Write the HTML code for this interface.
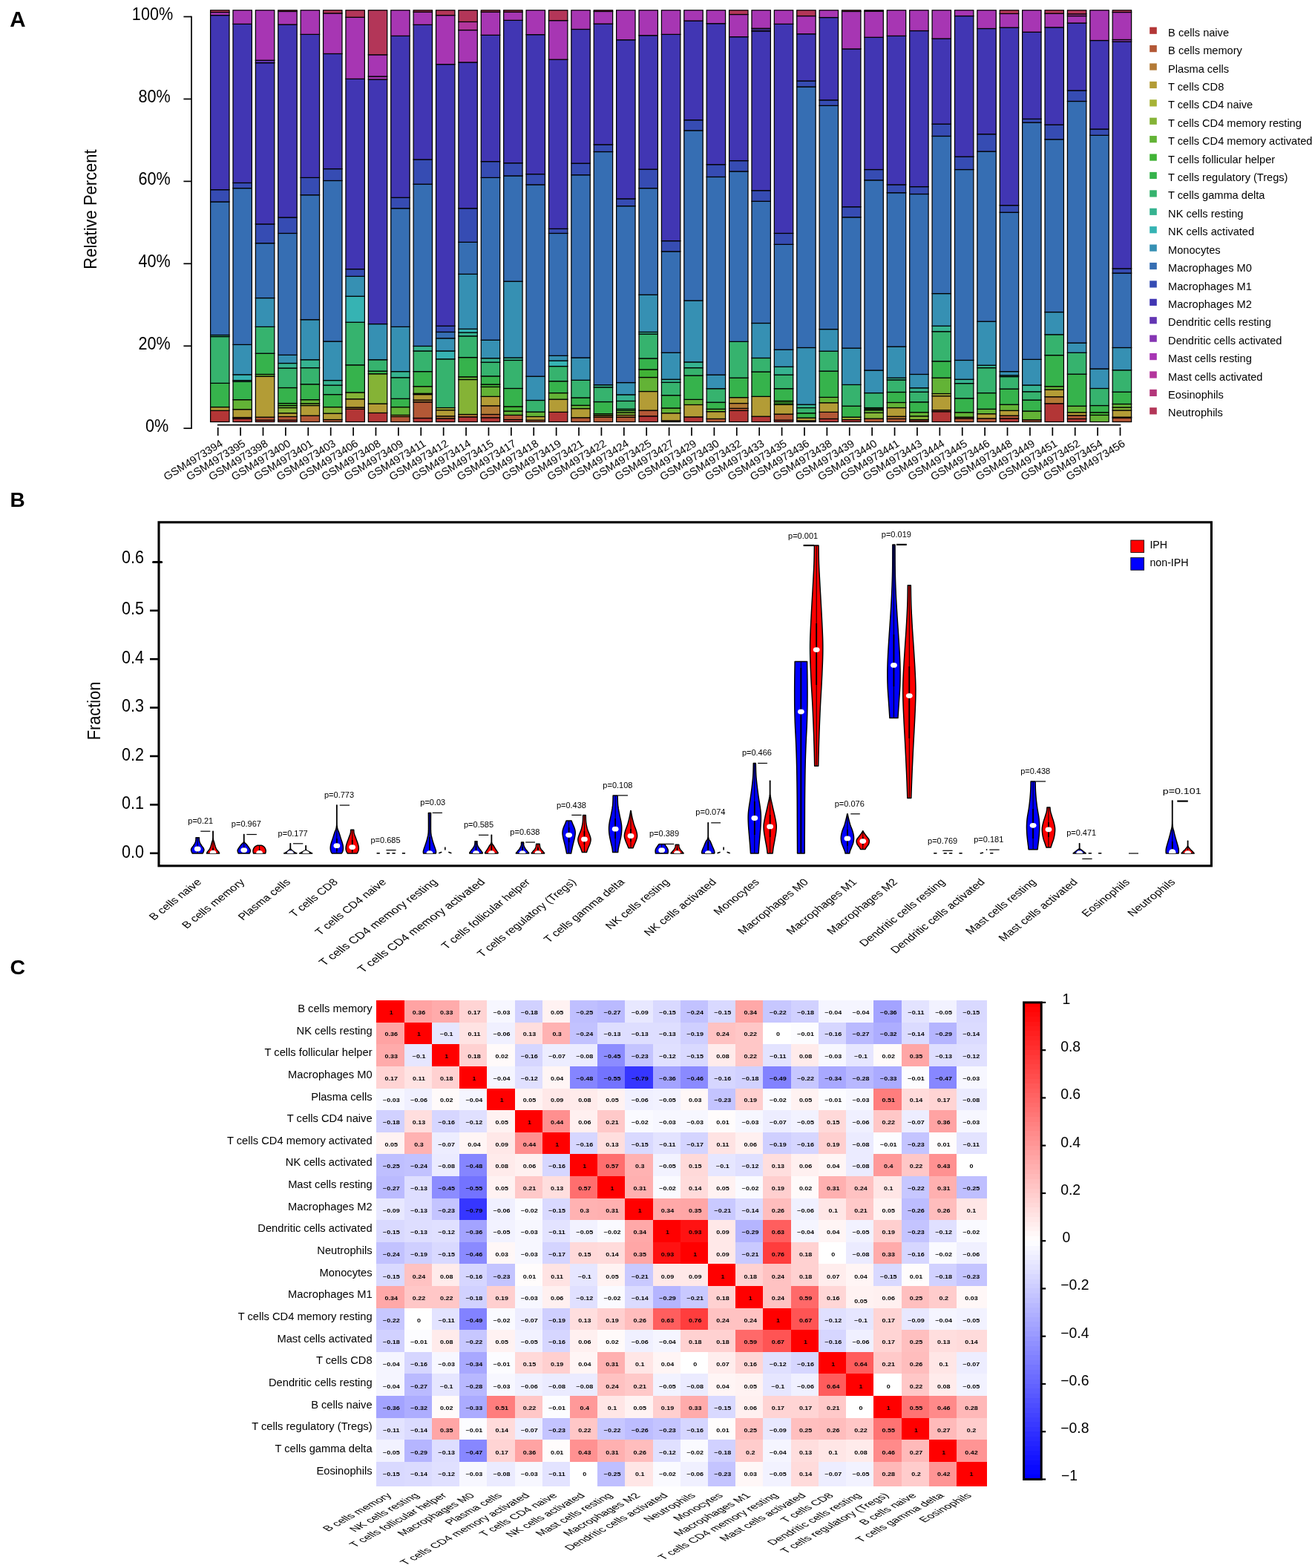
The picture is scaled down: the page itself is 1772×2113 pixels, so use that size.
<!DOCTYPE html>
<html lang="en"><head><meta charset="utf-8"><title>Immune cell infiltration figure</title>
<style>html,body{margin:0;padding:0;background:#fff}svg{display:block}text{font-family:"Liberation Sans",Arial,Helvetica,sans-serif;fill:#000}</style>
</head><body>
<svg width="1772" height="2113" viewBox="0 0 1772 2113" role="img" aria-label="Immune cell infiltration: stacked bar chart, violin plot and correlation heatmap">
<rect width="1772" height="2113" fill="#fff"/>
<g id="panelA">
<text x="13.3" y="35.6" font-size="29.5" font-weight="bold">A</text>
<g stroke="#000" stroke-width="1.25">
<rect x="283.6" y="553.3" width="25.4" height="15.2" fill="#b33636"/>
<rect x="283.6" y="548.55" width="25.4" height="4.75" fill="#b39c36"/>
<rect x="283.6" y="516.38" width="25.4" height="32.17" fill="#36b34c"/>
<rect x="283.6" y="453.55" width="25.4" height="62.84" fill="#36b36e"/>
<rect x="283.6" y="451.51" width="25.4" height="2.04" fill="#36b390"/>
<rect x="283.6" y="271.94" width="25.4" height="179.57" fill="#366eb3"/>
<rect x="283.6" y="255.66" width="25.4" height="16.29" fill="#364cb3"/>
<rect x="283.6" y="20.59" width="25.4" height="235.07" fill="#4136b3"/>
<rect x="283.6" y="16.51" width="25.4" height="4.07" fill="#a736b3"/>
<rect x="283.6" y="13.8" width="25.4" height="2.71" fill="#b33658"/>
<rect x="313.99" y="564.16" width="25.4" height="4.34" fill="#b33636"/>
<rect x="313.99" y="562.53" width="25.4" height="1.63" fill="#b35836"/>
<rect x="313.99" y="551.67" width="25.4" height="10.86" fill="#b39c36"/>
<rect x="313.99" y="538.64" width="25.4" height="13.03" fill="#63b336"/>
<rect x="313.99" y="514.21" width="25.4" height="24.43" fill="#36b34c"/>
<rect x="313.99" y="512.58" width="25.4" height="1.63" fill="#36b390"/>
<rect x="313.99" y="504.85" width="25.4" height="7.74" fill="#36b3b3"/>
<rect x="313.99" y="464.4" width="25.4" height="40.45" fill="#3690b3"/>
<rect x="313.99" y="253.62" width="25.4" height="210.78" fill="#366eb3"/>
<rect x="313.99" y="246.43" width="25.4" height="7.19" fill="#364cb3"/>
<rect x="313.99" y="32.39" width="25.4" height="214.03" fill="#4136b3"/>
<rect x="313.99" y="13.8" width="25.4" height="18.59" fill="#a736b3"/>
<rect x="344.38" y="566.19" width="25.4" height="2.31" fill="#b33636"/>
<rect x="344.38" y="562.12" width="25.4" height="4.07" fill="#b35836"/>
<rect x="344.38" y="507.16" width="25.4" height="54.97" fill="#b39c36"/>
<rect x="344.38" y="504.44" width="25.4" height="2.71" fill="#63b336"/>
<rect x="344.38" y="476.21" width="25.4" height="28.23" fill="#36b34c"/>
<rect x="344.38" y="440.38" width="25.4" height="35.83" fill="#36b36e"/>
<rect x="344.38" y="401.56" width="25.4" height="38.82" fill="#3690b3"/>
<rect x="344.38" y="327.73" width="25.4" height="73.83" fill="#366eb3"/>
<rect x="344.38" y="301.94" width="25.4" height="25.79" fill="#364cb3"/>
<rect x="344.38" y="84.65" width="25.4" height="217.3" fill="#4136b3"/>
<rect x="344.38" y="81.25" width="25.4" height="3.39" fill="#6336b3"/>
<rect x="344.38" y="13.8" width="25.4" height="67.45" fill="#a736b3"/>
<rect x="374.77" y="566.19" width="25.4" height="2.31" fill="#b33636"/>
<rect x="374.77" y="561.44" width="25.4" height="4.75" fill="#b35836"/>
<rect x="374.77" y="556.69" width="25.4" height="4.75" fill="#b39c36"/>
<rect x="374.77" y="549.5" width="25.4" height="7.19" fill="#85b336"/>
<rect x="374.77" y="546.51" width="25.4" height="2.99" fill="#63b336"/>
<rect x="374.77" y="543.53" width="25.4" height="2.99" fill="#41b336"/>
<rect x="374.77" y="522.49" width="25.4" height="21.04" fill="#36b34c"/>
<rect x="374.77" y="496.03" width="25.4" height="26.47" fill="#36b36e"/>
<rect x="374.77" y="489.51" width="25.4" height="6.51" fill="#36b390"/>
<rect x="374.77" y="478.38" width="25.4" height="11.13" fill="#3690b3"/>
<rect x="374.77" y="314.43" width="25.4" height="163.95" fill="#366eb3"/>
<rect x="374.77" y="292.99" width="25.4" height="21.44" fill="#364cb3"/>
<rect x="374.77" y="33.07" width="25.4" height="259.91" fill="#4136b3"/>
<rect x="374.77" y="15.43" width="25.4" height="17.64" fill="#a736b3"/>
<rect x="374.77" y="13.8" width="25.4" height="1.63" fill="#b33658"/>
<rect x="405.16" y="560.09" width="25.4" height="8.41" fill="#b35836"/>
<rect x="405.16" y="546.51" width="25.4" height="13.57" fill="#b39c36"/>
<rect x="405.16" y="543.8" width="25.4" height="2.71" fill="#85b336"/>
<rect x="405.16" y="538.64" width="25.4" height="5.16" fill="#63b336"/>
<rect x="405.16" y="517.74" width="25.4" height="20.9" fill="#36b34c"/>
<rect x="405.16" y="495.62" width="25.4" height="22.12" fill="#36b36e"/>
<rect x="405.16" y="484.76" width="25.4" height="10.86" fill="#36b390"/>
<rect x="405.16" y="430.74" width="25.4" height="54.02" fill="#3690b3"/>
<rect x="405.16" y="262.71" width="25.4" height="168.03" fill="#366eb3"/>
<rect x="405.16" y="239.37" width="25.4" height="23.34" fill="#364cb3"/>
<rect x="405.16" y="46.37" width="25.4" height="193" fill="#4136b3"/>
<rect x="405.16" y="13.8" width="25.4" height="32.57" fill="#a736b3"/>
<rect x="435.55" y="565.52" width="25.4" height="2.98" fill="#b35836"/>
<rect x="435.55" y="557.1" width="25.4" height="8.41" fill="#b39c36"/>
<rect x="435.55" y="548.55" width="25.4" height="8.55" fill="#85b336"/>
<rect x="435.55" y="531.59" width="25.4" height="16.97" fill="#36b34c"/>
<rect x="435.55" y="519.1" width="25.4" height="12.49" fill="#36b36e"/>
<rect x="435.55" y="512.58" width="25.4" height="6.51" fill="#36b390"/>
<rect x="435.55" y="460.06" width="25.4" height="52.52" fill="#3690b3"/>
<rect x="435.55" y="243.44" width="25.4" height="216.62" fill="#366eb3"/>
<rect x="435.55" y="227.56" width="25.4" height="15.88" fill="#364cb3"/>
<rect x="435.55" y="72.43" width="25.4" height="155.13" fill="#4136b3"/>
<rect x="435.55" y="17.87" width="25.4" height="54.56" fill="#a736b3"/>
<rect x="435.55" y="13.8" width="25.4" height="4.07" fill="#b33658"/>
<rect x="465.94" y="551.26" width="25.4" height="17.24" fill="#b33636"/>
<rect x="465.94" y="548.96" width="25.4" height="2.31" fill="#b37a36"/>
<rect x="465.94" y="537.69" width="25.4" height="11.26" fill="#b39c36"/>
<rect x="465.94" y="528.87" width="25.4" height="8.82" fill="#85b336"/>
<rect x="465.94" y="491.82" width="25.4" height="37.05" fill="#36b34c"/>
<rect x="465.94" y="434.27" width="25.4" height="57.55" fill="#36b36e"/>
<rect x="465.94" y="399.26" width="25.4" height="35.02" fill="#36b3b3"/>
<rect x="465.94" y="372.38" width="25.4" height="26.87" fill="#3690b3"/>
<rect x="465.94" y="362.61" width="25.4" height="9.77" fill="#364cb3"/>
<rect x="465.94" y="106.36" width="25.4" height="256.25" fill="#4136b3"/>
<rect x="465.94" y="23.3" width="25.4" height="83.06" fill="#a736b3"/>
<rect x="465.94" y="13.8" width="25.4" height="9.5" fill="#b33658"/>
<rect x="496.33" y="556.42" width="25.4" height="12.08" fill="#b33636"/>
<rect x="496.33" y="544.07" width="25.4" height="12.35" fill="#b39c36"/>
<rect x="496.33" y="503.76" width="25.4" height="40.31" fill="#85b336"/>
<rect x="496.33" y="500.1" width="25.4" height="3.66" fill="#36b34c"/>
<rect x="496.33" y="484.76" width="25.4" height="15.34" fill="#36b36e"/>
<rect x="496.33" y="436.58" width="25.4" height="48.18" fill="#3690b3"/>
<rect x="496.33" y="107.04" width="25.4" height="329.54" fill="#4136b3"/>
<rect x="496.33" y="102.97" width="25.4" height="4.07" fill="#a736b3"/>
<rect x="496.33" y="73.79" width="25.4" height="29.18" fill="#a736b3"/>
<rect x="496.33" y="13.8" width="25.4" height="59.99" fill="#b33658"/>
<rect x="526.72" y="561.44" width="25.4" height="7.06" fill="#b35836"/>
<rect x="526.72" y="559.41" width="25.4" height="2.04" fill="#b39c36"/>
<rect x="526.72" y="548.55" width="25.4" height="10.86" fill="#63b336"/>
<rect x="526.72" y="537.29" width="25.4" height="11.26" fill="#36b34c"/>
<rect x="526.72" y="508.78" width="25.4" height="28.5" fill="#36b36e"/>
<rect x="526.72" y="500.64" width="25.4" height="8.14" fill="#36b390"/>
<rect x="526.72" y="440.38" width="25.4" height="60.26" fill="#3690b3"/>
<rect x="526.72" y="280.77" width="25.4" height="159.61" fill="#366eb3"/>
<rect x="526.72" y="266.24" width="25.4" height="14.52" fill="#364cb3"/>
<rect x="526.72" y="48.41" width="25.4" height="217.83" fill="#4136b3"/>
<rect x="526.72" y="13.8" width="25.4" height="34.61" fill="#a736b3"/>
<rect x="557.11" y="563.48" width="25.4" height="5.02" fill="#b33636"/>
<rect x="557.11" y="541.76" width="25.4" height="21.72" fill="#b35836"/>
<rect x="557.11" y="539.05" width="25.4" height="2.71" fill="#b37a36"/>
<rect x="557.11" y="531.59" width="25.4" height="7.46" fill="#b39c36"/>
<rect x="557.11" y="530.23" width="25.4" height="1.36" fill="#a7b336"/>
<rect x="557.11" y="520.73" width="25.4" height="9.5" fill="#63b336"/>
<rect x="557.11" y="500.64" width="25.4" height="20.09" fill="#36b34c"/>
<rect x="557.11" y="472.95" width="25.4" height="27.69" fill="#36b36e"/>
<rect x="557.11" y="466.44" width="25.4" height="6.51" fill="#36b390"/>
<rect x="557.11" y="248.19" width="25.4" height="218.25" fill="#366eb3"/>
<rect x="557.11" y="214.94" width="25.4" height="33.25" fill="#364cb3"/>
<rect x="557.11" y="33.34" width="25.4" height="181.6" fill="#4136b3"/>
<rect x="557.11" y="16.11" width="25.4" height="17.24" fill="#a736b3"/>
<rect x="557.11" y="13.8" width="25.4" height="2.31" fill="#b33658"/>
<rect x="587.5" y="563.89" width="25.4" height="4.61" fill="#b33636"/>
<rect x="587.5" y="560.77" width="25.4" height="3.12" fill="#b37a36"/>
<rect x="587.5" y="552.62" width="25.4" height="8.14" fill="#b39c36"/>
<rect x="587.5" y="549.5" width="25.4" height="3.12" fill="#a7b336"/>
<rect x="587.5" y="483.81" width="25.4" height="65.69" fill="#36b36e"/>
<rect x="587.5" y="472.95" width="25.4" height="10.86" fill="#36b3b3"/>
<rect x="587.5" y="455.85" width="25.4" height="17.1" fill="#3690b3"/>
<rect x="587.5" y="447.44" width="25.4" height="8.41" fill="#366eb3"/>
<rect x="587.5" y="439.29" width="25.4" height="8.14" fill="#364cb3"/>
<rect x="587.5" y="86.68" width="25.4" height="352.61" fill="#4136b3"/>
<rect x="587.5" y="20.59" width="25.4" height="66.1" fill="#a736b3"/>
<rect x="587.5" y="13.8" width="25.4" height="6.79" fill="#b33658"/>
<rect x="617.89" y="561.85" width="25.4" height="6.65" fill="#b33636"/>
<rect x="617.89" y="558.46" width="25.4" height="3.39" fill="#b37a36"/>
<rect x="617.89" y="511.5" width="25.4" height="46.96" fill="#85b336"/>
<rect x="617.89" y="507.83" width="25.4" height="3.66" fill="#63b336"/>
<rect x="617.89" y="481.64" width="25.4" height="26.19" fill="#36b34c"/>
<rect x="617.89" y="452.87" width="25.4" height="28.77" fill="#36b36e"/>
<rect x="617.89" y="448.12" width="25.4" height="4.75" fill="#36b390"/>
<rect x="617.89" y="443.37" width="25.4" height="4.75" fill="#36b3b3"/>
<rect x="617.89" y="369.4" width="25.4" height="73.97" fill="#3690b3"/>
<rect x="617.89" y="326.37" width="25.4" height="43.02" fill="#366eb3"/>
<rect x="617.89" y="280.77" width="25.4" height="45.61" fill="#364cb3"/>
<rect x="617.89" y="83.97" width="25.4" height="196.8" fill="#4136b3"/>
<rect x="617.89" y="40.54" width="25.4" height="43.43" fill="#a736b3"/>
<rect x="617.89" y="29.41" width="25.4" height="11.13" fill="#b3369c"/>
<rect x="617.89" y="13.8" width="25.4" height="15.61" fill="#b33658"/>
<rect x="648.28" y="562.8" width="25.4" height="5.7" fill="#b33636"/>
<rect x="648.28" y="558.46" width="25.4" height="4.34" fill="#b35836"/>
<rect x="648.28" y="546.79" width="25.4" height="11.67" fill="#b37a36"/>
<rect x="648.28" y="534.3" width="25.4" height="12.49" fill="#b39c36"/>
<rect x="648.28" y="521.41" width="25.4" height="12.89" fill="#63b336"/>
<rect x="648.28" y="518.01" width="25.4" height="3.39" fill="#41b336"/>
<rect x="648.28" y="506.88" width="25.4" height="11.13" fill="#36b34c"/>
<rect x="648.28" y="488.15" width="25.4" height="18.73" fill="#36b36e"/>
<rect x="648.28" y="482.73" width="25.4" height="5.43" fill="#36b390"/>
<rect x="648.28" y="458.3" width="25.4" height="24.43" fill="#3690b3"/>
<rect x="648.28" y="239.37" width="25.4" height="218.93" fill="#366eb3"/>
<rect x="648.28" y="217.65" width="25.4" height="21.72" fill="#364cb3"/>
<rect x="648.28" y="47.32" width="25.4" height="170.33" fill="#4136b3"/>
<rect x="648.28" y="16.11" width="25.4" height="31.22" fill="#a736b3"/>
<rect x="648.28" y="13.8" width="25.4" height="2.31" fill="#b33658"/>
<rect x="678.67" y="565.52" width="25.4" height="2.98" fill="#b33636"/>
<rect x="678.67" y="559.41" width="25.4" height="6.11" fill="#b35836"/>
<rect x="678.67" y="553.98" width="25.4" height="5.43" fill="#63b336"/>
<rect x="678.67" y="547.87" width="25.4" height="6.11" fill="#41b336"/>
<rect x="678.67" y="523.44" width="25.4" height="24.43" fill="#36b34c"/>
<rect x="678.67" y="485.44" width="25.4" height="38" fill="#36b36e"/>
<rect x="678.67" y="482.05" width="25.4" height="3.39" fill="#36b390"/>
<rect x="678.67" y="379.17" width="25.4" height="102.88" fill="#3690b3"/>
<rect x="678.67" y="236.93" width="25.4" height="142.24" fill="#366eb3"/>
<rect x="678.67" y="219.69" width="25.4" height="17.24" fill="#364cb3"/>
<rect x="678.67" y="27.37" width="25.4" height="192.32" fill="#4136b3"/>
<rect x="678.67" y="16.11" width="25.4" height="11.26" fill="#a736b3"/>
<rect x="678.67" y="13.8" width="25.4" height="2.31" fill="#b33658"/>
<rect x="709.06" y="566.19" width="25.4" height="2.31" fill="#b35836"/>
<rect x="709.06" y="561.44" width="25.4" height="4.75" fill="#b39c36"/>
<rect x="709.06" y="555.07" width="25.4" height="6.38" fill="#63b336"/>
<rect x="709.06" y="539.46" width="25.4" height="15.61" fill="#36b36e"/>
<rect x="709.06" y="507.16" width="25.4" height="32.3" fill="#3690b3"/>
<rect x="709.06" y="248.87" width="25.4" height="258.28" fill="#366eb3"/>
<rect x="709.06" y="234.62" width="25.4" height="14.25" fill="#364cb3"/>
<rect x="709.06" y="46.64" width="25.4" height="187.98" fill="#4136b3"/>
<rect x="709.06" y="13.8" width="25.4" height="32.84" fill="#a736b3"/>
<rect x="739.45" y="555.34" width="25.4" height="13.16" fill="#b33636"/>
<rect x="739.45" y="538.1" width="25.4" height="17.24" fill="#b39c36"/>
<rect x="739.45" y="529.55" width="25.4" height="8.55" fill="#63b336"/>
<rect x="739.45" y="513.67" width="25.4" height="15.88" fill="#36b34c"/>
<rect x="739.45" y="493.58" width="25.4" height="20.09" fill="#36b36e"/>
<rect x="739.45" y="486.12" width="25.4" height="7.46" fill="#36b3b3"/>
<rect x="739.45" y="479.33" width="25.4" height="6.79" fill="#3690b3"/>
<rect x="739.45" y="314.43" width="25.4" height="164.9" fill="#366eb3"/>
<rect x="739.45" y="308.32" width="25.4" height="6.11" fill="#364cb3"/>
<rect x="739.45" y="80.17" width="25.4" height="228.15" fill="#4136b3"/>
<rect x="739.45" y="27.64" width="25.4" height="52.52" fill="#a736b3"/>
<rect x="739.45" y="13.8" width="25.4" height="13.84" fill="#b33658"/>
<rect x="769.84" y="562.8" width="25.4" height="5.7" fill="#b35836"/>
<rect x="769.84" y="550.59" width="25.4" height="12.21" fill="#b39c36"/>
<rect x="769.84" y="546.24" width="25.4" height="4.34" fill="#63b336"/>
<rect x="769.84" y="535.93" width="25.4" height="10.31" fill="#36b34c"/>
<rect x="769.84" y="512.31" width="25.4" height="23.62" fill="#36b36e"/>
<rect x="769.84" y="482.05" width="25.4" height="30.27" fill="#3690b3"/>
<rect x="769.84" y="235.71" width="25.4" height="246.34" fill="#366eb3"/>
<rect x="769.84" y="220.1" width="25.4" height="15.61" fill="#364cb3"/>
<rect x="769.84" y="39.45" width="25.4" height="180.65" fill="#4136b3"/>
<rect x="769.84" y="13.8" width="25.4" height="25.65" fill="#a736b3"/>
<rect x="800.23" y="562.12" width="25.4" height="6.38" fill="#b35836"/>
<rect x="800.23" y="559.82" width="25.4" height="2.31" fill="#b37a36"/>
<rect x="800.23" y="557.64" width="25.4" height="2.17" fill="#63b336"/>
<rect x="800.23" y="541.49" width="25.4" height="16.15" fill="#36b34c"/>
<rect x="800.23" y="521.81" width="25.4" height="19.68" fill="#36b36e"/>
<rect x="800.23" y="518.69" width="25.4" height="3.12" fill="#36b390"/>
<rect x="800.23" y="204.49" width="25.4" height="314.2" fill="#366eb3"/>
<rect x="800.23" y="194.85" width="25.4" height="9.64" fill="#364cb3"/>
<rect x="800.23" y="32.12" width="25.4" height="162.73" fill="#4136b3"/>
<rect x="800.23" y="15.43" width="25.4" height="16.69" fill="#a736b3"/>
<rect x="800.23" y="13.8" width="25.4" height="1.63" fill="#b33658"/>
<rect x="830.62" y="562.12" width="25.4" height="6.38" fill="#b35836"/>
<rect x="830.62" y="559.41" width="25.4" height="2.71" fill="#b37a36"/>
<rect x="830.62" y="556.02" width="25.4" height="3.39" fill="#85b336"/>
<rect x="830.62" y="553.3" width="25.4" height="2.71" fill="#63b336"/>
<rect x="830.62" y="551.26" width="25.4" height="2.04" fill="#36b34c"/>
<rect x="830.62" y="540.41" width="25.4" height="10.86" fill="#36b36e"/>
<rect x="830.62" y="531.86" width="25.4" height="8.55" fill="#36b390"/>
<rect x="830.62" y="515.57" width="25.4" height="16.29" fill="#3690b3"/>
<rect x="830.62" y="277.64" width="25.4" height="237.93" fill="#366eb3"/>
<rect x="830.62" y="267.87" width="25.4" height="9.77" fill="#364cb3"/>
<rect x="830.62" y="53.7" width="25.4" height="214.17" fill="#4136b3"/>
<rect x="830.62" y="13.8" width="25.4" height="39.9" fill="#a736b3"/>
<rect x="861.01" y="560.77" width="25.4" height="7.73" fill="#b33636"/>
<rect x="861.01" y="553.03" width="25.4" height="7.74" fill="#b35836"/>
<rect x="861.01" y="527.51" width="25.4" height="25.52" fill="#b39c36"/>
<rect x="861.01" y="508.51" width="25.4" height="19" fill="#63b336"/>
<rect x="861.01" y="497.93" width="25.4" height="10.59" fill="#41b336"/>
<rect x="861.01" y="483" width="25.4" height="14.93" fill="#36b34c"/>
<rect x="861.01" y="450.15" width="25.4" height="32.84" fill="#36b36e"/>
<rect x="861.01" y="447.44" width="25.4" height="2.71" fill="#36b390"/>
<rect x="861.01" y="397.22" width="25.4" height="50.22" fill="#3690b3"/>
<rect x="861.01" y="253.62" width="25.4" height="143.6" fill="#366eb3"/>
<rect x="861.01" y="228.11" width="25.4" height="25.52" fill="#364cb3"/>
<rect x="861.01" y="47.73" width="25.4" height="180.37" fill="#4136b3"/>
<rect x="861.01" y="13.8" width="25.4" height="33.93" fill="#a736b3"/>
<rect x="891.4" y="566.87" width="25.4" height="1.63" fill="#b33636"/>
<rect x="891.4" y="556.69" width="25.4" height="10.18" fill="#b39c36"/>
<rect x="891.4" y="549.91" width="25.4" height="6.79" fill="#63b336"/>
<rect x="891.4" y="532.67" width="25.4" height="17.24" fill="#36b34c"/>
<rect x="891.4" y="515.3" width="25.4" height="17.37" fill="#36b36e"/>
<rect x="891.4" y="511.23" width="25.4" height="4.07" fill="#36b390"/>
<rect x="891.4" y="475.26" width="25.4" height="35.97" fill="#3690b3"/>
<rect x="891.4" y="338.86" width="25.4" height="136.4" fill="#366eb3"/>
<rect x="891.4" y="324.61" width="25.4" height="14.25" fill="#364cb3"/>
<rect x="891.4" y="46.37" width="25.4" height="278.24" fill="#4136b3"/>
<rect x="891.4" y="13.8" width="25.4" height="32.57" fill="#a736b3"/>
<rect x="921.79" y="561.85" width="25.4" height="6.65" fill="#b33636"/>
<rect x="921.79" y="545.43" width="25.4" height="16.42" fill="#b39c36"/>
<rect x="921.79" y="538.37" width="25.4" height="7.06" fill="#63b336"/>
<rect x="921.79" y="506.07" width="25.4" height="32.3" fill="#36b34c"/>
<rect x="921.79" y="495.62" width="25.4" height="10.45" fill="#36b36e"/>
<rect x="921.79" y="487.88" width="25.4" height="7.74" fill="#36b390"/>
<rect x="921.79" y="405.09" width="25.4" height="82.79" fill="#3690b3"/>
<rect x="921.79" y="175.85" width="25.4" height="229.24" fill="#366eb3"/>
<rect x="921.79" y="161.74" width="25.4" height="14.12" fill="#364cb3"/>
<rect x="921.79" y="28.05" width="25.4" height="133.69" fill="#4136b3"/>
<rect x="921.79" y="13.8" width="25.4" height="14.25" fill="#a736b3"/>
<rect x="952.18" y="564.43" width="25.4" height="4.07" fill="#b35836"/>
<rect x="952.18" y="554.66" width="25.4" height="9.77" fill="#b39c36"/>
<rect x="952.18" y="551.26" width="25.4" height="3.39" fill="#63b336"/>
<rect x="952.18" y="542.17" width="25.4" height="9.09" fill="#36b34c"/>
<rect x="952.18" y="523.71" width="25.4" height="18.46" fill="#36b36e"/>
<rect x="952.18" y="505.12" width="25.4" height="18.59" fill="#3690b3"/>
<rect x="952.18" y="238.42" width="25.4" height="266.7" fill="#366eb3"/>
<rect x="952.18" y="221.73" width="25.4" height="16.69" fill="#364cb3"/>
<rect x="952.18" y="31.72" width="25.4" height="190.01" fill="#4136b3"/>
<rect x="952.18" y="13.8" width="25.4" height="17.92" fill="#a736b3"/>
<rect x="982.57" y="553.3" width="25.4" height="15.2" fill="#b33636"/>
<rect x="982.57" y="550.31" width="25.4" height="2.99" fill="#b35836"/>
<rect x="982.57" y="543.53" width="25.4" height="6.79" fill="#b37a36"/>
<rect x="982.57" y="535.66" width="25.4" height="7.87" fill="#b39c36"/>
<rect x="982.57" y="509.19" width="25.4" height="26.47" fill="#36b34c"/>
<rect x="982.57" y="460.33" width="25.4" height="48.86" fill="#36b36e"/>
<rect x="982.57" y="230.96" width="25.4" height="229.38" fill="#366eb3"/>
<rect x="982.57" y="216.57" width="25.4" height="14.39" fill="#364cb3"/>
<rect x="982.57" y="49.63" width="25.4" height="166.94" fill="#4136b3"/>
<rect x="982.57" y="19.5" width="25.4" height="30.13" fill="#a736b3"/>
<rect x="982.57" y="13.8" width="25.4" height="5.7" fill="#b33658"/>
<rect x="1012.96" y="561.17" width="25.4" height="7.33" fill="#b33636"/>
<rect x="1012.96" y="534.3" width="25.4" height="26.87" fill="#b39c36"/>
<rect x="1012.96" y="501.05" width="25.4" height="33.25" fill="#36b34c"/>
<rect x="1012.96" y="482.45" width="25.4" height="18.59" fill="#36b36e"/>
<rect x="1012.96" y="435.49" width="25.4" height="46.96" fill="#3690b3"/>
<rect x="1012.96" y="271.26" width="25.4" height="164.23" fill="#366eb3"/>
<rect x="1012.96" y="256.74" width="25.4" height="14.52" fill="#364cb3"/>
<rect x="1012.96" y="41.89" width="25.4" height="214.85" fill="#4136b3"/>
<rect x="1012.96" y="38.23" width="25.4" height="3.66" fill="#3a2a7a"/>
<rect x="1012.96" y="13.8" width="25.4" height="24.43" fill="#a736b3"/>
<rect x="1043.35" y="566.19" width="25.4" height="2.31" fill="#b33636"/>
<rect x="1043.35" y="558.05" width="25.4" height="8.14" fill="#b35836"/>
<rect x="1043.35" y="545.16" width="25.4" height="12.89" fill="#b39c36"/>
<rect x="1043.35" y="540.41" width="25.4" height="4.75" fill="#2a6b1e"/>
<rect x="1043.35" y="523.71" width="25.4" height="16.69" fill="#36b34c"/>
<rect x="1043.35" y="505.12" width="25.4" height="18.59" fill="#36b36e"/>
<rect x="1043.35" y="494.26" width="25.4" height="10.86" fill="#36b390"/>
<rect x="1043.35" y="471.19" width="25.4" height="23.07" fill="#3690b3"/>
<rect x="1043.35" y="329.36" width="25.4" height="141.83" fill="#366eb3"/>
<rect x="1043.35" y="314.43" width="25.4" height="14.93" fill="#364cb3"/>
<rect x="1043.35" y="32.39" width="25.4" height="282.04" fill="#4136b3"/>
<rect x="1043.35" y="13.8" width="25.4" height="18.59" fill="#a736b3"/>
<rect x="1073.74" y="566.87" width="25.4" height="1.63" fill="#b33636"/>
<rect x="1073.74" y="563.07" width="25.4" height="3.8" fill="#b39c36"/>
<rect x="1073.74" y="556.69" width="25.4" height="6.38" fill="#36b34c"/>
<rect x="1073.74" y="549.5" width="25.4" height="7.19" fill="#36b36e"/>
<rect x="1073.74" y="545.16" width="25.4" height="4.34" fill="#36b390"/>
<rect x="1073.74" y="468.47" width="25.4" height="76.68" fill="#3690b3"/>
<rect x="1073.74" y="116.95" width="25.4" height="351.53" fill="#366eb3"/>
<rect x="1073.74" y="109.08" width="25.4" height="7.87" fill="#364cb3"/>
<rect x="1073.74" y="45.69" width="25.4" height="63.38" fill="#4136b3"/>
<rect x="1073.74" y="21.54" width="25.4" height="24.16" fill="#a736b3"/>
<rect x="1073.74" y="13.8" width="25.4" height="7.74" fill="#b33658"/>
<rect x="1104.13" y="564.43" width="25.4" height="4.07" fill="#b33636"/>
<rect x="1104.13" y="555.34" width="25.4" height="9.09" fill="#b35836"/>
<rect x="1104.13" y="542.71" width="25.4" height="12.62" fill="#b39c36"/>
<rect x="1104.13" y="535.39" width="25.4" height="7.33" fill="#63b336"/>
<rect x="1104.13" y="500.1" width="25.4" height="35.29" fill="#36b34c"/>
<rect x="1104.13" y="473.22" width="25.4" height="26.87" fill="#36b36e"/>
<rect x="1104.13" y="443.64" width="25.4" height="29.59" fill="#3690b3"/>
<rect x="1104.13" y="142.33" width="25.4" height="301.31" fill="#366eb3"/>
<rect x="1104.13" y="134.86" width="25.4" height="7.46" fill="#364cb3"/>
<rect x="1104.13" y="23.57" width="25.4" height="111.29" fill="#4136b3"/>
<rect x="1104.13" y="13.8" width="25.4" height="9.77" fill="#a736b3"/>
<rect x="1134.52" y="565.52" width="25.4" height="2.98" fill="#b33636"/>
<rect x="1134.52" y="562.12" width="25.4" height="3.39" fill="#a7b336"/>
<rect x="1134.52" y="547.19" width="25.4" height="14.93" fill="#36b34c"/>
<rect x="1134.52" y="518.42" width="25.4" height="28.77" fill="#36b36e"/>
<rect x="1134.52" y="469.15" width="25.4" height="49.27" fill="#3690b3"/>
<rect x="1134.52" y="292.71" width="25.4" height="176.44" fill="#366eb3"/>
<rect x="1134.52" y="278.73" width="25.4" height="13.98" fill="#364cb3"/>
<rect x="1134.52" y="65.92" width="25.4" height="212.81" fill="#4136b3"/>
<rect x="1134.52" y="15.43" width="25.4" height="50.49" fill="#a736b3"/>
<rect x="1134.52" y="13.8" width="25.4" height="1.63" fill="#b33658"/>
<rect x="1164.91" y="564.16" width="25.4" height="4.34" fill="#b35836"/>
<rect x="1164.91" y="556.29" width="25.4" height="7.87" fill="#85b336"/>
<rect x="1164.91" y="552.62" width="25.4" height="3.66" fill="#63b336"/>
<rect x="1164.91" y="549.5" width="25.4" height="3.12" fill="#0e2a0e"/>
<rect x="1164.91" y="529.55" width="25.4" height="19.95" fill="#36b36e"/>
<rect x="1164.91" y="499.01" width="25.4" height="30.54" fill="#3690b3"/>
<rect x="1164.91" y="242.76" width="25.4" height="256.25" fill="#366eb3"/>
<rect x="1164.91" y="228.51" width="25.4" height="14.25" fill="#364cb3"/>
<rect x="1164.91" y="50.31" width="25.4" height="178.2" fill="#4136b3"/>
<rect x="1164.91" y="15.16" width="25.4" height="35.15" fill="#a736b3"/>
<rect x="1164.91" y="13.8" width="25.4" height="1.36" fill="#b33658"/>
<rect x="1195.3" y="564.43" width="25.4" height="4.07" fill="#b35836"/>
<rect x="1195.3" y="561.17" width="25.4" height="3.26" fill="#b37a36"/>
<rect x="1195.3" y="549.5" width="25.4" height="11.67" fill="#b39c36"/>
<rect x="1195.3" y="542.44" width="25.4" height="7.06" fill="#63b336"/>
<rect x="1195.3" y="528.46" width="25.4" height="13.98" fill="#36b34c"/>
<rect x="1195.3" y="511.91" width="25.4" height="16.56" fill="#36b36e"/>
<rect x="1195.3" y="509.19" width="25.4" height="2.71" fill="#36b390"/>
<rect x="1195.3" y="467.12" width="25.4" height="42.07" fill="#3690b3"/>
<rect x="1195.3" y="259.73" width="25.4" height="207.39" fill="#366eb3"/>
<rect x="1195.3" y="248.87" width="25.4" height="10.86" fill="#364cb3"/>
<rect x="1195.3" y="48.41" width="25.4" height="200.46" fill="#4136b3"/>
<rect x="1195.3" y="13.8" width="25.4" height="34.61" fill="#a736b3"/>
<rect x="1225.69" y="565.52" width="25.4" height="2.98" fill="#6b2a1e"/>
<rect x="1225.69" y="560.77" width="25.4" height="4.75" fill="#85b336"/>
<rect x="1225.69" y="555.61" width="25.4" height="5.16" fill="#63b336"/>
<rect x="1225.69" y="541.76" width="25.4" height="13.84" fill="#36b34c"/>
<rect x="1225.69" y="528.19" width="25.4" height="13.57" fill="#36b36e"/>
<rect x="1225.69" y="522.76" width="25.4" height="5.43" fill="#36b390"/>
<rect x="1225.69" y="504.44" width="25.4" height="18.32" fill="#3690b3"/>
<rect x="1225.69" y="261.49" width="25.4" height="242.95" fill="#366eb3"/>
<rect x="1225.69" y="251.59" width="25.4" height="9.91" fill="#364cb3"/>
<rect x="1225.69" y="41.49" width="25.4" height="210.1" fill="#4136b3"/>
<rect x="1225.69" y="13.8" width="25.4" height="27.69" fill="#a736b3"/>
<rect x="1256.08" y="554.66" width="25.4" height="13.84" fill="#b33636"/>
<rect x="1256.08" y="552.62" width="25.4" height="2.04" fill="#b35836"/>
<rect x="1256.08" y="533.62" width="25.4" height="19" fill="#b39c36"/>
<rect x="1256.08" y="530.5" width="25.4" height="3.12" fill="#a7b336"/>
<rect x="1256.08" y="509.19" width="25.4" height="21.31" fill="#63b336"/>
<rect x="1256.08" y="486.8" width="25.4" height="22.39" fill="#36b34c"/>
<rect x="1256.08" y="446.76" width="25.4" height="40.04" fill="#36b36e"/>
<rect x="1256.08" y="439.29" width="25.4" height="7.46" fill="#36b390"/>
<rect x="1256.08" y="395.59" width="25.4" height="43.7" fill="#3690b3"/>
<rect x="1256.08" y="183.45" width="25.4" height="212.14" fill="#366eb3"/>
<rect x="1256.08" y="167.17" width="25.4" height="16.29" fill="#364cb3"/>
<rect x="1256.08" y="52.07" width="25.4" height="115.09" fill="#4136b3"/>
<rect x="1256.08" y="13.8" width="25.4" height="38.27" fill="#a736b3"/>
<rect x="1286.47" y="563.89" width="25.4" height="4.61" fill="#b35836"/>
<rect x="1286.47" y="562.12" width="25.4" height="1.76" fill="#b37a36"/>
<rect x="1286.47" y="555.74" width="25.4" height="6.38" fill="#63b336"/>
<rect x="1286.47" y="536.74" width="25.4" height="19" fill="#36b34c"/>
<rect x="1286.47" y="516.66" width="25.4" height="20.09" fill="#36b36e"/>
<rect x="1286.47" y="511.23" width="25.4" height="5.43" fill="#36b390"/>
<rect x="1286.47" y="485.44" width="25.4" height="25.79" fill="#3690b3"/>
<rect x="1286.47" y="228.51" width="25.4" height="256.93" fill="#366eb3"/>
<rect x="1286.47" y="211.14" width="25.4" height="17.37" fill="#364cb3"/>
<rect x="1286.47" y="21.54" width="25.4" height="189.6" fill="#4136b3"/>
<rect x="1286.47" y="13.8" width="25.4" height="7.74" fill="#a736b3"/>
<rect x="1316.86" y="563.89" width="25.4" height="4.61" fill="#b35836"/>
<rect x="1316.86" y="557.64" width="25.4" height="6.24" fill="#b39c36"/>
<rect x="1316.86" y="551.26" width="25.4" height="6.38" fill="#63b336"/>
<rect x="1316.86" y="529.55" width="25.4" height="21.72" fill="#36b34c"/>
<rect x="1316.86" y="495.62" width="25.4" height="33.93" fill="#36b36e"/>
<rect x="1316.86" y="492.23" width="25.4" height="3.39" fill="#36b390"/>
<rect x="1316.86" y="433.19" width="25.4" height="59.04" fill="#3690b3"/>
<rect x="1316.86" y="204.08" width="25.4" height="229.1" fill="#366eb3"/>
<rect x="1316.86" y="180.74" width="25.4" height="23.34" fill="#364cb3"/>
<rect x="1316.86" y="38.5" width="25.4" height="142.24" fill="#4136b3"/>
<rect x="1316.86" y="13.8" width="25.4" height="24.7" fill="#a736b3"/>
<rect x="1347.25" y="563.89" width="25.4" height="4.61" fill="#b33636"/>
<rect x="1347.25" y="560.09" width="25.4" height="3.8" fill="#b35836"/>
<rect x="1347.25" y="553.3" width="25.4" height="6.79" fill="#b39c36"/>
<rect x="1347.25" y="545.16" width="25.4" height="8.14" fill="#63b336"/>
<rect x="1347.25" y="524.12" width="25.4" height="21.04" fill="#36b34c"/>
<rect x="1347.25" y="507.56" width="25.4" height="16.56" fill="#36b36e"/>
<rect x="1347.25" y="505.8" width="25.4" height="1.76" fill="#36b390"/>
<rect x="1347.25" y="500.64" width="25.4" height="5.16" fill="#3690b3"/>
<rect x="1347.25" y="286.19" width="25.4" height="214.45" fill="#366eb3"/>
<rect x="1347.25" y="276.69" width="25.4" height="9.5" fill="#364cb3"/>
<rect x="1347.25" y="37.14" width="25.4" height="239.55" fill="#4136b3"/>
<rect x="1347.25" y="18.41" width="25.4" height="18.73" fill="#a736b3"/>
<rect x="1347.25" y="13.8" width="25.4" height="4.61" fill="#b33658"/>
<rect x="1377.64" y="565.79" width="25.4" height="2.71" fill="#b35836"/>
<rect x="1377.64" y="553.98" width="25.4" height="11.81" fill="#63b336"/>
<rect x="1377.64" y="539.05" width="25.4" height="14.93" fill="#36b34c"/>
<rect x="1377.64" y="527.79" width="25.4" height="11.26" fill="#36b36e"/>
<rect x="1377.64" y="518.96" width="25.4" height="8.82" fill="#36b390"/>
<rect x="1377.64" y="484.35" width="25.4" height="34.61" fill="#3690b3"/>
<rect x="1377.64" y="165.13" width="25.4" height="319.22" fill="#366eb3"/>
<rect x="1377.64" y="160.38" width="25.4" height="4.75" fill="#364cb3"/>
<rect x="1377.64" y="43.25" width="25.4" height="117.13" fill="#4136b3"/>
<rect x="1377.64" y="13.8" width="25.4" height="29.45" fill="#a736b3"/>
<rect x="1408.03" y="543.8" width="25.4" height="24.7" fill="#b33636"/>
<rect x="1408.03" y="534.71" width="25.4" height="9.09" fill="#b37a36"/>
<rect x="1408.03" y="525.07" width="25.4" height="9.64" fill="#b39c36"/>
<rect x="1408.03" y="520.73" width="25.4" height="4.34" fill="#63b336"/>
<rect x="1408.03" y="478.65" width="25.4" height="42.07" fill="#36b34c"/>
<rect x="1408.03" y="450.83" width="25.4" height="27.82" fill="#36b36e"/>
<rect x="1408.03" y="420.56" width="25.4" height="30.27" fill="#3690b3"/>
<rect x="1408.03" y="187.8" width="25.4" height="232.77" fill="#366eb3"/>
<rect x="1408.03" y="168.12" width="25.4" height="19.68" fill="#364cb3"/>
<rect x="1408.03" y="36.87" width="25.4" height="131.24" fill="#4136b3"/>
<rect x="1408.03" y="18.14" width="25.4" height="18.73" fill="#a736b3"/>
<rect x="1408.03" y="13.8" width="25.4" height="4.34" fill="#b33658"/>
<rect x="1438.42" y="564.43" width="25.4" height="4.07" fill="#b33636"/>
<rect x="1438.42" y="559.82" width="25.4" height="4.61" fill="#b35836"/>
<rect x="1438.42" y="555.74" width="25.4" height="4.07" fill="#b39c36"/>
<rect x="1438.42" y="547.19" width="25.4" height="8.55" fill="#63b336"/>
<rect x="1438.42" y="504.17" width="25.4" height="43.02" fill="#36b34c"/>
<rect x="1438.42" y="475.26" width="25.4" height="28.91" fill="#36b36e"/>
<rect x="1438.42" y="462.1" width="25.4" height="13.17" fill="#3690b3"/>
<rect x="1438.42" y="136.49" width="25.4" height="325.6" fill="#366eb3"/>
<rect x="1438.42" y="121.97" width="25.4" height="14.52" fill="#364cb3"/>
<rect x="1438.42" y="31.04" width="25.4" height="90.93" fill="#4136b3"/>
<rect x="1438.42" y="21.54" width="25.4" height="9.5" fill="#a736b3"/>
<rect x="1438.42" y="18.82" width="25.4" height="2.71" fill="#b3369c"/>
<rect x="1438.42" y="13.8" width="25.4" height="5.02" fill="#b33658"/>
<rect x="1468.81" y="559.41" width="25.4" height="9.09" fill="#63b336"/>
<rect x="1468.81" y="555.74" width="25.4" height="3.66" fill="#41b336"/>
<rect x="1468.81" y="546.51" width="25.4" height="9.23" fill="#36b34c"/>
<rect x="1468.81" y="523.44" width="25.4" height="23.07" fill="#36b36e"/>
<rect x="1468.81" y="496.98" width="25.4" height="26.47" fill="#3690b3"/>
<rect x="1468.81" y="182.37" width="25.4" height="314.61" fill="#366eb3"/>
<rect x="1468.81" y="173.95" width="25.4" height="8.41" fill="#364cb3"/>
<rect x="1468.81" y="54.52" width="25.4" height="119.44" fill="#4136b3"/>
<rect x="1468.81" y="13.8" width="25.4" height="40.72" fill="#a736b3"/>
<rect x="1499.2" y="563.07" width="25.4" height="5.43" fill="#b35836"/>
<rect x="1499.2" y="562.12" width="25.4" height="0.95" fill="#b37a36"/>
<rect x="1499.2" y="552.89" width="25.4" height="9.23" fill="#b39c36"/>
<rect x="1499.2" y="548.96" width="25.4" height="3.94" fill="#85b336"/>
<rect x="1499.2" y="544.48" width="25.4" height="4.48" fill="#63b336"/>
<rect x="1499.2" y="528.19" width="25.4" height="16.29" fill="#36b34c"/>
<rect x="1499.2" y="498.74" width="25.4" height="29.45" fill="#36b36e"/>
<rect x="1499.2" y="468.47" width="25.4" height="30.27" fill="#3690b3"/>
<rect x="1499.2" y="368.04" width="25.4" height="100.43" fill="#366eb3"/>
<rect x="1499.2" y="361.93" width="25.4" height="6.11" fill="#364cb3"/>
<rect x="1499.2" y="56.15" width="25.4" height="305.79" fill="#4136b3"/>
<rect x="1499.2" y="53.43" width="25.4" height="2.71" fill="#8536b3"/>
<rect x="1499.2" y="16.51" width="25.4" height="36.92" fill="#a736b3"/>
<rect x="1499.2" y="13.8" width="25.4" height="2.71" fill="#b33658"/>
</g>
<line x1="258" y1="21.7" x2="258" y2="578" stroke="#000" stroke-width="1.7"/>
<line x1="247.4" y1="577.2" x2="258" y2="577.2" stroke="#000" stroke-width="1.7"/>
<text transform="translate(211.5,581.8) scale(0.92,1)" font-size="23.5" text-anchor="middle">0%</text>
<line x1="247.4" y1="466.26" x2="258" y2="466.26" stroke="#000" stroke-width="1.7"/>
<text transform="translate(208,470.86) scale(0.92,1)" font-size="23.5" text-anchor="middle">20%</text>
<line x1="247.4" y1="355.32" x2="258" y2="355.32" stroke="#000" stroke-width="1.7"/>
<text transform="translate(208,359.92) scale(0.92,1)" font-size="23.5" text-anchor="middle">40%</text>
<line x1="247.4" y1="244.38" x2="258" y2="244.38" stroke="#000" stroke-width="1.7"/>
<text transform="translate(208,248.98) scale(0.92,1)" font-size="23.5" text-anchor="middle">60%</text>
<line x1="247.4" y1="133.44" x2="258" y2="133.44" stroke="#000" stroke-width="1.7"/>
<text transform="translate(208,138.04) scale(0.92,1)" font-size="23.5" text-anchor="middle">80%</text>
<line x1="247.4" y1="22.5" x2="258" y2="22.5" stroke="#000" stroke-width="1.7"/>
<text transform="translate(205.5,27.1) scale(0.92,1)" font-size="23.5" text-anchor="middle">100%</text>
<text transform="translate(129.9,282) rotate(-90) scale(0.957,1)" font-size="23" text-anchor="middle">Relative Percent</text>
<line x1="292.9" y1="572.6" x2="1510.3" y2="572.6" stroke="#000" stroke-width="1.7"/>
<line x1="293.7" y1="576" x2="293.7" y2="587.2" stroke="#000" stroke-width="1.7"/>
<text transform="translate(301.4,600.2) scale(1.04,1.01) rotate(-32.5)" font-size="14.2" text-anchor="end">GSM4973394</text>
<line x1="324.09" y1="576" x2="324.09" y2="587.2" stroke="#000" stroke-width="1.7"/>
<text transform="translate(331.79,600.2) scale(1.04,1.01) rotate(-32.5)" font-size="14.2" text-anchor="end">GSM4973395</text>
<line x1="354.49" y1="576" x2="354.49" y2="587.2" stroke="#000" stroke-width="1.7"/>
<text transform="translate(362.19,600.2) scale(1.04,1.01) rotate(-32.5)" font-size="14.2" text-anchor="end">GSM4973398</text>
<line x1="384.88" y1="576" x2="384.88" y2="587.2" stroke="#000" stroke-width="1.7"/>
<text transform="translate(392.58,600.2) scale(1.04,1.01) rotate(-32.5)" font-size="14.2" text-anchor="end">GSM4973400</text>
<line x1="415.28" y1="576" x2="415.28" y2="587.2" stroke="#000" stroke-width="1.7"/>
<text transform="translate(422.98,600.2) scale(1.04,1.01) rotate(-32.5)" font-size="14.2" text-anchor="end">GSM4973401</text>
<line x1="445.67" y1="576" x2="445.67" y2="587.2" stroke="#000" stroke-width="1.7"/>
<text transform="translate(453.37,600.2) scale(1.04,1.01) rotate(-32.5)" font-size="14.2" text-anchor="end">GSM4973403</text>
<line x1="476.07" y1="576" x2="476.07" y2="587.2" stroke="#000" stroke-width="1.7"/>
<text transform="translate(483.77,600.2) scale(1.04,1.01) rotate(-32.5)" font-size="14.2" text-anchor="end">GSM4973406</text>
<line x1="506.46" y1="576" x2="506.46" y2="587.2" stroke="#000" stroke-width="1.7"/>
<text transform="translate(514.16,600.2) scale(1.04,1.01) rotate(-32.5)" font-size="14.2" text-anchor="end">GSM4973408</text>
<line x1="536.86" y1="576" x2="536.86" y2="587.2" stroke="#000" stroke-width="1.7"/>
<text transform="translate(544.56,600.2) scale(1.04,1.01) rotate(-32.5)" font-size="14.2" text-anchor="end">GSM4973409</text>
<line x1="567.25" y1="576" x2="567.25" y2="587.2" stroke="#000" stroke-width="1.7"/>
<text transform="translate(574.96,600.2) scale(1.04,1.01) rotate(-32.5)" font-size="14.2" text-anchor="end">GSM4973411</text>
<line x1="597.65" y1="576" x2="597.65" y2="587.2" stroke="#000" stroke-width="1.7"/>
<text transform="translate(605.35,600.2) scale(1.04,1.01) rotate(-32.5)" font-size="14.2" text-anchor="end">GSM4973412</text>
<line x1="628.04" y1="576" x2="628.04" y2="587.2" stroke="#000" stroke-width="1.7"/>
<text transform="translate(635.75,600.2) scale(1.04,1.01) rotate(-32.5)" font-size="14.2" text-anchor="end">GSM4973414</text>
<line x1="658.44" y1="576" x2="658.44" y2="587.2" stroke="#000" stroke-width="1.7"/>
<text transform="translate(666.14,600.2) scale(1.04,1.01) rotate(-32.5)" font-size="14.2" text-anchor="end">GSM4973415</text>
<line x1="688.84" y1="576" x2="688.84" y2="587.2" stroke="#000" stroke-width="1.7"/>
<text transform="translate(696.54,600.2) scale(1.04,1.01) rotate(-32.5)" font-size="14.2" text-anchor="end">GSM4973417</text>
<line x1="719.23" y1="576" x2="719.23" y2="587.2" stroke="#000" stroke-width="1.7"/>
<text transform="translate(726.93,600.2) scale(1.04,1.01) rotate(-32.5)" font-size="14.2" text-anchor="end">GSM4973418</text>
<line x1="749.62" y1="576" x2="749.62" y2="587.2" stroke="#000" stroke-width="1.7"/>
<text transform="translate(757.33,600.2) scale(1.04,1.01) rotate(-32.5)" font-size="14.2" text-anchor="end">GSM4973419</text>
<line x1="780.02" y1="576" x2="780.02" y2="587.2" stroke="#000" stroke-width="1.7"/>
<text transform="translate(787.72,600.2) scale(1.04,1.01) rotate(-32.5)" font-size="14.2" text-anchor="end">GSM4973421</text>
<line x1="810.41" y1="576" x2="810.41" y2="587.2" stroke="#000" stroke-width="1.7"/>
<text transform="translate(818.12,600.2) scale(1.04,1.01) rotate(-32.5)" font-size="14.2" text-anchor="end">GSM4973422</text>
<line x1="840.81" y1="576" x2="840.81" y2="587.2" stroke="#000" stroke-width="1.7"/>
<text transform="translate(848.51,600.2) scale(1.04,1.01) rotate(-32.5)" font-size="14.2" text-anchor="end">GSM4973424</text>
<line x1="871.2" y1="576" x2="871.2" y2="587.2" stroke="#000" stroke-width="1.7"/>
<text transform="translate(878.9,600.2) scale(1.04,1.01) rotate(-32.5)" font-size="14.2" text-anchor="end">GSM4973425</text>
<line x1="901.6" y1="576" x2="901.6" y2="587.2" stroke="#000" stroke-width="1.7"/>
<text transform="translate(909.3,600.2) scale(1.04,1.01) rotate(-32.5)" font-size="14.2" text-anchor="end">GSM4973427</text>
<line x1="931.99" y1="576" x2="931.99" y2="587.2" stroke="#000" stroke-width="1.7"/>
<text transform="translate(939.69,600.2) scale(1.04,1.01) rotate(-32.5)" font-size="14.2" text-anchor="end">GSM4973429</text>
<line x1="962.39" y1="576" x2="962.39" y2="587.2" stroke="#000" stroke-width="1.7"/>
<text transform="translate(970.09,600.2) scale(1.04,1.01) rotate(-32.5)" font-size="14.2" text-anchor="end">GSM4973430</text>
<line x1="992.79" y1="576" x2="992.79" y2="587.2" stroke="#000" stroke-width="1.7"/>
<text transform="translate(1000.49,600.2) scale(1.04,1.01) rotate(-32.5)" font-size="14.2" text-anchor="end">GSM4973432</text>
<line x1="1023.18" y1="576" x2="1023.18" y2="587.2" stroke="#000" stroke-width="1.7"/>
<text transform="translate(1030.88,600.2) scale(1.04,1.01) rotate(-32.5)" font-size="14.2" text-anchor="end">GSM4973433</text>
<line x1="1053.58" y1="576" x2="1053.58" y2="587.2" stroke="#000" stroke-width="1.7"/>
<text transform="translate(1061.28,600.2) scale(1.04,1.01) rotate(-32.5)" font-size="14.2" text-anchor="end">GSM4973435</text>
<line x1="1083.97" y1="576" x2="1083.97" y2="587.2" stroke="#000" stroke-width="1.7"/>
<text transform="translate(1091.67,600.2) scale(1.04,1.01) rotate(-32.5)" font-size="14.2" text-anchor="end">GSM4973436</text>
<line x1="1114.37" y1="576" x2="1114.37" y2="587.2" stroke="#000" stroke-width="1.7"/>
<text transform="translate(1122.07,600.2) scale(1.04,1.01) rotate(-32.5)" font-size="14.2" text-anchor="end">GSM4973438</text>
<line x1="1144.76" y1="576" x2="1144.76" y2="587.2" stroke="#000" stroke-width="1.7"/>
<text transform="translate(1152.46,600.2) scale(1.04,1.01) rotate(-32.5)" font-size="14.2" text-anchor="end">GSM4973439</text>
<line x1="1175.15" y1="576" x2="1175.15" y2="587.2" stroke="#000" stroke-width="1.7"/>
<text transform="translate(1182.86,600.2) scale(1.04,1.01) rotate(-32.5)" font-size="14.2" text-anchor="end">GSM4973440</text>
<line x1="1205.55" y1="576" x2="1205.55" y2="587.2" stroke="#000" stroke-width="1.7"/>
<text transform="translate(1213.25,600.2) scale(1.04,1.01) rotate(-32.5)" font-size="14.2" text-anchor="end">GSM4973441</text>
<line x1="1235.94" y1="576" x2="1235.94" y2="587.2" stroke="#000" stroke-width="1.7"/>
<text transform="translate(1243.64,600.2) scale(1.04,1.01) rotate(-32.5)" font-size="14.2" text-anchor="end">GSM4973443</text>
<line x1="1266.34" y1="576" x2="1266.34" y2="587.2" stroke="#000" stroke-width="1.7"/>
<text transform="translate(1274.04,600.2) scale(1.04,1.01) rotate(-32.5)" font-size="14.2" text-anchor="end">GSM4973444</text>
<line x1="1296.73" y1="576" x2="1296.73" y2="587.2" stroke="#000" stroke-width="1.7"/>
<text transform="translate(1304.43,600.2) scale(1.04,1.01) rotate(-32.5)" font-size="14.2" text-anchor="end">GSM4973445</text>
<line x1="1327.13" y1="576" x2="1327.13" y2="587.2" stroke="#000" stroke-width="1.7"/>
<text transform="translate(1334.83,600.2) scale(1.04,1.01) rotate(-32.5)" font-size="14.2" text-anchor="end">GSM4973446</text>
<line x1="1357.53" y1="576" x2="1357.53" y2="587.2" stroke="#000" stroke-width="1.7"/>
<text transform="translate(1365.23,600.2) scale(1.04,1.01) rotate(-32.5)" font-size="14.2" text-anchor="end">GSM4973448</text>
<line x1="1387.92" y1="576" x2="1387.92" y2="587.2" stroke="#000" stroke-width="1.7"/>
<text transform="translate(1395.62,600.2) scale(1.04,1.01) rotate(-32.5)" font-size="14.2" text-anchor="end">GSM4973449</text>
<line x1="1418.32" y1="576" x2="1418.32" y2="587.2" stroke="#000" stroke-width="1.7"/>
<text transform="translate(1426.02,600.2) scale(1.04,1.01) rotate(-32.5)" font-size="14.2" text-anchor="end">GSM4973451</text>
<line x1="1448.71" y1="576" x2="1448.71" y2="587.2" stroke="#000" stroke-width="1.7"/>
<text transform="translate(1456.41,600.2) scale(1.04,1.01) rotate(-32.5)" font-size="14.2" text-anchor="end">GSM4973452</text>
<line x1="1479.11" y1="576" x2="1479.11" y2="587.2" stroke="#000" stroke-width="1.7"/>
<text transform="translate(1486.81,600.2) scale(1.04,1.01) rotate(-32.5)" font-size="14.2" text-anchor="end">GSM4973454</text>
<line x1="1509.5" y1="576" x2="1509.5" y2="587.2" stroke="#000" stroke-width="1.7"/>
<text transform="translate(1517.2,600.2) scale(1.04,1.01) rotate(-32.5)" font-size="14.2" text-anchor="end">GSM4973456</text>
<rect x="1549.2" y="36.6" width="9.6" height="9.2" fill="#b33636"/>
<text x="1574.1" y="48.8" font-size="14.6">B cells naive</text>
<rect x="1549.2" y="61.01" width="9.6" height="9.2" fill="#b35836"/>
<text x="1574.1" y="73.21" font-size="14.6">B cells memory</text>
<rect x="1549.2" y="85.42" width="9.6" height="9.2" fill="#b37a36"/>
<text x="1574.1" y="97.62" font-size="14.6">Plasma cells</text>
<rect x="1549.2" y="109.83" width="9.6" height="9.2" fill="#b39c36"/>
<text x="1574.1" y="122.03" font-size="14.6">T cells CD8</text>
<rect x="1549.2" y="134.24" width="9.6" height="9.2" fill="#a7b336"/>
<text x="1574.1" y="146.44" font-size="14.6">T cells CD4 naive</text>
<rect x="1549.2" y="158.65" width="9.6" height="9.2" fill="#85b336"/>
<text x="1574.1" y="170.85" font-size="14.6">T cells CD4 memory resting</text>
<rect x="1549.2" y="183.06" width="9.6" height="9.2" fill="#63b336"/>
<text x="1574.1" y="195.26" font-size="14.6">T cells CD4 memory activated</text>
<rect x="1549.2" y="207.47" width="9.6" height="9.2" fill="#41b336"/>
<text x="1574.1" y="219.67" font-size="14.6">T cells follicular helper</text>
<rect x="1549.2" y="231.88" width="9.6" height="9.2" fill="#36b34c"/>
<text x="1574.1" y="244.08" font-size="14.6">T cells regulatory (Tregs)</text>
<rect x="1549.2" y="256.29" width="9.6" height="9.2" fill="#36b36e"/>
<text x="1574.1" y="268.49" font-size="14.6">T cells gamma delta</text>
<rect x="1549.2" y="280.7" width="9.6" height="9.2" fill="#36b390"/>
<text x="1574.1" y="292.9" font-size="14.6">NK cells resting</text>
<rect x="1549.2" y="305.11" width="9.6" height="9.2" fill="#36b3b3"/>
<text x="1574.1" y="317.31" font-size="14.6">NK cells activated</text>
<rect x="1549.2" y="329.52" width="9.6" height="9.2" fill="#3690b3"/>
<text x="1574.1" y="341.72" font-size="14.6">Monocytes</text>
<rect x="1549.2" y="353.93" width="9.6" height="9.2" fill="#366eb3"/>
<text x="1574.1" y="366.13" font-size="14.6">Macrophages M0</text>
<rect x="1549.2" y="378.34" width="9.6" height="9.2" fill="#364cb3"/>
<text x="1574.1" y="390.54" font-size="14.6">Macrophages M1</text>
<rect x="1549.2" y="402.75" width="9.6" height="9.2" fill="#4136b3"/>
<text x="1574.1" y="414.95" font-size="14.6">Macrophages M2</text>
<rect x="1549.2" y="427.16" width="9.6" height="9.2" fill="#6336b3"/>
<text x="1574.1" y="439.36" font-size="14.6">Dendritic cells resting</text>
<rect x="1549.2" y="451.57" width="9.6" height="9.2" fill="#8536b3"/>
<text x="1574.1" y="463.77" font-size="14.6">Dendritic cells activated</text>
<rect x="1549.2" y="475.98" width="9.6" height="9.2" fill="#a736b3"/>
<text x="1574.1" y="488.18" font-size="14.6">Mast cells resting</text>
<rect x="1549.2" y="500.39" width="9.6" height="9.2" fill="#b3369c"/>
<text x="1574.1" y="512.59" font-size="14.6">Mast cells activated</text>
<rect x="1549.2" y="524.8" width="9.6" height="9.2" fill="#b3367a"/>
<text x="1574.1" y="537" font-size="14.6">Eosinophils</text>
<rect x="1549.2" y="549.21" width="9.6" height="9.2" fill="#b33658"/>
<text x="1574.1" y="561.41" font-size="14.6">Neutrophils</text>
</g>
<g id="panelB">
<text x="13.6" y="683.2" font-size="28" font-weight="bold">B</text>
<rect x="214" y="703.8" width="1418.4" height="463" fill="none" stroke="#000" stroke-width="3.1"/>
<line x1="202" y1="1149.8" x2="214" y2="1149.8" stroke="#000" stroke-width="2.6"/>
<text transform="translate(194,1156.1) scale(0.9,1)" font-size="24" text-anchor="end">0.0</text>
<line x1="202" y1="1084.4" x2="214" y2="1084.4" stroke="#000" stroke-width="2.6"/>
<text transform="translate(194,1089.9) scale(0.9,1)" font-size="24" text-anchor="end">0.1</text>
<line x1="202" y1="1019" x2="214" y2="1019" stroke="#000" stroke-width="2.6"/>
<text transform="translate(194,1024.5) scale(0.9,1)" font-size="24" text-anchor="end">0.2</text>
<line x1="202" y1="953.6" x2="214" y2="953.6" stroke="#000" stroke-width="2.6"/>
<text transform="translate(194,959.1) scale(0.9,1)" font-size="24" text-anchor="end">0.3</text>
<line x1="202" y1="888.2" x2="214" y2="888.2" stroke="#000" stroke-width="2.6"/>
<text transform="translate(194,893.7) scale(0.9,1)" font-size="24" text-anchor="end">0.4</text>
<line x1="202" y1="822.8" x2="214" y2="822.8" stroke="#000" stroke-width="2.6"/>
<text transform="translate(194,828.3) scale(0.9,1)" font-size="24" text-anchor="end">0.5</text>
<line x1="206.5" y1="757.4" x2="217.7" y2="757.4" stroke="#000" stroke-width="3" stroke-linecap="round"/>
<text transform="translate(194,758.5) scale(0.9,1)" font-size="24" text-anchor="end">0.6</text>
<text transform="translate(135.2,958) rotate(-90) scale(0.93,1)" font-size="23.4" text-anchor="middle">Fraction</text>
<clipPath id="vc0b"><path d="M268.4 1128.7 L268.4 1129.27 L268.37 1130.08 L268.37 1131.02 L268.44 1132.03 L268.6 1133 L268.88 1133.96 L269.24 1134.95 L269.67 1135.97 L270.16 1136.99 L270.7 1138 L271.36 1139.03 L272.14 1140.1 L272.94 1141.14 L273.66 1142.13 L274.2 1143 L274.54 1143.71 L274.75 1144.3 L274.86 1144.82 L274.87 1145.37 L274.8 1146 L274.6 1146.8 L274.24 1147.72 L273.83 1148.64 L273.45 1149.44 L273.2 1150 L259.2 1150 L258.95 1149.44 L258.57 1148.64 L258.16 1147.72 L257.8 1146.8 L257.6 1146 L257.53 1145.37 L257.54 1144.82 L257.65 1144.3 L257.86 1143.71 L258.2 1143 L258.74 1142.13 L259.46 1141.14 L260.26 1140.1 L261.04 1139.03 L261.7 1138 L262.24 1136.99 L262.73 1135.97 L263.16 1134.95 L263.52 1133.96 L263.8 1133 L263.96 1132.03 L264.03 1131.02 L264.03 1130.08 L264 1129.27 L264 1128.7Z"/></clipPath>
<path d="M268.4 1128.7 L268.4 1129.27 L268.37 1130.08 L268.37 1131.02 L268.44 1132.03 L268.6 1133 L268.88 1133.96 L269.24 1134.95 L269.67 1135.97 L270.16 1136.99 L270.7 1138 L271.36 1139.03 L272.14 1140.1 L272.94 1141.14 L273.66 1142.13 L274.2 1143 L274.54 1143.71 L274.75 1144.3 L274.86 1144.82 L274.87 1145.37 L274.8 1146 L274.6 1146.8 L274.24 1147.72 L273.83 1148.64 L273.45 1149.44 L273.2 1150 L259.2 1150 L258.95 1149.44 L258.57 1148.64 L258.16 1147.72 L257.8 1146.8 L257.6 1146 L257.53 1145.37 L257.54 1144.82 L257.65 1144.3 L257.86 1143.71 L258.2 1143 L258.74 1142.13 L259.46 1141.14 L260.26 1140.1 L261.04 1139.03 L261.7 1138 L262.24 1136.99 L262.73 1135.97 L263.16 1134.95 L263.52 1133.96 L263.8 1133 L263.96 1132.03 L264.03 1131.02 L264.03 1130.08 L264 1129.27 L264 1128.7Z" fill="#0000ff" stroke="#000" stroke-width="1.5" stroke-linejoin="round"/>
<g clip-path="url(#vc0b)">
<line x1="266.2" y1="1128.7" x2="266.2" y2="1150" stroke="#000" stroke-width="1"/>
<line x1="266.2" y1="1140" x2="266.2" y2="1148" stroke="#000" stroke-width="1.8"/>
<ellipse cx="266.2" cy="1144" rx="4.4" ry="3.4" fill="#fff"/>
</g>
<clipPath id="vc0r"><path d="M287.25 1120.2 L287.22 1121.59 L287.2 1123.6 L287.2 1125.88 L287.2 1128.13 L287.25 1130 L287.47 1131.46 L287.78 1132.72 L288.15 1133.85 L288.52 1134.92 L288.85 1136 L289.13 1137.08 L289.4 1138.12 L289.66 1139.12 L289.93 1140.08 L290.25 1141 L290.61 1141.88 L290.99 1142.72 L291.39 1143.52 L291.81 1144.28 L292.25 1145 L292.73 1145.68 L293.25 1146.32 L293.77 1146.92 L294.25 1147.48 L294.65 1148 L294.96 1148.5 L295.2 1148.97 L295.39 1149.39 L295.54 1149.74 L295.65 1150 L278.45 1150 L278.56 1149.74 L278.71 1149.39 L278.9 1148.97 L279.14 1148.5 L279.45 1148 L279.85 1147.48 L280.33 1146.92 L280.85 1146.32 L281.37 1145.68 L281.85 1145 L282.29 1144.28 L282.71 1143.52 L283.11 1142.72 L283.49 1141.88 L283.85 1141 L284.17 1140.08 L284.44 1139.12 L284.7 1138.12 L284.97 1137.08 L285.25 1136 L285.58 1134.92 L285.95 1133.85 L286.32 1132.72 L286.63 1131.46 L286.85 1130 L286.9 1128.13 L286.9 1125.88 L286.9 1123.6 L286.88 1121.59 L286.85 1120.2Z"/></clipPath>
<path d="M287.25 1120.2 L287.22 1121.59 L287.2 1123.6 L287.2 1125.88 L287.2 1128.13 L287.25 1130 L287.47 1131.46 L287.78 1132.72 L288.15 1133.85 L288.52 1134.92 L288.85 1136 L289.13 1137.08 L289.4 1138.12 L289.66 1139.12 L289.93 1140.08 L290.25 1141 L290.61 1141.88 L290.99 1142.72 L291.39 1143.52 L291.81 1144.28 L292.25 1145 L292.73 1145.68 L293.25 1146.32 L293.77 1146.92 L294.25 1147.48 L294.65 1148 L294.96 1148.5 L295.2 1148.97 L295.39 1149.39 L295.54 1149.74 L295.65 1150 L278.45 1150 L278.56 1149.74 L278.71 1149.39 L278.9 1148.97 L279.14 1148.5 L279.45 1148 L279.85 1147.48 L280.33 1146.92 L280.85 1146.32 L281.37 1145.68 L281.85 1145 L282.29 1144.28 L282.71 1143.52 L283.11 1142.72 L283.49 1141.88 L283.85 1141 L284.17 1140.08 L284.44 1139.12 L284.7 1138.12 L284.97 1137.08 L285.25 1136 L285.58 1134.92 L285.95 1133.85 L286.32 1132.72 L286.63 1131.46 L286.85 1130 L286.9 1128.13 L286.9 1125.88 L286.9 1123.6 L286.88 1121.59 L286.85 1120.2Z" fill="#ff0000" stroke="#000" stroke-width="1.5" stroke-linejoin="round"/>
<g clip-path="url(#vc0r)">
<line x1="287.05" y1="1120.2" x2="287.05" y2="1150" stroke="#000" stroke-width="1"/>
<line x1="287.05" y1="1143" x2="287.05" y2="1150" stroke="#000" stroke-width="1.8"/>
<ellipse cx="287.05" cy="1149.5" rx="4.3" ry="3.7" fill="#fff"/>
</g>
<clipPath id="vc1b"><path d="M328.95 1124.5 L328.9 1125.88 L328.9 1127.88 L328.9 1130.14 L328.9 1132.3 L328.95 1134 L329.4 1135.15 L330.05 1136 L330.79 1136.66 L331.56 1137.29 L332.25 1138 L332.88 1138.8 L333.51 1139.6 L334.13 1140.4 L334.71 1141.2 L335.25 1142 L335.78 1142.8 L336.31 1143.6 L336.78 1144.4 L337.15 1145.2 L337.35 1146 L337.32 1146.86 L337.09 1147.79 L336.76 1148.69 L336.45 1149.46 L336.25 1150 L321.25 1150 L321.05 1149.46 L320.74 1148.69 L320.41 1147.79 L320.18 1146.86 L320.15 1146 L320.35 1145.2 L320.72 1144.4 L321.19 1143.6 L321.72 1142.8 L322.25 1142 L322.79 1141.2 L323.37 1140.4 L323.99 1139.6 L324.62 1138.8 L325.25 1138 L325.94 1137.29 L326.71 1136.66 L327.45 1136 L328.1 1135.15 L328.55 1134 L328.6 1132.3 L328.6 1130.14 L328.6 1127.88 L328.6 1125.88 L328.55 1124.5Z"/></clipPath>
<path d="M328.95 1124.5 L328.9 1125.88 L328.9 1127.88 L328.9 1130.14 L328.9 1132.3 L328.95 1134 L329.4 1135.15 L330.05 1136 L330.79 1136.66 L331.56 1137.29 L332.25 1138 L332.88 1138.8 L333.51 1139.6 L334.13 1140.4 L334.71 1141.2 L335.25 1142 L335.78 1142.8 L336.31 1143.6 L336.78 1144.4 L337.15 1145.2 L337.35 1146 L337.32 1146.86 L337.09 1147.79 L336.76 1148.69 L336.45 1149.46 L336.25 1150 L321.25 1150 L321.05 1149.46 L320.74 1148.69 L320.41 1147.79 L320.18 1146.86 L320.15 1146 L320.35 1145.2 L320.72 1144.4 L321.19 1143.6 L321.72 1142.8 L322.25 1142 L322.79 1141.2 L323.37 1140.4 L323.99 1139.6 L324.62 1138.8 L325.25 1138 L325.94 1137.29 L326.71 1136.66 L327.45 1136 L328.1 1135.15 L328.55 1134 L328.6 1132.3 L328.6 1130.14 L328.6 1127.88 L328.6 1125.88 L328.55 1124.5Z" fill="#0000ff" stroke="#000" stroke-width="1.5" stroke-linejoin="round"/>
<g clip-path="url(#vc1b)">
<line x1="328.75" y1="1124.5" x2="328.75" y2="1150" stroke="#000" stroke-width="1"/>
<line x1="328.75" y1="1141" x2="328.75" y2="1149" stroke="#000" stroke-width="1.8"/>
<ellipse cx="328.75" cy="1145.6" rx="4.4" ry="3.4" fill="#fff"/>
</g>
<clipPath id="vc1r"><path d="M352.6 1139.3 L353.02 1139.51 L353.63 1139.8 L354.33 1140.14 L355.02 1140.55 L355.6 1141 L356.09 1141.52 L356.54 1142.11 L356.95 1142.74 L357.31 1143.38 L357.6 1144 L357.83 1144.6 L358 1145.2 L358.11 1145.8 L358.18 1146.4 L358.2 1147 L358.15 1147.65 L358.02 1148.34 L357.85 1149.02 L357.7 1149.59 L357.6 1150 L341.6 1150 L341.5 1149.59 L341.35 1149.02 L341.18 1148.34 L341.05 1147.65 L341 1147 L341.02 1146.4 L341.09 1145.8 L341.2 1145.2 L341.37 1144.6 L341.6 1144 L341.89 1143.38 L342.25 1142.74 L342.66 1142.11 L343.11 1141.52 L343.6 1141 L344.18 1140.55 L344.87 1140.14 L345.57 1139.8 L346.18 1139.51 L346.6 1139.3Z"/></clipPath>
<path d="M352.6 1139.3 L353.02 1139.51 L353.63 1139.8 L354.33 1140.14 L355.02 1140.55 L355.6 1141 L356.09 1141.52 L356.54 1142.11 L356.95 1142.74 L357.31 1143.38 L357.6 1144 L357.83 1144.6 L358 1145.2 L358.11 1145.8 L358.18 1146.4 L358.2 1147 L358.15 1147.65 L358.02 1148.34 L357.85 1149.02 L357.7 1149.59 L357.6 1150 L341.6 1150 L341.5 1149.59 L341.35 1149.02 L341.18 1148.34 L341.05 1147.65 L341 1147 L341.02 1146.4 L341.09 1145.8 L341.2 1145.2 L341.37 1144.6 L341.6 1144 L341.89 1143.38 L342.25 1142.74 L342.66 1142.11 L343.11 1141.52 L343.6 1141 L344.18 1140.55 L344.87 1140.14 L345.57 1139.8 L346.18 1139.51 L346.6 1139.3Z" fill="#ff0000" stroke="#000" stroke-width="1.5" stroke-linejoin="round"/>
<g clip-path="url(#vc1r)">
<line x1="349.6" y1="1139.3" x2="349.6" y2="1150" stroke="#000" stroke-width="1"/>
<line x1="349.6" y1="1144" x2="349.6" y2="1150" stroke="#000" stroke-width="1.8"/>
<ellipse cx="349.6" cy="1149.8" rx="4.3" ry="3.7" fill="#fff"/>
</g>
<clipPath id="vc2b"><path d="M391.5 1136.8 L391.46 1137.78 L391.45 1139.2 L391.45 1140.8 L391.45 1142.32 L391.5 1143.5 L391.81 1144.28 L392.24 1144.83 L392.76 1145.24 L393.29 1145.6 L393.8 1146 L394.27 1146.43 L394.73 1146.84 L395.21 1147.22 L395.73 1147.61 L396.3 1148 L397.01 1148.43 L397.83 1148.9 L398.67 1149.34 L399.39 1149.73 L399.9 1150 L382.7 1150 L383.21 1149.73 L383.93 1149.34 L384.77 1148.9 L385.59 1148.43 L386.3 1148 L386.87 1147.61 L387.39 1147.22 L387.87 1146.84 L388.33 1146.43 L388.8 1146 L389.31 1145.6 L389.84 1145.24 L390.36 1144.83 L390.79 1144.28 L391.1 1143.5 L391.15 1142.32 L391.15 1140.8 L391.15 1139.2 L391.14 1137.78 L391.1 1136.8Z"/></clipPath>
<path d="M391.5 1136.8 L391.46 1137.78 L391.45 1139.2 L391.45 1140.8 L391.45 1142.32 L391.5 1143.5 L391.81 1144.28 L392.24 1144.83 L392.76 1145.24 L393.29 1145.6 L393.8 1146 L394.27 1146.43 L394.73 1146.84 L395.21 1147.22 L395.73 1147.61 L396.3 1148 L397.01 1148.43 L397.83 1148.9 L398.67 1149.34 L399.39 1149.73 L399.9 1150 L382.7 1150 L383.21 1149.73 L383.93 1149.34 L384.77 1148.9 L385.59 1148.43 L386.3 1148 L386.87 1147.61 L387.39 1147.22 L387.87 1146.84 L388.33 1146.43 L388.8 1146 L389.31 1145.6 L389.84 1145.24 L390.36 1144.83 L390.79 1144.28 L391.1 1143.5 L391.15 1142.32 L391.15 1140.8 L391.15 1139.2 L391.14 1137.78 L391.1 1136.8Z" fill="#0000ff" stroke="#000" stroke-width="1.5" stroke-linejoin="round"/>
<g clip-path="url(#vc2b)">
<line x1="391.3" y1="1136.8" x2="391.3" y2="1150" stroke="#000" stroke-width="1"/>
<ellipse cx="391.3" cy="1149.9" rx="4.3" ry="3.7" fill="#fff"/>
</g>
<clipPath id="vc2r"><path d="M412.35 1139.7 L412.31 1140.47 L412.3 1141.6 L412.3 1142.86 L412.3 1144.07 L412.35 1145 L412.72 1145.61 L413.23 1146.04 L413.85 1146.36 L414.5 1146.65 L415.15 1147 L415.83 1147.42 L416.57 1147.85 L417.32 1148.27 L418.03 1148.66 L418.65 1149 L419.19 1149.28 L419.69 1149.52 L420.13 1149.72 L420.49 1149.88 L420.75 1150 L403.55 1150 L403.81 1149.88 L404.17 1149.72 L404.61 1149.52 L405.11 1149.28 L405.65 1149 L406.27 1148.66 L406.98 1148.27 L407.73 1147.85 L408.47 1147.42 L409.15 1147 L409.8 1146.65 L410.45 1146.36 L411.07 1146.04 L411.58 1145.61 L411.95 1145 L412 1144.07 L412 1142.86 L412 1141.6 L411.99 1140.47 L411.95 1139.7Z"/></clipPath>
<path d="M412.35 1139.7 L412.31 1140.47 L412.3 1141.6 L412.3 1142.86 L412.3 1144.07 L412.35 1145 L412.72 1145.61 L413.23 1146.04 L413.85 1146.36 L414.5 1146.65 L415.15 1147 L415.83 1147.42 L416.57 1147.85 L417.32 1148.27 L418.03 1148.66 L418.65 1149 L419.19 1149.28 L419.69 1149.52 L420.13 1149.72 L420.49 1149.88 L420.75 1150 L403.55 1150 L403.81 1149.88 L404.17 1149.72 L404.61 1149.52 L405.11 1149.28 L405.65 1149 L406.27 1148.66 L406.98 1148.27 L407.73 1147.85 L408.47 1147.42 L409.15 1147 L409.8 1146.65 L410.45 1146.36 L411.07 1146.04 L411.58 1145.61 L411.95 1145 L412 1144.07 L412 1142.86 L412 1141.6 L411.99 1140.47 L411.95 1139.7Z" fill="#ffffff" stroke="#000" stroke-width="1.5" stroke-linejoin="round"/>
<g clip-path="url(#vc2r)">
<line x1="412.15" y1="1139.7" x2="412.15" y2="1150" stroke="#000" stroke-width="1"/>
<ellipse cx="412.15" cy="1149.9" rx="4.3" ry="3.7" fill="#fff"/>
</g>
<clipPath id="vc3b"><path d="M454.05 1085.1 L454.01 1089.03 L454 1094.73 L454 1101.17 L454 1107.27 L454.05 1112 L454.44 1115.11 L454.98 1117.31 L455.62 1118.96 L456.26 1120.4 L456.85 1122 L457.37 1123.73 L457.87 1125.34 L458.36 1126.9 L458.85 1128.43 L459.35 1130 L459.88 1131.65 L460.44 1133.34 L460.99 1135.02 L461.47 1136.59 L461.85 1138 L462.11 1139.21 L462.28 1140.26 L462.39 1141.22 L462.44 1142.11 L462.45 1143 L462.42 1143.88 L462.34 1144.72 L462.21 1145.52 L462.05 1146.28 L461.85 1147 L461.58 1147.71 L461.24 1148.42 L460.89 1149.06 L460.57 1149.61 L460.35 1150 L447.35 1150 L447.13 1149.61 L446.81 1149.06 L446.46 1148.42 L446.12 1147.71 L445.85 1147 L445.65 1146.28 L445.49 1145.52 L445.36 1144.72 L445.28 1143.88 L445.25 1143 L445.26 1142.11 L445.31 1141.22 L445.42 1140.26 L445.59 1139.21 L445.85 1138 L446.23 1136.59 L446.71 1135.02 L447.26 1133.34 L447.82 1131.65 L448.35 1130 L448.85 1128.43 L449.34 1126.9 L449.83 1125.34 L450.33 1123.73 L450.85 1122 L451.44 1120.4 L452.08 1118.96 L452.72 1117.31 L453.26 1115.11 L453.65 1112 L453.7 1107.27 L453.7 1101.17 L453.7 1094.73 L453.69 1089.03 L453.65 1085.1Z"/></clipPath>
<path d="M454.05 1085.1 L454.01 1089.03 L454 1094.73 L454 1101.17 L454 1107.27 L454.05 1112 L454.44 1115.11 L454.98 1117.31 L455.62 1118.96 L456.26 1120.4 L456.85 1122 L457.37 1123.73 L457.87 1125.34 L458.36 1126.9 L458.85 1128.43 L459.35 1130 L459.88 1131.65 L460.44 1133.34 L460.99 1135.02 L461.47 1136.59 L461.85 1138 L462.11 1139.21 L462.28 1140.26 L462.39 1141.22 L462.44 1142.11 L462.45 1143 L462.42 1143.88 L462.34 1144.72 L462.21 1145.52 L462.05 1146.28 L461.85 1147 L461.58 1147.71 L461.24 1148.42 L460.89 1149.06 L460.57 1149.61 L460.35 1150 L447.35 1150 L447.13 1149.61 L446.81 1149.06 L446.46 1148.42 L446.12 1147.71 L445.85 1147 L445.65 1146.28 L445.49 1145.52 L445.36 1144.72 L445.28 1143.88 L445.25 1143 L445.26 1142.11 L445.31 1141.22 L445.42 1140.26 L445.59 1139.21 L445.85 1138 L446.23 1136.59 L446.71 1135.02 L447.26 1133.34 L447.82 1131.65 L448.35 1130 L448.85 1128.43 L449.34 1126.9 L449.83 1125.34 L450.33 1123.73 L450.85 1122 L451.44 1120.4 L452.08 1118.96 L452.72 1117.31 L453.26 1115.11 L453.65 1112 L453.7 1107.27 L453.7 1101.17 L453.7 1094.73 L453.69 1089.03 L453.65 1085.1Z" fill="#0000ff" stroke="#000" stroke-width="1.5" stroke-linejoin="round"/>
<g clip-path="url(#vc3b)">
<line x1="453.85" y1="1085.1" x2="453.85" y2="1150" stroke="#000" stroke-width="1"/>
<line x1="453.85" y1="1130" x2="453.85" y2="1147" stroke="#000" stroke-width="1.8"/>
<ellipse cx="453.85" cy="1139.7" rx="4.4" ry="3.4" fill="#fff"/>
</g>
<clipPath id="vc3r"><path d="M476.7 1118.3 L476.74 1118.9 L476.77 1119.73 L476.83 1120.73 L476.96 1121.84 L477.2 1123 L477.57 1124.25 L478.06 1125.63 L478.6 1127.09 L479.17 1128.56 L479.7 1130 L480.22 1131.43 L480.77 1132.9 L481.3 1134.34 L481.79 1135.73 L482.2 1137 L482.53 1138.14 L482.81 1139.19 L483.03 1140.17 L483.19 1141.1 L483.3 1142 L483.35 1142.86 L483.35 1143.67 L483.3 1144.45 L483.18 1145.22 L483 1146 L482.71 1146.86 L482.3 1147.79 L481.86 1148.69 L481.47 1149.46 L481.2 1150 L468.2 1150 L467.93 1149.46 L467.54 1148.69 L467.1 1147.79 L466.69 1146.86 L466.4 1146 L466.22 1145.22 L466.1 1144.45 L466.05 1143.67 L466.05 1142.86 L466.1 1142 L466.21 1141.1 L466.37 1140.17 L466.59 1139.19 L466.87 1138.14 L467.2 1137 L467.61 1135.73 L468.1 1134.34 L468.63 1132.9 L469.18 1131.43 L469.7 1130 L470.23 1128.56 L470.8 1127.09 L471.34 1125.63 L471.83 1124.25 L472.2 1123 L472.44 1121.84 L472.57 1120.73 L472.63 1119.73 L472.66 1118.9 L472.7 1118.3Z"/></clipPath>
<path d="M476.7 1118.3 L476.74 1118.9 L476.77 1119.73 L476.83 1120.73 L476.96 1121.84 L477.2 1123 L477.57 1124.25 L478.06 1125.63 L478.6 1127.09 L479.17 1128.56 L479.7 1130 L480.22 1131.43 L480.77 1132.9 L481.3 1134.34 L481.79 1135.73 L482.2 1137 L482.53 1138.14 L482.81 1139.19 L483.03 1140.17 L483.19 1141.1 L483.3 1142 L483.35 1142.86 L483.35 1143.67 L483.3 1144.45 L483.18 1145.22 L483 1146 L482.71 1146.86 L482.3 1147.79 L481.86 1148.69 L481.47 1149.46 L481.2 1150 L468.2 1150 L467.93 1149.46 L467.54 1148.69 L467.1 1147.79 L466.69 1146.86 L466.4 1146 L466.22 1145.22 L466.1 1144.45 L466.05 1143.67 L466.05 1142.86 L466.1 1142 L466.21 1141.1 L466.37 1140.17 L466.59 1139.19 L466.87 1138.14 L467.2 1137 L467.61 1135.73 L468.1 1134.34 L468.63 1132.9 L469.18 1131.43 L469.7 1130 L470.23 1128.56 L470.8 1127.09 L471.34 1125.63 L471.83 1124.25 L472.2 1123 L472.44 1121.84 L472.57 1120.73 L472.63 1119.73 L472.66 1118.9 L472.7 1118.3Z" fill="#ff0000" stroke="#000" stroke-width="1.5" stroke-linejoin="round"/>
<g clip-path="url(#vc3r)">
<line x1="474.7" y1="1118.3" x2="474.7" y2="1150" stroke="#000" stroke-width="1"/>
<line x1="474.7" y1="1132" x2="474.7" y2="1148" stroke="#000" stroke-width="1.8"/>
<ellipse cx="474.7" cy="1141.6" rx="4.4" ry="3.4" fill="#fff"/>
</g>
<clipPath id="vc5b"><path d="M580.55 1095.4 L580.53 1097.43 L580.5 1100.31 L580.47 1103.65 L580.45 1107.01 L580.45 1110 L580.45 1112.63 L580.45 1115.18 L580.46 1117.61 L580.52 1119.9 L580.65 1122 L580.85 1123.86 L581.11 1125.49 L581.42 1126.99 L581.77 1128.46 L582.15 1130 L582.57 1131.62 L583.05 1133.25 L583.55 1134.87 L584.06 1136.46 L584.55 1138 L585.06 1139.53 L585.6 1141.06 L586.12 1142.54 L586.59 1143.87 L586.95 1145 L587.2 1145.87 L587.36 1146.54 L587.46 1147.06 L587.52 1147.53 L587.55 1148 L587.54 1148.5 L587.48 1148.97 L587.39 1149.39 L587.31 1149.74 L587.25 1150 L570.65 1150 L570.59 1149.74 L570.51 1149.39 L570.42 1148.97 L570.36 1148.5 L570.35 1148 L570.38 1147.53 L570.44 1147.06 L570.54 1146.54 L570.7 1145.87 L570.95 1145 L571.31 1143.87 L571.78 1142.54 L572.3 1141.06 L572.84 1139.53 L573.35 1138 L573.84 1136.46 L574.35 1134.87 L574.85 1133.25 L575.33 1131.62 L575.75 1130 L576.13 1128.46 L576.48 1126.99 L576.79 1125.49 L577.05 1123.86 L577.25 1122 L577.38 1119.9 L577.44 1117.61 L577.45 1115.18 L577.45 1112.63 L577.45 1110 L577.45 1107.01 L577.43 1103.65 L577.4 1100.31 L577.37 1097.43 L577.35 1095.4Z"/></clipPath>
<path d="M580.55 1095.4 L580.53 1097.43 L580.5 1100.31 L580.47 1103.65 L580.45 1107.01 L580.45 1110 L580.45 1112.63 L580.45 1115.18 L580.46 1117.61 L580.52 1119.9 L580.65 1122 L580.85 1123.86 L581.11 1125.49 L581.42 1126.99 L581.77 1128.46 L582.15 1130 L582.57 1131.62 L583.05 1133.25 L583.55 1134.87 L584.06 1136.46 L584.55 1138 L585.06 1139.53 L585.6 1141.06 L586.12 1142.54 L586.59 1143.87 L586.95 1145 L587.2 1145.87 L587.36 1146.54 L587.46 1147.06 L587.52 1147.53 L587.55 1148 L587.54 1148.5 L587.48 1148.97 L587.39 1149.39 L587.31 1149.74 L587.25 1150 L570.65 1150 L570.59 1149.74 L570.51 1149.39 L570.42 1148.97 L570.36 1148.5 L570.35 1148 L570.38 1147.53 L570.44 1147.06 L570.54 1146.54 L570.7 1145.87 L570.95 1145 L571.31 1143.87 L571.78 1142.54 L572.3 1141.06 L572.84 1139.53 L573.35 1138 L573.84 1136.46 L574.35 1134.87 L574.85 1133.25 L575.33 1131.62 L575.75 1130 L576.13 1128.46 L576.48 1126.99 L576.79 1125.49 L577.05 1123.86 L577.25 1122 L577.38 1119.9 L577.44 1117.61 L577.45 1115.18 L577.45 1112.63 L577.45 1110 L577.45 1107.01 L577.43 1103.65 L577.4 1100.31 L577.37 1097.43 L577.35 1095.4Z" fill="#0000ff" stroke="#000" stroke-width="1.5" stroke-linejoin="round"/>
<g clip-path="url(#vc5b)">
<line x1="578.95" y1="1095.4" x2="578.95" y2="1150" stroke="#000" stroke-width="1"/>
<line x1="578.95" y1="1128" x2="578.95" y2="1150" stroke="#000" stroke-width="1.8"/>
<ellipse cx="578.95" cy="1149.9" rx="4.3" ry="3.7" fill="#fff"/>
</g>
<clipPath id="vc6b"><path d="M643 1133.8 L643 1134.37 L642.99 1135.19 L643 1136.13 L643.05 1137.11 L643.2 1138 L643.44 1138.81 L643.75 1139.61 L644.12 1140.41 L644.54 1141.2 L645 1142 L645.54 1142.82 L646.16 1143.65 L646.81 1144.47 L647.44 1145.26 L648 1146 L648.51 1146.7 L649.01 1147.37 L649.45 1147.99 L649.83 1148.54 L650.1 1149 L650.23 1149.34 L650.25 1149.59 L650.2 1149.77 L650.13 1149.9 L650.1 1150 L632.9 1150 L632.87 1149.9 L632.8 1149.77 L632.75 1149.59 L632.77 1149.34 L632.9 1149 L633.17 1148.54 L633.55 1147.99 L633.99 1147.37 L634.49 1146.7 L635 1146 L635.56 1145.26 L636.19 1144.47 L636.84 1143.65 L637.46 1142.82 L638 1142 L638.46 1141.2 L638.88 1140.41 L639.25 1139.61 L639.56 1138.81 L639.8 1138 L639.95 1137.11 L640 1136.13 L640.01 1135.19 L640 1134.37 L640 1133.8Z"/></clipPath>
<path d="M643 1133.8 L643 1134.37 L642.99 1135.19 L643 1136.13 L643.05 1137.11 L643.2 1138 L643.44 1138.81 L643.75 1139.61 L644.12 1140.41 L644.54 1141.2 L645 1142 L645.54 1142.82 L646.16 1143.65 L646.81 1144.47 L647.44 1145.26 L648 1146 L648.51 1146.7 L649.01 1147.37 L649.45 1147.99 L649.83 1148.54 L650.1 1149 L650.23 1149.34 L650.25 1149.59 L650.2 1149.77 L650.13 1149.9 L650.1 1150 L632.9 1150 L632.87 1149.9 L632.8 1149.77 L632.75 1149.59 L632.77 1149.34 L632.9 1149 L633.17 1148.54 L633.55 1147.99 L633.99 1147.37 L634.49 1146.7 L635 1146 L635.56 1145.26 L636.19 1144.47 L636.84 1143.65 L637.46 1142.82 L638 1142 L638.46 1141.2 L638.88 1140.41 L639.25 1139.61 L639.56 1138.81 L639.8 1138 L639.95 1137.11 L640 1136.13 L640.01 1135.19 L640 1134.37 L640 1133.8Z" fill="#0000ff" stroke="#000" stroke-width="1.5" stroke-linejoin="round"/>
<g clip-path="url(#vc6b)">
<line x1="641.5" y1="1133.8" x2="641.5" y2="1150" stroke="#000" stroke-width="1"/>
<line x1="641.5" y1="1140" x2="641.5" y2="1150" stroke="#000" stroke-width="1.8"/>
<ellipse cx="641.5" cy="1149.9" rx="4.3" ry="3.7" fill="#fff"/>
</g>
<clipPath id="vc6r"><path d="M662.55 1125.3 L662.51 1126.69 L662.5 1128.71 L662.5 1130.99 L662.5 1133.21 L662.55 1135 L662.93 1136.3 L663.46 1137.34 L664.08 1138.23 L664.73 1139.08 L665.35 1140 L665.94 1141.02 L666.55 1142.05 L667.17 1143.07 L667.77 1144.06 L668.35 1145 L668.94 1145.91 L669.54 1146.82 L670.12 1147.66 L670.6 1148.41 L670.95 1149 L671.12 1149.41 L671.14 1149.66 L671.07 1149.82 L670.99 1149.91 L670.95 1150 L653.75 1150 L653.71 1149.91 L653.63 1149.82 L653.56 1149.66 L653.58 1149.41 L653.75 1149 L654.1 1148.41 L654.58 1147.66 L655.16 1146.82 L655.76 1145.91 L656.35 1145 L656.93 1144.06 L657.53 1143.07 L658.15 1142.05 L658.76 1141.02 L659.35 1140 L659.97 1139.08 L660.62 1138.23 L661.24 1137.34 L661.77 1136.3 L662.15 1135 L662.2 1133.21 L662.2 1130.99 L662.2 1128.71 L662.19 1126.69 L662.15 1125.3Z"/></clipPath>
<path d="M662.55 1125.3 L662.51 1126.69 L662.5 1128.71 L662.5 1130.99 L662.5 1133.21 L662.55 1135 L662.93 1136.3 L663.46 1137.34 L664.08 1138.23 L664.73 1139.08 L665.35 1140 L665.94 1141.02 L666.55 1142.05 L667.17 1143.07 L667.77 1144.06 L668.35 1145 L668.94 1145.91 L669.54 1146.82 L670.12 1147.66 L670.6 1148.41 L670.95 1149 L671.12 1149.41 L671.14 1149.66 L671.07 1149.82 L670.99 1149.91 L670.95 1150 L653.75 1150 L653.71 1149.91 L653.63 1149.82 L653.56 1149.66 L653.58 1149.41 L653.75 1149 L654.1 1148.41 L654.58 1147.66 L655.16 1146.82 L655.76 1145.91 L656.35 1145 L656.93 1144.06 L657.53 1143.07 L658.15 1142.05 L658.76 1141.02 L659.35 1140 L659.97 1139.08 L660.62 1138.23 L661.24 1137.34 L661.77 1136.3 L662.15 1135 L662.2 1133.21 L662.2 1130.99 L662.2 1128.71 L662.19 1126.69 L662.15 1125.3Z" fill="#ff0000" stroke="#000" stroke-width="1.5" stroke-linejoin="round"/>
<g clip-path="url(#vc6r)">
<line x1="662.35" y1="1125.3" x2="662.35" y2="1150" stroke="#000" stroke-width="1"/>
<line x1="662.35" y1="1138" x2="662.35" y2="1150" stroke="#000" stroke-width="1.8"/>
<ellipse cx="662.35" cy="1149.9" rx="4.3" ry="3.7" fill="#fff"/>
</g>
<clipPath id="vc7b"><path d="M705.55 1135 L705.57 1135.54 L705.58 1136.31 L705.61 1137.21 L705.7 1138.14 L705.85 1139 L706.08 1139.8 L706.37 1140.6 L706.71 1141.4 L707.1 1142.2 L707.55 1143 L708.08 1143.82 L708.7 1144.67 L709.35 1145.51 L709.99 1146.3 L710.55 1147 L711.06 1147.63 L711.56 1148.2 L712 1148.72 L712.38 1149.15 L712.65 1149.5 L712.78 1149.74 L712.8 1149.87 L712.75 1149.93 L712.68 1149.96 L712.65 1150 L695.45 1150 L695.42 1149.96 L695.35 1149.93 L695.3 1149.87 L695.32 1149.74 L695.45 1149.5 L695.72 1149.15 L696.1 1148.72 L696.54 1148.2 L697.04 1147.63 L697.55 1147 L698.11 1146.3 L698.75 1145.51 L699.4 1144.67 L700.02 1143.82 L700.55 1143 L701 1142.2 L701.39 1141.4 L701.73 1140.6 L702.02 1139.8 L702.25 1139 L702.4 1138.14 L702.49 1137.21 L702.52 1136.31 L702.53 1135.54 L702.55 1135Z"/></clipPath>
<path d="M705.55 1135 L705.57 1135.54 L705.58 1136.31 L705.61 1137.21 L705.7 1138.14 L705.85 1139 L706.08 1139.8 L706.37 1140.6 L706.71 1141.4 L707.1 1142.2 L707.55 1143 L708.08 1143.82 L708.7 1144.67 L709.35 1145.51 L709.99 1146.3 L710.55 1147 L711.06 1147.63 L711.56 1148.2 L712 1148.72 L712.38 1149.15 L712.65 1149.5 L712.78 1149.74 L712.8 1149.87 L712.75 1149.93 L712.68 1149.96 L712.65 1150 L695.45 1150 L695.42 1149.96 L695.35 1149.93 L695.3 1149.87 L695.32 1149.74 L695.45 1149.5 L695.72 1149.15 L696.1 1148.72 L696.54 1148.2 L697.04 1147.63 L697.55 1147 L698.11 1146.3 L698.75 1145.51 L699.4 1144.67 L700.02 1143.82 L700.55 1143 L701 1142.2 L701.39 1141.4 L701.73 1140.6 L702.02 1139.8 L702.25 1139 L702.4 1138.14 L702.49 1137.21 L702.52 1136.31 L702.53 1135.54 L702.55 1135Z" fill="#0000ff" stroke="#000" stroke-width="1.5" stroke-linejoin="round"/>
<g clip-path="url(#vc7b)">
<line x1="704.05" y1="1135" x2="704.05" y2="1150" stroke="#000" stroke-width="1"/>
<line x1="704.05" y1="1141" x2="704.05" y2="1150" stroke="#000" stroke-width="1.8"/>
<ellipse cx="704.05" cy="1149.9" rx="4.3" ry="3.7" fill="#fff"/>
</g>
<clipPath id="vc7r"><path d="M727.1 1137.2 L727.17 1137.73 L727.27 1138.48 L727.39 1139.36 L727.53 1140.23 L727.7 1141 L727.88 1141.65 L728.07 1142.26 L728.3 1142.84 L728.57 1143.41 L728.9 1144 L729.32 1144.61 L729.83 1145.22 L730.37 1145.84 L730.9 1146.43 L731.4 1147 L731.88 1147.56 L732.37 1148.13 L732.83 1148.67 L733.22 1149.14 L733.5 1149.5 L733.63 1149.74 L733.65 1149.87 L733.6 1149.93 L733.53 1149.96 L733.5 1150 L716.3 1150 L716.27 1149.96 L716.2 1149.93 L716.15 1149.87 L716.17 1149.74 L716.3 1149.5 L716.58 1149.14 L716.97 1148.67 L717.43 1148.13 L717.92 1147.56 L718.4 1147 L718.9 1146.43 L719.43 1145.84 L719.97 1145.22 L720.48 1144.61 L720.9 1144 L721.23 1143.41 L721.5 1142.84 L721.73 1142.26 L721.92 1141.65 L722.1 1141 L722.27 1140.23 L722.41 1139.36 L722.53 1138.48 L722.63 1137.73 L722.7 1137.2Z"/></clipPath>
<path d="M727.1 1137.2 L727.17 1137.73 L727.27 1138.48 L727.39 1139.36 L727.53 1140.23 L727.7 1141 L727.88 1141.65 L728.07 1142.26 L728.3 1142.84 L728.57 1143.41 L728.9 1144 L729.32 1144.61 L729.83 1145.22 L730.37 1145.84 L730.9 1146.43 L731.4 1147 L731.88 1147.56 L732.37 1148.13 L732.83 1148.67 L733.22 1149.14 L733.5 1149.5 L733.63 1149.74 L733.65 1149.87 L733.6 1149.93 L733.53 1149.96 L733.5 1150 L716.3 1150 L716.27 1149.96 L716.2 1149.93 L716.15 1149.87 L716.17 1149.74 L716.3 1149.5 L716.58 1149.14 L716.97 1148.67 L717.43 1148.13 L717.92 1147.56 L718.4 1147 L718.9 1146.43 L719.43 1145.84 L719.97 1145.22 L720.48 1144.61 L720.9 1144 L721.23 1143.41 L721.5 1142.84 L721.73 1142.26 L721.92 1141.65 L722.1 1141 L722.27 1140.23 L722.41 1139.36 L722.53 1138.48 L722.63 1137.73 L722.7 1137.2Z" fill="#ff0000" stroke="#000" stroke-width="1.5" stroke-linejoin="round"/>
<g clip-path="url(#vc7r)">
<line x1="724.9" y1="1137.2" x2="724.9" y2="1150" stroke="#000" stroke-width="1"/>
<line x1="724.9" y1="1142" x2="724.9" y2="1150" stroke="#000" stroke-width="1.8"/>
<ellipse cx="724.9" cy="1149.9" rx="4.3" ry="3.7" fill="#fff"/>
</g>
<clipPath id="vc8b"><path d="M770.1 1106.1 L770.28 1106.58 L770.53 1107.23 L770.83 1108.03 L771.19 1108.96 L771.6 1110 L772.11 1111.22 L772.72 1112.62 L773.36 1114.12 L773.95 1115.61 L774.4 1117 L774.72 1118.25 L774.96 1119.42 L775.11 1120.58 L775.19 1121.75 L775.2 1123 L775.12 1124.32 L774.94 1125.68 L774.7 1127.08 L774.41 1128.52 L774.1 1130 L773.75 1131.55 L773.34 1133.18 L772.91 1134.82 L772.48 1136.45 L772.1 1138 L771.76 1139.5 L771.44 1140.97 L771.14 1142.39 L770.86 1143.74 L770.6 1145 L770.35 1146.21 L770.12 1147.38 L769.9 1148.46 L769.73 1149.35 L769.6 1150 L763.6 1150 L763.47 1149.35 L763.3 1148.46 L763.08 1147.38 L762.85 1146.21 L762.6 1145 L762.34 1143.74 L762.06 1142.39 L761.76 1140.97 L761.44 1139.5 L761.1 1138 L760.72 1136.45 L760.29 1134.82 L759.86 1133.18 L759.45 1131.55 L759.1 1130 L758.79 1128.52 L758.5 1127.08 L758.26 1125.68 L758.08 1124.32 L758 1123 L758.01 1121.75 L758.09 1120.58 L758.24 1119.42 L758.48 1118.25 L758.8 1117 L759.25 1115.61 L759.84 1114.12 L760.48 1112.62 L761.09 1111.22 L761.6 1110 L762.01 1108.96 L762.37 1108.03 L762.67 1107.23 L762.92 1106.58 L763.1 1106.1Z"/></clipPath>
<path d="M770.1 1106.1 L770.28 1106.58 L770.53 1107.23 L770.83 1108.03 L771.19 1108.96 L771.6 1110 L772.11 1111.22 L772.72 1112.62 L773.36 1114.12 L773.95 1115.61 L774.4 1117 L774.72 1118.25 L774.96 1119.42 L775.11 1120.58 L775.19 1121.75 L775.2 1123 L775.12 1124.32 L774.94 1125.68 L774.7 1127.08 L774.41 1128.52 L774.1 1130 L773.75 1131.55 L773.34 1133.18 L772.91 1134.82 L772.48 1136.45 L772.1 1138 L771.76 1139.5 L771.44 1140.97 L771.14 1142.39 L770.86 1143.74 L770.6 1145 L770.35 1146.21 L770.12 1147.38 L769.9 1148.46 L769.73 1149.35 L769.6 1150 L763.6 1150 L763.47 1149.35 L763.3 1148.46 L763.08 1147.38 L762.85 1146.21 L762.6 1145 L762.34 1143.74 L762.06 1142.39 L761.76 1140.97 L761.44 1139.5 L761.1 1138 L760.72 1136.45 L760.29 1134.82 L759.86 1133.18 L759.45 1131.55 L759.1 1130 L758.79 1128.52 L758.5 1127.08 L758.26 1125.68 L758.08 1124.32 L758 1123 L758.01 1121.75 L758.09 1120.58 L758.24 1119.42 L758.48 1118.25 L758.8 1117 L759.25 1115.61 L759.84 1114.12 L760.48 1112.62 L761.09 1111.22 L761.6 1110 L762.01 1108.96 L762.37 1108.03 L762.67 1107.23 L762.92 1106.58 L763.1 1106.1Z" fill="#0000ff" stroke="#000" stroke-width="1.5" stroke-linejoin="round"/>
<g clip-path="url(#vc8b)">
<line x1="766.6" y1="1106.1" x2="766.6" y2="1150" stroke="#000" stroke-width="1"/>
<line x1="766.6" y1="1115" x2="766.6" y2="1135" stroke="#000" stroke-width="1.8"/>
<ellipse cx="766.6" cy="1125.3" rx="4.4" ry="3.4" fill="#fff"/>
</g>
<clipPath id="vc8r"><path d="M789.25 1098.4 L789.28 1099.72 L789.31 1101.58 L789.37 1103.74 L789.47 1105.96 L789.65 1108 L789.9 1109.85 L790.21 1111.69 L790.58 1113.5 L790.99 1115.27 L791.45 1117 L792 1118.7 L792.63 1120.37 L793.29 1121.99 L793.92 1123.54 L794.45 1125 L794.9 1126.33 L795.32 1127.54 L795.67 1128.7 L795.93 1129.83 L796.05 1131 L796.03 1132.2 L795.87 1133.4 L795.62 1134.6 L795.3 1135.8 L794.95 1137 L794.53 1138.21 L794.03 1139.42 L793.48 1140.63 L792.94 1141.83 L792.45 1143 L791.99 1144.24 L791.52 1145.54 L791.08 1146.78 L790.71 1147.84 L790.45 1148.6 L784.45 1148.6 L784.19 1147.84 L783.82 1146.78 L783.38 1145.54 L782.91 1144.24 L782.45 1143 L781.96 1141.83 L781.42 1140.63 L780.87 1139.42 L780.37 1138.21 L779.95 1137 L779.6 1135.8 L779.28 1134.6 L779.03 1133.4 L778.87 1132.2 L778.85 1131 L778.97 1129.83 L779.23 1128.7 L779.58 1127.54 L780 1126.33 L780.45 1125 L780.98 1123.54 L781.61 1121.99 L782.27 1120.37 L782.9 1118.7 L783.45 1117 L783.91 1115.27 L784.32 1113.5 L784.69 1111.69 L785 1109.85 L785.25 1108 L785.43 1105.96 L785.53 1103.74 L785.59 1101.58 L785.62 1099.72 L785.65 1098.4Z"/></clipPath>
<path d="M789.25 1098.4 L789.28 1099.72 L789.31 1101.58 L789.37 1103.74 L789.47 1105.96 L789.65 1108 L789.9 1109.85 L790.21 1111.69 L790.58 1113.5 L790.99 1115.27 L791.45 1117 L792 1118.7 L792.63 1120.37 L793.29 1121.99 L793.92 1123.54 L794.45 1125 L794.9 1126.33 L795.32 1127.54 L795.67 1128.7 L795.93 1129.83 L796.05 1131 L796.03 1132.2 L795.87 1133.4 L795.62 1134.6 L795.3 1135.8 L794.95 1137 L794.53 1138.21 L794.03 1139.42 L793.48 1140.63 L792.94 1141.83 L792.45 1143 L791.99 1144.24 L791.52 1145.54 L791.08 1146.78 L790.71 1147.84 L790.45 1148.6 L784.45 1148.6 L784.19 1147.84 L783.82 1146.78 L783.38 1145.54 L782.91 1144.24 L782.45 1143 L781.96 1141.83 L781.42 1140.63 L780.87 1139.42 L780.37 1138.21 L779.95 1137 L779.6 1135.8 L779.28 1134.6 L779.03 1133.4 L778.87 1132.2 L778.85 1131 L778.97 1129.83 L779.23 1128.7 L779.58 1127.54 L780 1126.33 L780.45 1125 L780.98 1123.54 L781.61 1121.99 L782.27 1120.37 L782.9 1118.7 L783.45 1117 L783.91 1115.27 L784.32 1113.5 L784.69 1111.69 L785 1109.85 L785.25 1108 L785.43 1105.96 L785.53 1103.74 L785.59 1101.58 L785.62 1099.72 L785.65 1098.4Z" fill="#ff0000" stroke="#000" stroke-width="1.5" stroke-linejoin="round"/>
<g clip-path="url(#vc8r)">
<line x1="787.45" y1="1098.4" x2="787.45" y2="1148.6" stroke="#000" stroke-width="1"/>
<line x1="787.45" y1="1120" x2="787.45" y2="1138" stroke="#000" stroke-width="1.8"/>
<ellipse cx="787.45" cy="1130.9" rx="4.4" ry="3.4" fill="#fff"/>
</g>
<clipPath id="vc9b"><path d="M832.15 1071.9 L832.19 1073.7 L832.24 1076.25 L832.32 1079.21 L832.45 1082.24 L832.65 1085 L832.95 1087.49 L833.33 1089.93 L833.76 1092.32 L834.21 1094.68 L834.65 1097 L835.11 1099.31 L835.62 1101.62 L836.12 1103.86 L836.58 1106.01 L836.95 1108 L837.23 1109.78 L837.45 1111.37 L837.6 1112.87 L837.7 1114.38 L837.75 1116 L837.74 1117.72 L837.68 1119.48 L837.56 1121.28 L837.38 1123.12 L837.15 1125 L836.84 1126.97 L836.44 1129.02 L836 1131.1 L835.56 1133.11 L835.15 1135 L834.76 1136.77 L834.36 1138.46 L833.98 1140.07 L833.64 1141.59 L833.35 1143 L833.13 1144.36 L832.96 1145.68 L832.83 1146.88 L832.73 1147.88 L832.65 1148.6 L825.65 1148.6 L825.57 1147.88 L825.47 1146.88 L825.34 1145.68 L825.17 1144.36 L824.95 1143 L824.66 1141.59 L824.32 1140.07 L823.94 1138.46 L823.54 1136.77 L823.15 1135 L822.74 1133.11 L822.3 1131.1 L821.86 1129.02 L821.46 1126.97 L821.15 1125 L820.92 1123.12 L820.74 1121.28 L820.62 1119.48 L820.56 1117.72 L820.55 1116 L820.6 1114.38 L820.7 1112.87 L820.85 1111.37 L821.07 1109.78 L821.35 1108 L821.72 1106.01 L822.18 1103.86 L822.68 1101.62 L823.19 1099.31 L823.65 1097 L824.09 1094.68 L824.54 1092.32 L824.97 1089.93 L825.35 1087.49 L825.65 1085 L825.85 1082.24 L825.98 1079.21 L826.06 1076.25 L826.11 1073.7 L826.15 1071.9Z"/></clipPath>
<path d="M832.15 1071.9 L832.19 1073.7 L832.24 1076.25 L832.32 1079.21 L832.45 1082.24 L832.65 1085 L832.95 1087.49 L833.33 1089.93 L833.76 1092.32 L834.21 1094.68 L834.65 1097 L835.11 1099.31 L835.62 1101.62 L836.12 1103.86 L836.58 1106.01 L836.95 1108 L837.23 1109.78 L837.45 1111.37 L837.6 1112.87 L837.7 1114.38 L837.75 1116 L837.74 1117.72 L837.68 1119.48 L837.56 1121.28 L837.38 1123.12 L837.15 1125 L836.84 1126.97 L836.44 1129.02 L836 1131.1 L835.56 1133.11 L835.15 1135 L834.76 1136.77 L834.36 1138.46 L833.98 1140.07 L833.64 1141.59 L833.35 1143 L833.13 1144.36 L832.96 1145.68 L832.83 1146.88 L832.73 1147.88 L832.65 1148.6 L825.65 1148.6 L825.57 1147.88 L825.47 1146.88 L825.34 1145.68 L825.17 1144.36 L824.95 1143 L824.66 1141.59 L824.32 1140.07 L823.94 1138.46 L823.54 1136.77 L823.15 1135 L822.74 1133.11 L822.3 1131.1 L821.86 1129.02 L821.46 1126.97 L821.15 1125 L820.92 1123.12 L820.74 1121.28 L820.62 1119.48 L820.56 1117.72 L820.55 1116 L820.6 1114.38 L820.7 1112.87 L820.85 1111.37 L821.07 1109.78 L821.35 1108 L821.72 1106.01 L822.18 1103.86 L822.68 1101.62 L823.19 1099.31 L823.65 1097 L824.09 1094.68 L824.54 1092.32 L824.97 1089.93 L825.35 1087.49 L825.65 1085 L825.85 1082.24 L825.98 1079.21 L826.06 1076.25 L826.11 1073.7 L826.15 1071.9Z" fill="#0000ff" stroke="#000" stroke-width="1.5" stroke-linejoin="round"/>
<g clip-path="url(#vc9b)">
<line x1="829.15" y1="1071.9" x2="829.15" y2="1148.6" stroke="#000" stroke-width="1"/>
<line x1="829.15" y1="1103" x2="829.15" y2="1130" stroke="#000" stroke-width="1.8"/>
<ellipse cx="829.15" cy="1117.2" rx="4.4" ry="3.4" fill="#fff"/>
</g>
<clipPath id="vc9r"><path d="M850.2 1092.5 L850.36 1093.48 L850.57 1094.84 L850.83 1096.46 L851.14 1098.22 L851.5 1100 L851.91 1101.84 L852.37 1103.82 L852.87 1105.88 L853.42 1107.96 L854 1110 L854.67 1112.05 L855.44 1114.15 L856.22 1116.23 L856.94 1118.2 L857.5 1120 L857.92 1121.57 L858.24 1122.98 L858.47 1124.28 L858.59 1125.53 L858.6 1126.8 L858.47 1128.08 L858.2 1129.33 L857.83 1130.56 L857.42 1131.78 L857 1133 L856.54 1134.25 L856.02 1135.52 L855.47 1136.78 L854.95 1137.95 L854.5 1139 L854.11 1139.95 L853.76 1140.82 L853.44 1141.6 L853.19 1142.23 L853 1142.7 L847 1142.7 L846.81 1142.23 L846.56 1141.6 L846.24 1140.82 L845.89 1139.95 L845.5 1139 L845.05 1137.95 L844.53 1136.78 L843.98 1135.52 L843.46 1134.25 L843 1133 L842.58 1131.78 L842.17 1130.56 L841.8 1129.33 L841.53 1128.08 L841.4 1126.8 L841.41 1125.53 L841.53 1124.28 L841.76 1122.98 L842.08 1121.57 L842.5 1120 L843.06 1118.2 L843.78 1116.23 L844.56 1114.15 L845.33 1112.05 L846 1110 L846.58 1107.96 L847.13 1105.88 L847.63 1103.82 L848.09 1101.84 L848.5 1100 L848.86 1098.22 L849.17 1096.46 L849.43 1094.84 L849.64 1093.48 L849.8 1092.5Z"/></clipPath>
<path d="M850.2 1092.5 L850.36 1093.48 L850.57 1094.84 L850.83 1096.46 L851.14 1098.22 L851.5 1100 L851.91 1101.84 L852.37 1103.82 L852.87 1105.88 L853.42 1107.96 L854 1110 L854.67 1112.05 L855.44 1114.15 L856.22 1116.23 L856.94 1118.2 L857.5 1120 L857.92 1121.57 L858.24 1122.98 L858.47 1124.28 L858.59 1125.53 L858.6 1126.8 L858.47 1128.08 L858.2 1129.33 L857.83 1130.56 L857.42 1131.78 L857 1133 L856.54 1134.25 L856.02 1135.52 L855.47 1136.78 L854.95 1137.95 L854.5 1139 L854.11 1139.95 L853.76 1140.82 L853.44 1141.6 L853.19 1142.23 L853 1142.7 L847 1142.7 L846.81 1142.23 L846.56 1141.6 L846.24 1140.82 L845.89 1139.95 L845.5 1139 L845.05 1137.95 L844.53 1136.78 L843.98 1135.52 L843.46 1134.25 L843 1133 L842.58 1131.78 L842.17 1130.56 L841.8 1129.33 L841.53 1128.08 L841.4 1126.8 L841.41 1125.53 L841.53 1124.28 L841.76 1122.98 L842.08 1121.57 L842.5 1120 L843.06 1118.2 L843.78 1116.23 L844.56 1114.15 L845.33 1112.05 L846 1110 L846.58 1107.96 L847.13 1105.88 L847.63 1103.82 L848.09 1101.84 L848.5 1100 L848.86 1098.22 L849.17 1096.46 L849.43 1094.84 L849.64 1093.48 L849.8 1092.5Z" fill="#ff0000" stroke="#000" stroke-width="1.5" stroke-linejoin="round"/>
<g clip-path="url(#vc9r)">
<line x1="850" y1="1092.5" x2="850" y2="1142.7" stroke="#000" stroke-width="1"/>
<line x1="850" y1="1117" x2="850" y2="1134" stroke="#000" stroke-width="1.8"/>
<ellipse cx="850" cy="1126.5" rx="4.4" ry="3.4" fill="#fff"/>
</g>
<clipPath id="vc10b"><path d="M895.2 1137.4 L895.46 1137.73 L895.83 1138.19 L896.27 1138.73 L896.74 1139.35 L897.2 1140 L897.7 1140.73 L898.26 1141.55 L898.81 1142.4 L899.31 1143.24 L899.7 1144 L899.96 1144.66 L900.12 1145.27 L900.22 1145.85 L900.27 1146.42 L900.3 1147 L900.28 1147.65 L900.19 1148.34 L900.08 1149.02 L899.97 1149.59 L899.9 1150 L883.5 1150 L883.43 1149.59 L883.32 1149.02 L883.21 1148.34 L883.12 1147.65 L883.1 1147 L883.13 1146.42 L883.18 1145.85 L883.28 1145.27 L883.44 1144.66 L883.7 1144 L884.09 1143.24 L884.59 1142.4 L885.14 1141.55 L885.7 1140.73 L886.2 1140 L886.66 1139.35 L887.13 1138.73 L887.57 1138.19 L887.94 1137.73 L888.2 1137.4Z"/></clipPath>
<path d="M895.2 1137.4 L895.46 1137.73 L895.83 1138.19 L896.27 1138.73 L896.74 1139.35 L897.2 1140 L897.7 1140.73 L898.26 1141.55 L898.81 1142.4 L899.31 1143.24 L899.7 1144 L899.96 1144.66 L900.12 1145.27 L900.22 1145.85 L900.27 1146.42 L900.3 1147 L900.28 1147.65 L900.19 1148.34 L900.08 1149.02 L899.97 1149.59 L899.9 1150 L883.5 1150 L883.43 1149.59 L883.32 1149.02 L883.21 1148.34 L883.12 1147.65 L883.1 1147 L883.13 1146.42 L883.18 1145.85 L883.28 1145.27 L883.44 1144.66 L883.7 1144 L884.09 1143.24 L884.59 1142.4 L885.14 1141.55 L885.7 1140.73 L886.2 1140 L886.66 1139.35 L887.13 1138.73 L887.57 1138.19 L887.94 1137.73 L888.2 1137.4Z" fill="#0000ff" stroke="#000" stroke-width="1.5" stroke-linejoin="round"/>
<g clip-path="url(#vc10b)">
<line x1="891.7" y1="1137.4" x2="891.7" y2="1150" stroke="#000" stroke-width="1"/>
<line x1="891.7" y1="1142" x2="891.7" y2="1149" stroke="#000" stroke-width="1.8"/>
<ellipse cx="891.7" cy="1145.7" rx="4.4" ry="3.4" fill="#fff"/>
</g>
<clipPath id="vc10r"><path d="M914.75 1138.3 L914.81 1138.81 L914.89 1139.55 L915 1140.39 L915.15 1141.25 L915.35 1142 L915.61 1142.64 L915.91 1143.25 L916.26 1143.83 L916.64 1144.41 L917.05 1145 L917.51 1145.62 L918.04 1146.25 L918.58 1146.87 L919.09 1147.46 L919.55 1148 L919.95 1148.5 L920.33 1148.97 L920.67 1149.39 L920.95 1149.74 L921.15 1150 L903.95 1150 L904.15 1149.74 L904.43 1149.39 L904.77 1148.97 L905.15 1148.5 L905.55 1148 L906.01 1147.46 L906.52 1146.87 L907.06 1146.25 L907.59 1145.62 L908.05 1145 L908.46 1144.41 L908.84 1143.83 L909.19 1143.25 L909.49 1142.64 L909.75 1142 L909.95 1141.25 L910.1 1140.39 L910.21 1139.55 L910.29 1138.81 L910.35 1138.3Z"/></clipPath>
<path d="M914.75 1138.3 L914.81 1138.81 L914.89 1139.55 L915 1140.39 L915.15 1141.25 L915.35 1142 L915.61 1142.64 L915.91 1143.25 L916.26 1143.83 L916.64 1144.41 L917.05 1145 L917.51 1145.62 L918.04 1146.25 L918.58 1146.87 L919.09 1147.46 L919.55 1148 L919.95 1148.5 L920.33 1148.97 L920.67 1149.39 L920.95 1149.74 L921.15 1150 L903.95 1150 L904.15 1149.74 L904.43 1149.39 L904.77 1148.97 L905.15 1148.5 L905.55 1148 L906.01 1147.46 L906.52 1146.87 L907.06 1146.25 L907.59 1145.62 L908.05 1145 L908.46 1144.41 L908.84 1143.83 L909.19 1143.25 L909.49 1142.64 L909.75 1142 L909.95 1141.25 L910.1 1140.39 L910.21 1139.55 L910.29 1138.81 L910.35 1138.3Z" fill="#ff0000" stroke="#000" stroke-width="1.5" stroke-linejoin="round"/>
<g clip-path="url(#vc10r)">
<line x1="912.55" y1="1138.3" x2="912.55" y2="1150" stroke="#000" stroke-width="1"/>
<line x1="912.55" y1="1143" x2="912.55" y2="1150" stroke="#000" stroke-width="1.8"/>
<ellipse cx="912.55" cy="1149.9" rx="4.3" ry="3.7" fill="#fff"/>
</g>
<clipPath id="vc11b"><path d="M954.45 1108.8 L954.41 1111.62 L954.4 1115.73 L954.4 1120.35 L954.4 1124.7 L954.45 1128 L954.84 1130.04 L955.38 1131.35 L956.02 1132.23 L956.66 1133.01 L957.25 1134 L957.77 1135.2 L958.27 1136.4 L958.76 1137.6 L959.25 1138.8 L959.75 1140 L960.28 1141.25 L960.84 1142.54 L961.39 1143.82 L961.87 1144.99 L962.25 1146 L962.5 1146.82 L962.67 1147.51 L962.76 1148.09 L962.81 1148.58 L962.85 1149 L962.86 1149.34 L962.82 1149.59 L962.75 1149.77 L962.69 1149.9 L962.65 1150 L945.85 1150 L945.81 1149.9 L945.75 1149.77 L945.68 1149.59 L945.64 1149.34 L945.65 1149 L945.69 1148.58 L945.74 1148.09 L945.83 1147.51 L946 1146.82 L946.25 1146 L946.63 1144.99 L947.11 1143.82 L947.66 1142.54 L948.22 1141.25 L948.75 1140 L949.25 1138.8 L949.74 1137.6 L950.23 1136.4 L950.73 1135.2 L951.25 1134 L951.84 1133.01 L952.48 1132.23 L953.12 1131.35 L953.66 1130.04 L954.05 1128 L954.1 1124.7 L954.1 1120.35 L954.1 1115.73 L954.09 1111.62 L954.05 1108.8Z"/></clipPath>
<path d="M954.45 1108.8 L954.41 1111.62 L954.4 1115.73 L954.4 1120.35 L954.4 1124.7 L954.45 1128 L954.84 1130.04 L955.38 1131.35 L956.02 1132.23 L956.66 1133.01 L957.25 1134 L957.77 1135.2 L958.27 1136.4 L958.76 1137.6 L959.25 1138.8 L959.75 1140 L960.28 1141.25 L960.84 1142.54 L961.39 1143.82 L961.87 1144.99 L962.25 1146 L962.5 1146.82 L962.67 1147.51 L962.76 1148.09 L962.81 1148.58 L962.85 1149 L962.86 1149.34 L962.82 1149.59 L962.75 1149.77 L962.69 1149.9 L962.65 1150 L945.85 1150 L945.81 1149.9 L945.75 1149.77 L945.68 1149.59 L945.64 1149.34 L945.65 1149 L945.69 1148.58 L945.74 1148.09 L945.83 1147.51 L946 1146.82 L946.25 1146 L946.63 1144.99 L947.11 1143.82 L947.66 1142.54 L948.22 1141.25 L948.75 1140 L949.25 1138.8 L949.74 1137.6 L950.23 1136.4 L950.73 1135.2 L951.25 1134 L951.84 1133.01 L952.48 1132.23 L953.12 1131.35 L953.66 1130.04 L954.05 1128 L954.1 1124.7 L954.1 1120.35 L954.1 1115.73 L954.09 1111.62 L954.05 1108.8Z" fill="#0000ff" stroke="#000" stroke-width="1.5" stroke-linejoin="round"/>
<g clip-path="url(#vc11b)">
<line x1="954.25" y1="1108.8" x2="954.25" y2="1150" stroke="#000" stroke-width="1"/>
<line x1="954.25" y1="1134" x2="954.25" y2="1150" stroke="#000" stroke-width="1.8"/>
<ellipse cx="954.25" cy="1149.9" rx="4.3" ry="3.7" fill="#fff"/>
</g>
<clipPath id="vc12b"><path d="M1018.3 1028.5 L1018.35 1030.77 L1018.42 1033.98 L1018.5 1037.72 L1018.63 1041.53 L1018.8 1045 L1019.03 1048.1 L1019.3 1051.11 L1019.62 1054.07 L1019.95 1057.02 L1020.3 1060 L1020.66 1063 L1021.05 1066 L1021.45 1069 L1021.87 1072 L1022.3 1075 L1022.76 1078.08 L1023.27 1081.24 L1023.77 1084.36 L1024.23 1087.32 L1024.6 1090 L1024.87 1092.29 L1025.08 1094.26 L1025.23 1096.1 L1025.33 1097.95 L1025.4 1100 L1025.42 1102.26 L1025.39 1104.61 L1025.32 1107.03 L1025.22 1109.5 L1025.1 1112 L1024.95 1114.54 L1024.76 1117.13 L1024.54 1119.75 L1024.32 1122.38 L1024.1 1125 L1023.88 1127.62 L1023.66 1130.25 L1023.43 1132.87 L1023.21 1135.46 L1023 1138 L1022.79 1140.66 L1022.58 1143.45 L1022.39 1146.11 L1022.22 1148.38 L1022.1 1150 L1011.5 1150 L1011.38 1148.38 L1011.21 1146.11 L1011.02 1143.45 L1010.81 1140.66 L1010.6 1138 L1010.39 1135.46 L1010.17 1132.87 L1009.94 1130.25 L1009.72 1127.62 L1009.5 1125 L1009.28 1122.38 L1009.06 1119.75 L1008.84 1117.13 L1008.65 1114.54 L1008.5 1112 L1008.38 1109.5 L1008.28 1107.03 L1008.21 1104.61 L1008.18 1102.26 L1008.2 1100 L1008.27 1097.95 L1008.37 1096.1 L1008.52 1094.26 L1008.73 1092.29 L1009 1090 L1009.37 1087.32 L1009.83 1084.36 L1010.33 1081.24 L1010.84 1078.08 L1011.3 1075 L1011.73 1072 L1012.15 1069 L1012.55 1066 L1012.94 1063 L1013.3 1060 L1013.65 1057.02 L1013.98 1054.07 L1014.3 1051.11 L1014.57 1048.1 L1014.8 1045 L1014.97 1041.53 L1015.1 1037.72 L1015.18 1033.98 L1015.25 1030.77 L1015.3 1028.5Z"/></clipPath>
<path d="M1018.3 1028.5 L1018.35 1030.77 L1018.42 1033.98 L1018.5 1037.72 L1018.63 1041.53 L1018.8 1045 L1019.03 1048.1 L1019.3 1051.11 L1019.62 1054.07 L1019.95 1057.02 L1020.3 1060 L1020.66 1063 L1021.05 1066 L1021.45 1069 L1021.87 1072 L1022.3 1075 L1022.76 1078.08 L1023.27 1081.24 L1023.77 1084.36 L1024.23 1087.32 L1024.6 1090 L1024.87 1092.29 L1025.08 1094.26 L1025.23 1096.1 L1025.33 1097.95 L1025.4 1100 L1025.42 1102.26 L1025.39 1104.61 L1025.32 1107.03 L1025.22 1109.5 L1025.1 1112 L1024.95 1114.54 L1024.76 1117.13 L1024.54 1119.75 L1024.32 1122.38 L1024.1 1125 L1023.88 1127.62 L1023.66 1130.25 L1023.43 1132.87 L1023.21 1135.46 L1023 1138 L1022.79 1140.66 L1022.58 1143.45 L1022.39 1146.11 L1022.22 1148.38 L1022.1 1150 L1011.5 1150 L1011.38 1148.38 L1011.21 1146.11 L1011.02 1143.45 L1010.81 1140.66 L1010.6 1138 L1010.39 1135.46 L1010.17 1132.87 L1009.94 1130.25 L1009.72 1127.62 L1009.5 1125 L1009.28 1122.38 L1009.06 1119.75 L1008.84 1117.13 L1008.65 1114.54 L1008.5 1112 L1008.38 1109.5 L1008.28 1107.03 L1008.21 1104.61 L1008.18 1102.26 L1008.2 1100 L1008.27 1097.95 L1008.37 1096.1 L1008.52 1094.26 L1008.73 1092.29 L1009 1090 L1009.37 1087.32 L1009.83 1084.36 L1010.33 1081.24 L1010.84 1078.08 L1011.3 1075 L1011.73 1072 L1012.15 1069 L1012.55 1066 L1012.94 1063 L1013.3 1060 L1013.65 1057.02 L1013.98 1054.07 L1014.3 1051.11 L1014.57 1048.1 L1014.8 1045 L1014.97 1041.53 L1015.1 1037.72 L1015.18 1033.98 L1015.25 1030.77 L1015.3 1028.5Z" fill="#0000ff" stroke="#000" stroke-width="1.5" stroke-linejoin="round"/>
<g clip-path="url(#vc12b)">
<line x1="1016.8" y1="1028.5" x2="1016.8" y2="1150" stroke="#000" stroke-width="1"/>
<line x1="1016.8" y1="1080" x2="1016.8" y2="1125" stroke="#000" stroke-width="1.8"/>
<ellipse cx="1016.8" cy="1102.5" rx="4.4" ry="3.4" fill="#fff"/>
</g>
<clipPath id="vc12r"><path d="M1037.85 1052.2 L1037.81 1054.67 L1037.8 1058.17 L1037.8 1062.23 L1037.8 1066.33 L1037.85 1070 L1038.23 1073.21 L1038.76 1076.3 L1039.38 1079.28 L1040.03 1082.17 L1040.65 1085 L1041.25 1087.78 L1041.88 1090.49 L1042.51 1093.11 L1043.11 1095.62 L1043.65 1098 L1044.14 1100.26 L1044.59 1102.41 L1045 1104.43 L1045.36 1106.3 L1045.65 1108 L1045.88 1109.42 L1046.05 1110.59 L1046.16 1111.65 L1046.23 1112.74 L1046.25 1114 L1046.22 1115.44 L1046.15 1116.96 L1046.03 1118.56 L1045.86 1120.24 L1045.65 1122 L1045.38 1123.87 L1045.05 1125.86 L1044.69 1127.9 L1044.31 1129.97 L1043.95 1132 L1043.58 1134.03 L1043.2 1136.1 L1042.82 1138.14 L1042.46 1140.13 L1042.15 1142 L1041.88 1143.86 L1041.64 1145.73 L1041.44 1147.47 L1041.27 1148.94 L1041.15 1150 L1034.15 1150 L1034.03 1148.94 L1033.86 1147.47 L1033.66 1145.73 L1033.42 1143.86 L1033.15 1142 L1032.84 1140.13 L1032.48 1138.14 L1032.1 1136.1 L1031.72 1134.03 L1031.35 1132 L1030.99 1129.97 L1030.61 1127.9 L1030.25 1125.86 L1029.92 1123.87 L1029.65 1122 L1029.44 1120.24 L1029.27 1118.56 L1029.15 1116.96 L1029.08 1115.44 L1029.05 1114 L1029.07 1112.74 L1029.14 1111.65 L1029.25 1110.59 L1029.42 1109.42 L1029.65 1108 L1029.94 1106.3 L1030.3 1104.43 L1030.71 1102.41 L1031.16 1100.26 L1031.65 1098 L1032.19 1095.62 L1032.79 1093.11 L1033.42 1090.49 L1034.05 1087.78 L1034.65 1085 L1035.27 1082.17 L1035.92 1079.28 L1036.54 1076.3 L1037.07 1073.21 L1037.45 1070 L1037.5 1066.33 L1037.5 1062.23 L1037.5 1058.17 L1037.49 1054.67 L1037.45 1052.2Z"/></clipPath>
<path d="M1037.85 1052.2 L1037.81 1054.67 L1037.8 1058.17 L1037.8 1062.23 L1037.8 1066.33 L1037.85 1070 L1038.23 1073.21 L1038.76 1076.3 L1039.38 1079.28 L1040.03 1082.17 L1040.65 1085 L1041.25 1087.78 L1041.88 1090.49 L1042.51 1093.11 L1043.11 1095.62 L1043.65 1098 L1044.14 1100.26 L1044.59 1102.41 L1045 1104.43 L1045.36 1106.3 L1045.65 1108 L1045.88 1109.42 L1046.05 1110.59 L1046.16 1111.65 L1046.23 1112.74 L1046.25 1114 L1046.22 1115.44 L1046.15 1116.96 L1046.03 1118.56 L1045.86 1120.24 L1045.65 1122 L1045.38 1123.87 L1045.05 1125.86 L1044.69 1127.9 L1044.31 1129.97 L1043.95 1132 L1043.58 1134.03 L1043.2 1136.1 L1042.82 1138.14 L1042.46 1140.13 L1042.15 1142 L1041.88 1143.86 L1041.64 1145.73 L1041.44 1147.47 L1041.27 1148.94 L1041.15 1150 L1034.15 1150 L1034.03 1148.94 L1033.86 1147.47 L1033.66 1145.73 L1033.42 1143.86 L1033.15 1142 L1032.84 1140.13 L1032.48 1138.14 L1032.1 1136.1 L1031.72 1134.03 L1031.35 1132 L1030.99 1129.97 L1030.61 1127.9 L1030.25 1125.86 L1029.92 1123.87 L1029.65 1122 L1029.44 1120.24 L1029.27 1118.56 L1029.15 1116.96 L1029.08 1115.44 L1029.05 1114 L1029.07 1112.74 L1029.14 1111.65 L1029.25 1110.59 L1029.42 1109.42 L1029.65 1108 L1029.94 1106.3 L1030.3 1104.43 L1030.71 1102.41 L1031.16 1100.26 L1031.65 1098 L1032.19 1095.62 L1032.79 1093.11 L1033.42 1090.49 L1034.05 1087.78 L1034.65 1085 L1035.27 1082.17 L1035.92 1079.28 L1036.54 1076.3 L1037.07 1073.21 L1037.45 1070 L1037.5 1066.33 L1037.5 1062.23 L1037.5 1058.17 L1037.49 1054.67 L1037.45 1052.2Z" fill="#ff0000" stroke="#000" stroke-width="1.5" stroke-linejoin="round"/>
<g clip-path="url(#vc12r)">
<line x1="1037.65" y1="1052.2" x2="1037.65" y2="1150" stroke="#000" stroke-width="1"/>
<line x1="1037.65" y1="1098" x2="1037.65" y2="1128" stroke="#000" stroke-width="1.8"/>
<ellipse cx="1037.65" cy="1113.9" rx="4.4" ry="3.4" fill="#fff"/>
</g>
<clipPath id="vc13b"><path d="M1087.55 891.6 L1087.61 895.44 L1087.7 900.84 L1087.8 907.16 L1087.89 913.76 L1087.95 920 L1087.99 925.98 L1088.01 932.12 L1088.01 938.28 L1087.99 944.29 L1087.95 950 L1087.88 955.32 L1087.78 960.36 L1087.66 965.24 L1087.52 970.08 L1087.35 975 L1087.15 979.92 L1086.9 984.76 L1086.64 989.64 L1086.39 994.68 L1086.15 1000 L1085.93 1005.52 L1085.72 1011.16 L1085.51 1017.04 L1085.32 1023.28 L1085.15 1030 L1085 1037.36 L1084.86 1045.28 L1084.74 1053.52 L1084.64 1061.84 L1084.55 1070 L1084.48 1078 L1084.44 1086 L1084.41 1094 L1084.38 1102 L1084.35 1110 L1084.31 1118.64 L1084.26 1127.92 L1084.22 1136.88 L1084.18 1144.56 L1084.15 1150 L1074.55 1150 L1074.52 1144.56 L1074.48 1136.88 L1074.44 1127.92 L1074.39 1118.64 L1074.35 1110 L1074.32 1102 L1074.29 1094 L1074.26 1086 L1074.22 1078 L1074.15 1070 L1074.06 1061.84 L1073.96 1053.52 L1073.84 1045.28 L1073.7 1037.36 L1073.55 1030 L1073.38 1023.28 L1073.19 1017.04 L1072.98 1011.16 L1072.77 1005.52 L1072.55 1000 L1072.31 994.68 L1072.06 989.64 L1071.8 984.76 L1071.55 979.92 L1071.35 975 L1071.18 970.08 L1071.04 965.24 L1070.92 960.36 L1070.82 955.32 L1070.75 950 L1070.71 944.29 L1070.69 938.28 L1070.69 932.12 L1070.71 925.98 L1070.75 920 L1070.81 913.76 L1070.9 907.16 L1071 900.84 L1071.09 895.44 L1071.15 891.6Z"/></clipPath>
<path d="M1087.55 891.6 L1087.61 895.44 L1087.7 900.84 L1087.8 907.16 L1087.89 913.76 L1087.95 920 L1087.99 925.98 L1088.01 932.12 L1088.01 938.28 L1087.99 944.29 L1087.95 950 L1087.88 955.32 L1087.78 960.36 L1087.66 965.24 L1087.52 970.08 L1087.35 975 L1087.15 979.92 L1086.9 984.76 L1086.64 989.64 L1086.39 994.68 L1086.15 1000 L1085.93 1005.52 L1085.72 1011.16 L1085.51 1017.04 L1085.32 1023.28 L1085.15 1030 L1085 1037.36 L1084.86 1045.28 L1084.74 1053.52 L1084.64 1061.84 L1084.55 1070 L1084.48 1078 L1084.44 1086 L1084.41 1094 L1084.38 1102 L1084.35 1110 L1084.31 1118.64 L1084.26 1127.92 L1084.22 1136.88 L1084.18 1144.56 L1084.15 1150 L1074.55 1150 L1074.52 1144.56 L1074.48 1136.88 L1074.44 1127.92 L1074.39 1118.64 L1074.35 1110 L1074.32 1102 L1074.29 1094 L1074.26 1086 L1074.22 1078 L1074.15 1070 L1074.06 1061.84 L1073.96 1053.52 L1073.84 1045.28 L1073.7 1037.36 L1073.55 1030 L1073.38 1023.28 L1073.19 1017.04 L1072.98 1011.16 L1072.77 1005.52 L1072.55 1000 L1072.31 994.68 L1072.06 989.64 L1071.8 984.76 L1071.55 979.92 L1071.35 975 L1071.18 970.08 L1071.04 965.24 L1070.92 960.36 L1070.82 955.32 L1070.75 950 L1070.71 944.29 L1070.69 938.28 L1070.69 932.12 L1070.71 925.98 L1070.75 920 L1070.81 913.76 L1070.9 907.16 L1071 900.84 L1071.09 895.44 L1071.15 891.6Z" fill="#0000ff" stroke="#000" stroke-width="1.5" stroke-linejoin="round"/>
<g clip-path="url(#vc13b)">
<line x1="1079.35" y1="891.6" x2="1079.35" y2="1150" stroke="#000" stroke-width="1"/>
<line x1="1079.35" y1="900" x2="1079.35" y2="1150" stroke="#000" stroke-width="1.8"/>
<ellipse cx="1079.35" cy="959.1" rx="4.4" ry="3.4" fill="#fff"/>
</g>
<clipPath id="vc13r"><path d="M1103 735 L1103.05 738.32 L1103.12 742.96 L1103.2 748.44 L1103.33 754.28 L1103.5 760 L1103.73 765.68 L1104.02 771.64 L1104.34 777.76 L1104.67 783.92 L1105 790 L1105.33 796 L1105.68 802 L1106.02 808 L1106.37 814 L1106.7 820 L1107.03 826.16 L1107.36 832.48 L1107.67 838.72 L1107.96 844.64 L1108.2 850 L1108.39 854.64 L1108.55 858.72 L1108.67 862.48 L1108.75 866.16 L1108.8 870 L1108.81 873.84 L1108.79 877.52 L1108.74 881.28 L1108.64 885.36 L1108.5 890 L1108.31 895.36 L1108.07 901.28 L1107.8 907.52 L1107.5 913.84 L1107.2 920 L1106.88 926 L1106.53 932 L1106.17 938 L1105.82 944 L1105.5 950 L1105.21 956 L1104.94 962 L1104.68 968 L1104.43 974 L1104.2 980 L1103.97 986.12 L1103.75 992.37 L1103.55 998.56 L1103.36 1004.5 L1103.2 1010 L1103.06 1015.29 L1102.94 1020.51 L1102.84 1025.29 L1102.76 1029.31 L1102.7 1032.2 L1097.7 1032.2 L1097.64 1029.31 L1097.56 1025.29 L1097.46 1020.51 L1097.34 1015.29 L1097.2 1010 L1097.04 1004.5 L1096.85 998.56 L1096.65 992.37 L1096.43 986.12 L1096.2 980 L1095.97 974 L1095.72 968 L1095.46 962 L1095.19 956 L1094.9 950 L1094.58 944 L1094.23 938 L1093.87 932 L1093.52 926 L1093.2 920 L1092.9 913.84 L1092.6 907.52 L1092.33 901.28 L1092.09 895.36 L1091.9 890 L1091.76 885.36 L1091.66 881.28 L1091.61 877.52 L1091.59 873.84 L1091.6 870 L1091.65 866.16 L1091.73 862.48 L1091.85 858.72 L1092.01 854.64 L1092.2 850 L1092.44 844.64 L1092.73 838.72 L1093.04 832.48 L1093.37 826.16 L1093.7 820 L1094.03 814 L1094.38 808 L1094.72 802 L1095.07 796 L1095.4 790 L1095.73 783.92 L1096.06 777.76 L1096.38 771.64 L1096.67 765.68 L1096.9 760 L1097.07 754.28 L1097.2 748.44 L1097.28 742.96 L1097.35 738.32 L1097.4 735Z"/></clipPath>
<path d="M1103 735 L1103.05 738.32 L1103.12 742.96 L1103.2 748.44 L1103.33 754.28 L1103.5 760 L1103.73 765.68 L1104.02 771.64 L1104.34 777.76 L1104.67 783.92 L1105 790 L1105.33 796 L1105.68 802 L1106.02 808 L1106.37 814 L1106.7 820 L1107.03 826.16 L1107.36 832.48 L1107.67 838.72 L1107.96 844.64 L1108.2 850 L1108.39 854.64 L1108.55 858.72 L1108.67 862.48 L1108.75 866.16 L1108.8 870 L1108.81 873.84 L1108.79 877.52 L1108.74 881.28 L1108.64 885.36 L1108.5 890 L1108.31 895.36 L1108.07 901.28 L1107.8 907.52 L1107.5 913.84 L1107.2 920 L1106.88 926 L1106.53 932 L1106.17 938 L1105.82 944 L1105.5 950 L1105.21 956 L1104.94 962 L1104.68 968 L1104.43 974 L1104.2 980 L1103.97 986.12 L1103.75 992.37 L1103.55 998.56 L1103.36 1004.5 L1103.2 1010 L1103.06 1015.29 L1102.94 1020.51 L1102.84 1025.29 L1102.76 1029.31 L1102.7 1032.2 L1097.7 1032.2 L1097.64 1029.31 L1097.56 1025.29 L1097.46 1020.51 L1097.34 1015.29 L1097.2 1010 L1097.04 1004.5 L1096.85 998.56 L1096.65 992.37 L1096.43 986.12 L1096.2 980 L1095.97 974 L1095.72 968 L1095.46 962 L1095.19 956 L1094.9 950 L1094.58 944 L1094.23 938 L1093.87 932 L1093.52 926 L1093.2 920 L1092.9 913.84 L1092.6 907.52 L1092.33 901.28 L1092.09 895.36 L1091.9 890 L1091.76 885.36 L1091.66 881.28 L1091.61 877.52 L1091.59 873.84 L1091.6 870 L1091.65 866.16 L1091.73 862.48 L1091.85 858.72 L1092.01 854.64 L1092.2 850 L1092.44 844.64 L1092.73 838.72 L1093.04 832.48 L1093.37 826.16 L1093.7 820 L1094.03 814 L1094.38 808 L1094.72 802 L1095.07 796 L1095.4 790 L1095.73 783.92 L1096.06 777.76 L1096.38 771.64 L1096.67 765.68 L1096.9 760 L1097.07 754.28 L1097.2 748.44 L1097.28 742.96 L1097.35 738.32 L1097.4 735Z" fill="#ff0000" stroke="#000" stroke-width="1.5" stroke-linejoin="round"/>
<g clip-path="url(#vc13r)">
<line x1="1100.2" y1="735" x2="1100.2" y2="1032.2" stroke="#000" stroke-width="1"/>
<line x1="1100.2" y1="840" x2="1100.2" y2="923" stroke="#000" stroke-width="1.8"/>
<ellipse cx="1100.2" cy="875.6" rx="4.4" ry="3.4" fill="#fff"/>
</g>
<clipPath id="vc14b"><path d="M1142.1 1096.8 L1142.31 1097.77 L1142.6 1099.12 L1142.94 1100.72 L1143.32 1102.39 L1143.7 1104 L1144.09 1105.55 L1144.5 1107.14 L1144.93 1108.76 L1145.4 1110.39 L1145.9 1112 L1146.47 1113.6 L1147.11 1115.2 L1147.76 1116.8 L1148.38 1118.4 L1148.9 1120 L1149.34 1121.62 L1149.75 1123.25 L1150.09 1124.87 L1150.34 1126.46 L1150.5 1128 L1150.55 1129.46 L1150.51 1130.87 L1150.38 1132.25 L1150.18 1133.62 L1149.9 1135 L1149.51 1136.43 L1149.01 1137.9 L1148.46 1139.34 L1147.9 1140.73 L1147.4 1142 L1146.95 1143.16 L1146.5 1144.24 L1146.08 1145.24 L1145.71 1146.16 L1145.4 1147 L1145.17 1147.78 L1144.99 1148.49 L1144.87 1149.11 L1144.77 1149.62 L1144.7 1150 L1139.1 1150 L1139.03 1149.62 L1138.93 1149.11 L1138.81 1148.49 L1138.63 1147.78 L1138.4 1147 L1138.09 1146.16 L1137.72 1145.24 L1137.3 1144.24 L1136.85 1143.16 L1136.4 1142 L1135.9 1140.73 L1135.34 1139.34 L1134.79 1137.9 L1134.29 1136.43 L1133.9 1135 L1133.62 1133.62 L1133.42 1132.25 L1133.29 1130.87 L1133.25 1129.46 L1133.3 1128 L1133.46 1126.46 L1133.71 1124.87 L1134.05 1123.25 L1134.46 1121.62 L1134.9 1120 L1135.42 1118.4 L1136.04 1116.8 L1136.69 1115.2 L1137.33 1113.6 L1137.9 1112 L1138.4 1110.39 L1138.87 1108.76 L1139.3 1107.14 L1139.71 1105.55 L1140.1 1104 L1140.48 1102.39 L1140.86 1100.72 L1141.2 1099.12 L1141.49 1097.77 L1141.7 1096.8Z"/></clipPath>
<path d="M1142.1 1096.8 L1142.31 1097.77 L1142.6 1099.12 L1142.94 1100.72 L1143.32 1102.39 L1143.7 1104 L1144.09 1105.55 L1144.5 1107.14 L1144.93 1108.76 L1145.4 1110.39 L1145.9 1112 L1146.47 1113.6 L1147.11 1115.2 L1147.76 1116.8 L1148.38 1118.4 L1148.9 1120 L1149.34 1121.62 L1149.75 1123.25 L1150.09 1124.87 L1150.34 1126.46 L1150.5 1128 L1150.55 1129.46 L1150.51 1130.87 L1150.38 1132.25 L1150.18 1133.62 L1149.9 1135 L1149.51 1136.43 L1149.01 1137.9 L1148.46 1139.34 L1147.9 1140.73 L1147.4 1142 L1146.95 1143.16 L1146.5 1144.24 L1146.08 1145.24 L1145.71 1146.16 L1145.4 1147 L1145.17 1147.78 L1144.99 1148.49 L1144.87 1149.11 L1144.77 1149.62 L1144.7 1150 L1139.1 1150 L1139.03 1149.62 L1138.93 1149.11 L1138.81 1148.49 L1138.63 1147.78 L1138.4 1147 L1138.09 1146.16 L1137.72 1145.24 L1137.3 1144.24 L1136.85 1143.16 L1136.4 1142 L1135.9 1140.73 L1135.34 1139.34 L1134.79 1137.9 L1134.29 1136.43 L1133.9 1135 L1133.62 1133.62 L1133.42 1132.25 L1133.29 1130.87 L1133.25 1129.46 L1133.3 1128 L1133.46 1126.46 L1133.71 1124.87 L1134.05 1123.25 L1134.46 1121.62 L1134.9 1120 L1135.42 1118.4 L1136.04 1116.8 L1136.69 1115.2 L1137.33 1113.6 L1137.9 1112 L1138.4 1110.39 L1138.87 1108.76 L1139.3 1107.14 L1139.71 1105.55 L1140.1 1104 L1140.48 1102.39 L1140.86 1100.72 L1141.2 1099.12 L1141.49 1097.77 L1141.7 1096.8Z" fill="#0000ff" stroke="#000" stroke-width="1.5" stroke-linejoin="round"/>
<g clip-path="url(#vc14b)">
<line x1="1141.9" y1="1096.8" x2="1141.9" y2="1150" stroke="#000" stroke-width="1"/>
<line x1="1141.9" y1="1118" x2="1141.9" y2="1140" stroke="#000" stroke-width="1.8"/>
<ellipse cx="1141.9" cy="1129.9" rx="4.4" ry="3.4" fill="#fff"/>
</g>
<clipPath id="vc14r"><path d="M1162.95 1119.8 L1163.18 1120.22 L1163.48 1120.81 L1163.86 1121.51 L1164.28 1122.26 L1164.75 1123 L1165.27 1123.75 L1165.86 1124.54 L1166.49 1125.36 L1167.13 1126.19 L1167.75 1127 L1168.39 1127.82 L1169.07 1128.65 L1169.72 1129.47 L1170.3 1130.26 L1170.75 1131 L1171.05 1131.65 L1171.24 1132.22 L1171.35 1132.78 L1171.38 1133.35 L1171.35 1134 L1171.27 1134.74 L1171.12 1135.53 L1170.91 1136.35 L1170.62 1137.18 L1170.25 1138 L1169.75 1138.82 L1169.11 1139.67 L1168.43 1140.5 L1167.78 1141.29 L1167.25 1142 L1166.83 1142.65 L1166.47 1143.27 L1166.17 1143.81 L1165.93 1144.27 L1165.75 1144.6 L1159.75 1144.6 L1159.57 1144.27 L1159.33 1143.81 L1159.03 1143.27 L1158.67 1142.65 L1158.25 1142 L1157.72 1141.29 L1157.07 1140.5 L1156.39 1139.67 L1155.75 1138.82 L1155.25 1138 L1154.88 1137.18 L1154.59 1136.35 L1154.38 1135.53 L1154.23 1134.74 L1154.15 1134 L1154.12 1133.35 L1154.15 1132.78 L1154.26 1132.22 L1154.45 1131.65 L1154.75 1131 L1155.2 1130.26 L1155.78 1129.47 L1156.43 1128.65 L1157.11 1127.82 L1157.75 1127 L1158.37 1126.19 L1159.01 1125.36 L1159.64 1124.54 L1160.23 1123.75 L1160.75 1123 L1161.22 1122.26 L1161.64 1121.51 L1162.02 1120.81 L1162.32 1120.22 L1162.55 1119.8Z"/></clipPath>
<path d="M1162.95 1119.8 L1163.18 1120.22 L1163.48 1120.81 L1163.86 1121.51 L1164.28 1122.26 L1164.75 1123 L1165.27 1123.75 L1165.86 1124.54 L1166.49 1125.36 L1167.13 1126.19 L1167.75 1127 L1168.39 1127.82 L1169.07 1128.65 L1169.72 1129.47 L1170.3 1130.26 L1170.75 1131 L1171.05 1131.65 L1171.24 1132.22 L1171.35 1132.78 L1171.38 1133.35 L1171.35 1134 L1171.27 1134.74 L1171.12 1135.53 L1170.91 1136.35 L1170.62 1137.18 L1170.25 1138 L1169.75 1138.82 L1169.11 1139.67 L1168.43 1140.5 L1167.78 1141.29 L1167.25 1142 L1166.83 1142.65 L1166.47 1143.27 L1166.17 1143.81 L1165.93 1144.27 L1165.75 1144.6 L1159.75 1144.6 L1159.57 1144.27 L1159.33 1143.81 L1159.03 1143.27 L1158.67 1142.65 L1158.25 1142 L1157.72 1141.29 L1157.07 1140.5 L1156.39 1139.67 L1155.75 1138.82 L1155.25 1138 L1154.88 1137.18 L1154.59 1136.35 L1154.38 1135.53 L1154.23 1134.74 L1154.15 1134 L1154.12 1133.35 L1154.15 1132.78 L1154.26 1132.22 L1154.45 1131.65 L1154.75 1131 L1155.2 1130.26 L1155.78 1129.47 L1156.43 1128.65 L1157.11 1127.82 L1157.75 1127 L1158.37 1126.19 L1159.01 1125.36 L1159.64 1124.54 L1160.23 1123.75 L1160.75 1123 L1161.22 1122.26 L1161.64 1121.51 L1162.02 1120.81 L1162.32 1120.22 L1162.55 1119.8Z" fill="#ff0000" stroke="#000" stroke-width="1.5" stroke-linejoin="round"/>
<g clip-path="url(#vc14r)">
<line x1="1162.75" y1="1119.8" x2="1162.75" y2="1144.6" stroke="#000" stroke-width="1"/>
<line x1="1162.75" y1="1128" x2="1162.75" y2="1139" stroke="#000" stroke-width="1.8"/>
<ellipse cx="1162.75" cy="1133.6" rx="4.4" ry="3.4" fill="#fff"/>
</g>
<clipPath id="vc15b"><path d="M1206.05 733.9 L1206.06 738.91 L1206.08 746.03 L1206.1 754.27 L1206.16 762.59 L1206.25 770 L1206.39 776.39 L1206.56 782.44 L1206.76 788.29 L1206.99 794.1 L1207.25 800 L1207.54 806 L1207.87 812 L1208.21 818 L1208.58 824 L1208.95 830 L1209.34 836.08 L1209.75 842.24 L1210.17 848.36 L1210.58 854.32 L1210.95 860 L1211.3 865.4 L1211.63 870.6 L1211.94 875.6 L1212.22 880.4 L1212.45 885 L1212.64 889.32 L1212.8 893.36 L1212.92 897.24 L1213 901.08 L1213.05 905 L1213.06 909 L1213.04 913 L1212.99 917 L1212.89 921 L1212.75 925 L1212.55 929.08 L1212.29 933.24 L1212 937.36 L1211.71 941.32 L1211.45 945 L1211.22 948.44 L1211 951.72 L1210.8 954.77 L1210.61 957.55 L1210.45 960 L1210.31 962.12 L1210.19 963.94 L1210.09 965.46 L1210.01 966.68 L1209.95 967.6 L1198.95 967.6 L1198.89 966.68 L1198.81 965.46 L1198.71 963.94 L1198.59 962.12 L1198.45 960 L1198.29 957.55 L1198.1 954.77 L1197.9 951.72 L1197.68 948.44 L1197.45 945 L1197.19 941.32 L1196.9 937.36 L1196.61 933.24 L1196.35 929.08 L1196.15 925 L1196.01 921 L1195.91 917 L1195.86 913 L1195.84 909 L1195.85 905 L1195.9 901.08 L1195.98 897.24 L1196.1 893.36 L1196.26 889.32 L1196.45 885 L1196.68 880.4 L1196.96 875.6 L1197.27 870.6 L1197.6 865.4 L1197.95 860 L1198.32 854.32 L1198.73 848.36 L1199.15 842.24 L1199.56 836.08 L1199.95 830 L1200.32 824 L1200.69 818 L1201.03 812 L1201.36 806 L1201.65 800 L1201.91 794.1 L1202.14 788.29 L1202.34 782.44 L1202.51 776.39 L1202.65 770 L1202.74 762.59 L1202.8 754.27 L1202.82 746.03 L1202.84 738.91 L1202.85 733.9Z"/></clipPath>
<path d="M1206.05 733.9 L1206.06 738.91 L1206.08 746.03 L1206.1 754.27 L1206.16 762.59 L1206.25 770 L1206.39 776.39 L1206.56 782.44 L1206.76 788.29 L1206.99 794.1 L1207.25 800 L1207.54 806 L1207.87 812 L1208.21 818 L1208.58 824 L1208.95 830 L1209.34 836.08 L1209.75 842.24 L1210.17 848.36 L1210.58 854.32 L1210.95 860 L1211.3 865.4 L1211.63 870.6 L1211.94 875.6 L1212.22 880.4 L1212.45 885 L1212.64 889.32 L1212.8 893.36 L1212.92 897.24 L1213 901.08 L1213.05 905 L1213.06 909 L1213.04 913 L1212.99 917 L1212.89 921 L1212.75 925 L1212.55 929.08 L1212.29 933.24 L1212 937.36 L1211.71 941.32 L1211.45 945 L1211.22 948.44 L1211 951.72 L1210.8 954.77 L1210.61 957.55 L1210.45 960 L1210.31 962.12 L1210.19 963.94 L1210.09 965.46 L1210.01 966.68 L1209.95 967.6 L1198.95 967.6 L1198.89 966.68 L1198.81 965.46 L1198.71 963.94 L1198.59 962.12 L1198.45 960 L1198.29 957.55 L1198.1 954.77 L1197.9 951.72 L1197.68 948.44 L1197.45 945 L1197.19 941.32 L1196.9 937.36 L1196.61 933.24 L1196.35 929.08 L1196.15 925 L1196.01 921 L1195.91 917 L1195.86 913 L1195.84 909 L1195.85 905 L1195.9 901.08 L1195.98 897.24 L1196.1 893.36 L1196.26 889.32 L1196.45 885 L1196.68 880.4 L1196.96 875.6 L1197.27 870.6 L1197.6 865.4 L1197.95 860 L1198.32 854.32 L1198.73 848.36 L1199.15 842.24 L1199.56 836.08 L1199.95 830 L1200.32 824 L1200.69 818 L1201.03 812 L1201.36 806 L1201.65 800 L1201.91 794.1 L1202.14 788.29 L1202.34 782.44 L1202.51 776.39 L1202.65 770 L1202.74 762.59 L1202.8 754.27 L1202.82 746.03 L1202.84 738.91 L1202.85 733.9Z" fill="#0000ff" stroke="#000" stroke-width="1.5" stroke-linejoin="round"/>
<g clip-path="url(#vc15b)">
<line x1="1204.45" y1="733.9" x2="1204.45" y2="967.6" stroke="#000" stroke-width="1"/>
<line x1="1204.45" y1="855" x2="1204.45" y2="925" stroke="#000" stroke-width="1.8"/>
<ellipse cx="1204.45" cy="896.4" rx="4.4" ry="3.4" fill="#fff"/>
</g>
<clipPath id="vc15r"><path d="M1227.3 788.7 L1227.35 792.22 L1227.42 797.15 L1227.5 802.95 L1227.63 809.08 L1227.8 815 L1228.03 820.76 L1228.3 826.73 L1228.62 832.82 L1228.95 838.94 L1229.3 845 L1229.67 851 L1230.07 857 L1230.49 863 L1230.9 869 L1231.3 875 L1231.69 881.11 L1232.08 887.34 L1232.46 893.5 L1232.81 899.45 L1233.1 905 L1233.34 910.06 L1233.55 914.75 L1233.71 919.21 L1233.83 923.58 L1233.9 928 L1233.91 932.34 L1233.87 936.49 L1233.79 940.67 L1233.66 945.1 L1233.5 950 L1233.29 955.49 L1233.02 961.42 L1232.72 967.62 L1232.41 973.87 L1232.1 980 L1231.79 986 L1231.46 992 L1231.14 998 L1230.81 1004 L1230.5 1010 L1230.2 1016.16 L1229.9 1022.48 L1229.61 1028.72 L1229.34 1034.64 L1229.1 1040 L1228.9 1044.71 L1228.72 1048.93 L1228.57 1052.8 L1228.43 1056.44 L1228.3 1060 L1228.17 1063.65 L1228.05 1067.31 L1227.95 1070.69 L1227.86 1073.55 L1227.8 1075.6 L1222.8 1075.6 L1222.74 1073.55 L1222.65 1070.69 L1222.55 1067.31 L1222.43 1063.65 L1222.3 1060 L1222.17 1056.44 L1222.03 1052.8 L1221.88 1048.93 L1221.7 1044.71 L1221.5 1040 L1221.26 1034.64 L1220.99 1028.72 L1220.7 1022.48 L1220.4 1016.16 L1220.1 1010 L1219.79 1004 L1219.46 998 L1219.14 992 L1218.81 986 L1218.5 980 L1218.19 973.87 L1217.88 967.62 L1217.58 961.42 L1217.31 955.49 L1217.1 950 L1216.94 945.1 L1216.81 940.67 L1216.73 936.49 L1216.69 932.34 L1216.7 928 L1216.77 923.58 L1216.89 919.21 L1217.05 914.75 L1217.26 910.06 L1217.5 905 L1217.79 899.45 L1218.14 893.5 L1218.52 887.34 L1218.91 881.11 L1219.3 875 L1219.7 869 L1220.11 863 L1220.53 857 L1220.93 851 L1221.3 845 L1221.65 838.94 L1221.98 832.82 L1222.3 826.73 L1222.57 820.76 L1222.8 815 L1222.97 809.08 L1223.1 802.95 L1223.18 797.15 L1223.25 792.22 L1223.3 788.7Z"/></clipPath>
<path d="M1227.3 788.7 L1227.35 792.22 L1227.42 797.15 L1227.5 802.95 L1227.63 809.08 L1227.8 815 L1228.03 820.76 L1228.3 826.73 L1228.62 832.82 L1228.95 838.94 L1229.3 845 L1229.67 851 L1230.07 857 L1230.49 863 L1230.9 869 L1231.3 875 L1231.69 881.11 L1232.08 887.34 L1232.46 893.5 L1232.81 899.45 L1233.1 905 L1233.34 910.06 L1233.55 914.75 L1233.71 919.21 L1233.83 923.58 L1233.9 928 L1233.91 932.34 L1233.87 936.49 L1233.79 940.67 L1233.66 945.1 L1233.5 950 L1233.29 955.49 L1233.02 961.42 L1232.72 967.62 L1232.41 973.87 L1232.1 980 L1231.79 986 L1231.46 992 L1231.14 998 L1230.81 1004 L1230.5 1010 L1230.2 1016.16 L1229.9 1022.48 L1229.61 1028.72 L1229.34 1034.64 L1229.1 1040 L1228.9 1044.71 L1228.72 1048.93 L1228.57 1052.8 L1228.43 1056.44 L1228.3 1060 L1228.17 1063.65 L1228.05 1067.31 L1227.95 1070.69 L1227.86 1073.55 L1227.8 1075.6 L1222.8 1075.6 L1222.74 1073.55 L1222.65 1070.69 L1222.55 1067.31 L1222.43 1063.65 L1222.3 1060 L1222.17 1056.44 L1222.03 1052.8 L1221.88 1048.93 L1221.7 1044.71 L1221.5 1040 L1221.26 1034.64 L1220.99 1028.72 L1220.7 1022.48 L1220.4 1016.16 L1220.1 1010 L1219.79 1004 L1219.46 998 L1219.14 992 L1218.81 986 L1218.5 980 L1218.19 973.87 L1217.88 967.62 L1217.58 961.42 L1217.31 955.49 L1217.1 950 L1216.94 945.1 L1216.81 940.67 L1216.73 936.49 L1216.69 932.34 L1216.7 928 L1216.77 923.58 L1216.89 919.21 L1217.05 914.75 L1217.26 910.06 L1217.5 905 L1217.79 899.45 L1218.14 893.5 L1218.52 887.34 L1218.91 881.11 L1219.3 875 L1219.7 869 L1220.11 863 L1220.53 857 L1220.93 851 L1221.3 845 L1221.65 838.94 L1221.98 832.82 L1222.3 826.73 L1222.57 820.76 L1222.8 815 L1222.97 809.08 L1223.1 802.95 L1223.18 797.15 L1223.25 792.22 L1223.3 788.7Z" fill="#ff0000" stroke="#000" stroke-width="1.5" stroke-linejoin="round"/>
<g clip-path="url(#vc15r)">
<line x1="1225.3" y1="788.7" x2="1225.3" y2="1075.6" stroke="#000" stroke-width="1"/>
<line x1="1225.3" y1="898" x2="1225.3" y2="995" stroke="#000" stroke-width="1.8"/>
<ellipse cx="1225.3" cy="937.6" rx="4.4" ry="3.4" fill="#fff"/>
</g>
<clipPath id="vc18b"><path d="M1395.1 1053 L1395.13 1054.62 L1395.16 1056.89 L1395.22 1059.55 L1395.29 1062.34 L1395.4 1065 L1395.55 1067.55 L1395.73 1070.18 L1395.93 1072.82 L1396.16 1075.45 L1396.4 1078 L1396.66 1080.46 L1396.94 1082.87 L1397.24 1085.25 L1397.56 1087.62 L1397.9 1090 L1398.29 1092.43 L1398.72 1094.9 L1399.16 1097.34 L1399.57 1099.73 L1399.9 1102 L1400.15 1104.13 L1400.35 1106.14 L1400.51 1108.1 L1400.62 1110.03 L1400.7 1112 L1400.74 1114 L1400.73 1116 L1400.68 1118 L1400.6 1120 L1400.5 1122 L1400.37 1124.03 L1400.2 1126.1 L1400 1128.14 L1399.8 1130.13 L1399.6 1132 L1399.4 1133.78 L1399.18 1135.5 L1398.97 1137.13 L1398.77 1138.64 L1398.6 1140 L1398.46 1141.24 L1398.34 1142.38 L1398.24 1143.38 L1398.16 1144.2 L1398.1 1144.8 L1386.1 1144.8 L1386.04 1144.2 L1385.96 1143.38 L1385.86 1142.38 L1385.74 1141.24 L1385.6 1140 L1385.43 1138.64 L1385.23 1137.13 L1385.02 1135.5 L1384.8 1133.78 L1384.6 1132 L1384.4 1130.13 L1384.2 1128.14 L1384 1126.1 L1383.83 1124.03 L1383.7 1122 L1383.6 1120 L1383.52 1118 L1383.47 1116 L1383.46 1114 L1383.5 1112 L1383.58 1110.03 L1383.69 1108.1 L1383.85 1106.14 L1384.05 1104.13 L1384.3 1102 L1384.63 1099.73 L1385.04 1097.34 L1385.48 1094.9 L1385.91 1092.43 L1386.3 1090 L1386.64 1087.62 L1386.96 1085.25 L1387.26 1082.87 L1387.54 1080.46 L1387.8 1078 L1388.04 1075.45 L1388.27 1072.82 L1388.47 1070.18 L1388.65 1067.55 L1388.8 1065 L1388.91 1062.34 L1388.98 1059.55 L1389.04 1056.89 L1389.07 1054.62 L1389.1 1053Z"/></clipPath>
<path d="M1395.1 1053 L1395.13 1054.62 L1395.16 1056.89 L1395.22 1059.55 L1395.29 1062.34 L1395.4 1065 L1395.55 1067.55 L1395.73 1070.18 L1395.93 1072.82 L1396.16 1075.45 L1396.4 1078 L1396.66 1080.46 L1396.94 1082.87 L1397.24 1085.25 L1397.56 1087.62 L1397.9 1090 L1398.29 1092.43 L1398.72 1094.9 L1399.16 1097.34 L1399.57 1099.73 L1399.9 1102 L1400.15 1104.13 L1400.35 1106.14 L1400.51 1108.1 L1400.62 1110.03 L1400.7 1112 L1400.74 1114 L1400.73 1116 L1400.68 1118 L1400.6 1120 L1400.5 1122 L1400.37 1124.03 L1400.2 1126.1 L1400 1128.14 L1399.8 1130.13 L1399.6 1132 L1399.4 1133.78 L1399.18 1135.5 L1398.97 1137.13 L1398.77 1138.64 L1398.6 1140 L1398.46 1141.24 L1398.34 1142.38 L1398.24 1143.38 L1398.16 1144.2 L1398.1 1144.8 L1386.1 1144.8 L1386.04 1144.2 L1385.96 1143.38 L1385.86 1142.38 L1385.74 1141.24 L1385.6 1140 L1385.43 1138.64 L1385.23 1137.13 L1385.02 1135.5 L1384.8 1133.78 L1384.6 1132 L1384.4 1130.13 L1384.2 1128.14 L1384 1126.1 L1383.83 1124.03 L1383.7 1122 L1383.6 1120 L1383.52 1118 L1383.47 1116 L1383.46 1114 L1383.5 1112 L1383.58 1110.03 L1383.69 1108.1 L1383.85 1106.14 L1384.05 1104.13 L1384.3 1102 L1384.63 1099.73 L1385.04 1097.34 L1385.48 1094.9 L1385.91 1092.43 L1386.3 1090 L1386.64 1087.62 L1386.96 1085.25 L1387.26 1082.87 L1387.54 1080.46 L1387.8 1078 L1388.04 1075.45 L1388.27 1072.82 L1388.47 1070.18 L1388.65 1067.55 L1388.8 1065 L1388.91 1062.34 L1388.98 1059.55 L1389.04 1056.89 L1389.07 1054.62 L1389.1 1053Z" fill="#0000ff" stroke="#000" stroke-width="1.5" stroke-linejoin="round"/>
<g clip-path="url(#vc18b)">
<line x1="1392.1" y1="1053" x2="1392.1" y2="1144.8" stroke="#000" stroke-width="1"/>
<line x1="1392.1" y1="1090" x2="1392.1" y2="1130" stroke="#000" stroke-width="1.8"/>
<ellipse cx="1392.1" cy="1112.3" rx="4.4" ry="3.4" fill="#fff"/>
</g>
<clipPath id="vc18r"><path d="M1414.95 1088 L1414.99 1088.65 L1415.04 1089.54 L1415.12 1090.62 L1415.25 1091.79 L1415.45 1093 L1415.75 1094.26 L1416.12 1095.61 L1416.54 1097.03 L1416.99 1098.5 L1417.45 1100 L1417.93 1101.54 L1418.46 1103.13 L1418.99 1104.75 L1419.5 1106.38 L1419.95 1108 L1420.36 1109.62 L1420.75 1111.25 L1421.09 1112.87 L1421.37 1114.46 L1421.55 1116 L1421.63 1117.46 L1421.61 1118.87 L1421.53 1120.25 L1421.4 1121.62 L1421.25 1123 L1421.07 1124.42 L1420.84 1125.85 L1420.57 1127.27 L1420.27 1128.66 L1419.95 1130 L1419.59 1131.27 L1419.2 1132.48 L1418.78 1133.66 L1418.36 1134.82 L1417.95 1136 L1417.52 1137.28 L1417.05 1138.65 L1416.61 1139.97 L1416.22 1141.1 L1415.95 1141.9 L1409.95 1141.9 L1409.68 1141.1 L1409.29 1139.97 L1408.85 1138.65 L1408.38 1137.28 L1407.95 1136 L1407.54 1134.82 L1407.12 1133.66 L1406.7 1132.48 L1406.31 1131.27 L1405.95 1130 L1405.63 1128.66 L1405.33 1127.27 L1405.06 1125.85 L1404.83 1124.42 L1404.65 1123 L1404.5 1121.62 L1404.37 1120.25 L1404.29 1118.87 L1404.27 1117.46 L1404.35 1116 L1404.53 1114.46 L1404.81 1112.87 L1405.15 1111.25 L1405.54 1109.62 L1405.95 1108 L1406.4 1106.38 L1406.91 1104.75 L1407.44 1103.13 L1407.97 1101.54 L1408.45 1100 L1408.91 1098.5 L1409.36 1097.03 L1409.78 1095.61 L1410.15 1094.26 L1410.45 1093 L1410.65 1091.79 L1410.78 1090.62 L1410.86 1089.54 L1410.91 1088.65 L1410.95 1088Z"/></clipPath>
<path d="M1414.95 1088 L1414.99 1088.65 L1415.04 1089.54 L1415.12 1090.62 L1415.25 1091.79 L1415.45 1093 L1415.75 1094.26 L1416.12 1095.61 L1416.54 1097.03 L1416.99 1098.5 L1417.45 1100 L1417.93 1101.54 L1418.46 1103.13 L1418.99 1104.75 L1419.5 1106.38 L1419.95 1108 L1420.36 1109.62 L1420.75 1111.25 L1421.09 1112.87 L1421.37 1114.46 L1421.55 1116 L1421.63 1117.46 L1421.61 1118.87 L1421.53 1120.25 L1421.4 1121.62 L1421.25 1123 L1421.07 1124.42 L1420.84 1125.85 L1420.57 1127.27 L1420.27 1128.66 L1419.95 1130 L1419.59 1131.27 L1419.2 1132.48 L1418.78 1133.66 L1418.36 1134.82 L1417.95 1136 L1417.52 1137.28 L1417.05 1138.65 L1416.61 1139.97 L1416.22 1141.1 L1415.95 1141.9 L1409.95 1141.9 L1409.68 1141.1 L1409.29 1139.97 L1408.85 1138.65 L1408.38 1137.28 L1407.95 1136 L1407.54 1134.82 L1407.12 1133.66 L1406.7 1132.48 L1406.31 1131.27 L1405.95 1130 L1405.63 1128.66 L1405.33 1127.27 L1405.06 1125.85 L1404.83 1124.42 L1404.65 1123 L1404.5 1121.62 L1404.37 1120.25 L1404.29 1118.87 L1404.27 1117.46 L1404.35 1116 L1404.53 1114.46 L1404.81 1112.87 L1405.15 1111.25 L1405.54 1109.62 L1405.95 1108 L1406.4 1106.38 L1406.91 1104.75 L1407.44 1103.13 L1407.97 1101.54 L1408.45 1100 L1408.91 1098.5 L1409.36 1097.03 L1409.78 1095.61 L1410.15 1094.26 L1410.45 1093 L1410.65 1091.79 L1410.78 1090.62 L1410.86 1089.54 L1410.91 1088.65 L1410.95 1088Z" fill="#ff0000" stroke="#000" stroke-width="1.5" stroke-linejoin="round"/>
<g clip-path="url(#vc18r)">
<line x1="1412.95" y1="1088" x2="1412.95" y2="1141.9" stroke="#000" stroke-width="1"/>
<line x1="1412.95" y1="1108" x2="1412.95" y2="1128" stroke="#000" stroke-width="1.8"/>
<ellipse cx="1412.95" cy="1117.8" rx="4.4" ry="3.4" fill="#fff"/>
</g>
<clipPath id="vc19b"><path d="M1454.85 1136.7 L1454.81 1137.62 L1454.8 1138.95 L1454.8 1140.45 L1454.8 1141.88 L1454.85 1143 L1455.23 1143.74 L1455.76 1144.27 L1456.38 1144.68 L1457.03 1145.06 L1457.65 1145.5 L1458.24 1146.01 L1458.85 1146.52 L1459.47 1147.04 L1460.07 1147.53 L1460.65 1148 L1461.24 1148.46 L1461.84 1148.93 L1462.42 1149.37 L1462.9 1149.74 L1463.25 1150 L1446.05 1150 L1446.4 1149.74 L1446.88 1149.37 L1447.46 1148.93 L1448.06 1148.46 L1448.65 1148 L1449.23 1147.53 L1449.83 1147.04 L1450.45 1146.52 L1451.06 1146.01 L1451.65 1145.5 L1452.27 1145.06 L1452.92 1144.68 L1453.54 1144.27 L1454.07 1143.74 L1454.45 1143 L1454.5 1141.88 L1454.5 1140.45 L1454.5 1138.95 L1454.49 1137.62 L1454.45 1136.7Z"/></clipPath>
<path d="M1454.85 1136.7 L1454.81 1137.62 L1454.8 1138.95 L1454.8 1140.45 L1454.8 1141.88 L1454.85 1143 L1455.23 1143.74 L1455.76 1144.27 L1456.38 1144.68 L1457.03 1145.06 L1457.65 1145.5 L1458.24 1146.01 L1458.85 1146.52 L1459.47 1147.04 L1460.07 1147.53 L1460.65 1148 L1461.24 1148.46 L1461.84 1148.93 L1462.42 1149.37 L1462.9 1149.74 L1463.25 1150 L1446.05 1150 L1446.4 1149.74 L1446.88 1149.37 L1447.46 1148.93 L1448.06 1148.46 L1448.65 1148 L1449.23 1147.53 L1449.83 1147.04 L1450.45 1146.52 L1451.06 1146.01 L1451.65 1145.5 L1452.27 1145.06 L1452.92 1144.68 L1453.54 1144.27 L1454.07 1143.74 L1454.45 1143 L1454.5 1141.88 L1454.5 1140.45 L1454.5 1138.95 L1454.49 1137.62 L1454.45 1136.7Z" fill="#0000ff" stroke="#000" stroke-width="1.5" stroke-linejoin="round"/>
<g clip-path="url(#vc19b)">
<line x1="1454.65" y1="1136.7" x2="1454.65" y2="1150" stroke="#000" stroke-width="1"/>
<ellipse cx="1454.65" cy="1149.9" rx="4.3" ry="3.7" fill="#fff"/>
</g>
<clipPath id="vc21b"><path d="M1579.95 1079.1 L1579.92 1083.64 L1579.9 1090.24 L1579.9 1097.66 L1579.9 1104.66 L1579.95 1110 L1580.19 1113.37 L1580.53 1115.6 L1580.93 1117.15 L1581.35 1118.46 L1581.75 1120 L1582.13 1121.73 L1582.52 1123.34 L1582.92 1124.9 L1583.33 1126.43 L1583.75 1128 L1584.2 1129.62 L1584.67 1131.25 L1585.14 1132.87 L1585.61 1134.46 L1586.05 1136 L1586.48 1137.51 L1586.91 1139.02 L1587.32 1140.46 L1587.67 1141.81 L1587.95 1143 L1588.14 1144.01 L1588.25 1144.86 L1588.31 1145.62 L1588.33 1146.31 L1588.35 1147 L1588.35 1147.71 L1588.3 1148.42 L1588.24 1149.06 L1588.19 1149.61 L1588.15 1150 L1571.35 1150 L1571.31 1149.61 L1571.26 1149.06 L1571.2 1148.42 L1571.15 1147.71 L1571.15 1147 L1571.17 1146.31 L1571.19 1145.62 L1571.25 1144.86 L1571.36 1144.01 L1571.55 1143 L1571.83 1141.81 L1572.18 1140.46 L1572.59 1139.02 L1573.02 1137.51 L1573.45 1136 L1573.89 1134.46 L1574.36 1132.87 L1574.83 1131.25 L1575.3 1129.62 L1575.75 1128 L1576.17 1126.43 L1576.58 1124.9 L1576.98 1123.34 L1577.37 1121.73 L1577.75 1120 L1578.15 1118.46 L1578.57 1117.15 L1578.97 1115.6 L1579.31 1113.37 L1579.55 1110 L1579.6 1104.66 L1579.6 1097.66 L1579.6 1090.24 L1579.58 1083.64 L1579.55 1079.1Z"/></clipPath>
<path d="M1579.95 1079.1 L1579.92 1083.64 L1579.9 1090.24 L1579.9 1097.66 L1579.9 1104.66 L1579.95 1110 L1580.19 1113.37 L1580.53 1115.6 L1580.93 1117.15 L1581.35 1118.46 L1581.75 1120 L1582.13 1121.73 L1582.52 1123.34 L1582.92 1124.9 L1583.33 1126.43 L1583.75 1128 L1584.2 1129.62 L1584.67 1131.25 L1585.14 1132.87 L1585.61 1134.46 L1586.05 1136 L1586.48 1137.51 L1586.91 1139.02 L1587.32 1140.46 L1587.67 1141.81 L1587.95 1143 L1588.14 1144.01 L1588.25 1144.86 L1588.31 1145.62 L1588.33 1146.31 L1588.35 1147 L1588.35 1147.71 L1588.3 1148.42 L1588.24 1149.06 L1588.19 1149.61 L1588.15 1150 L1571.35 1150 L1571.31 1149.61 L1571.26 1149.06 L1571.2 1148.42 L1571.15 1147.71 L1571.15 1147 L1571.17 1146.31 L1571.19 1145.62 L1571.25 1144.86 L1571.36 1144.01 L1571.55 1143 L1571.83 1141.81 L1572.18 1140.46 L1572.59 1139.02 L1573.02 1137.51 L1573.45 1136 L1573.89 1134.46 L1574.36 1132.87 L1574.83 1131.25 L1575.3 1129.62 L1575.75 1128 L1576.17 1126.43 L1576.58 1124.9 L1576.98 1123.34 L1577.37 1121.73 L1577.75 1120 L1578.15 1118.46 L1578.57 1117.15 L1578.97 1115.6 L1579.31 1113.37 L1579.55 1110 L1579.6 1104.66 L1579.6 1097.66 L1579.6 1090.24 L1579.58 1083.64 L1579.55 1079.1Z" fill="#0000ff" stroke="#000" stroke-width="1.5" stroke-linejoin="round"/>
<g clip-path="url(#vc21b)">
<line x1="1579.75" y1="1079.1" x2="1579.75" y2="1150" stroke="#000" stroke-width="1"/>
<line x1="1579.75" y1="1134" x2="1579.75" y2="1146" stroke="#000" stroke-width="1.8"/>
<ellipse cx="1579.75" cy="1148.8" rx="4.7" ry="4.6" fill="#fff"/>
</g>
<clipPath id="vc21r"><path d="M1600.8 1133.3 L1600.76 1134.25 L1600.75 1135.63 L1600.75 1137.19 L1600.75 1138.73 L1600.8 1140 L1601.18 1140.99 L1601.71 1141.84 L1602.33 1142.6 L1602.98 1143.31 L1603.6 1144 L1604.19 1144.66 L1604.8 1145.27 L1605.42 1145.85 L1606.02 1146.42 L1606.6 1147 L1607.19 1147.65 L1607.79 1148.34 L1608.37 1149.02 L1608.85 1149.59 L1609.2 1150 L1592 1150 L1592.35 1149.59 L1592.83 1149.02 L1593.41 1148.34 L1594.01 1147.65 L1594.6 1147 L1595.18 1146.42 L1595.78 1145.85 L1596.4 1145.27 L1597.01 1144.66 L1597.6 1144 L1598.22 1143.31 L1598.87 1142.6 L1599.49 1141.84 L1600.02 1140.99 L1600.4 1140 L1600.45 1138.73 L1600.45 1137.19 L1600.45 1135.63 L1600.44 1134.25 L1600.4 1133.3Z"/></clipPath>
<path d="M1600.8 1133.3 L1600.76 1134.25 L1600.75 1135.63 L1600.75 1137.19 L1600.75 1138.73 L1600.8 1140 L1601.18 1140.99 L1601.71 1141.84 L1602.33 1142.6 L1602.98 1143.31 L1603.6 1144 L1604.19 1144.66 L1604.8 1145.27 L1605.42 1145.85 L1606.02 1146.42 L1606.6 1147 L1607.19 1147.65 L1607.79 1148.34 L1608.37 1149.02 L1608.85 1149.59 L1609.2 1150 L1592 1150 L1592.35 1149.59 L1592.83 1149.02 L1593.41 1148.34 L1594.01 1147.65 L1594.6 1147 L1595.18 1146.42 L1595.78 1145.85 L1596.4 1145.27 L1597.01 1144.66 L1597.6 1144 L1598.22 1143.31 L1598.87 1142.6 L1599.49 1141.84 L1600.02 1140.99 L1600.4 1140 L1600.45 1138.73 L1600.45 1137.19 L1600.45 1135.63 L1600.44 1134.25 L1600.4 1133.3Z" fill="#ff0000" stroke="#000" stroke-width="1.5" stroke-linejoin="round"/>
<g clip-path="url(#vc21r)">
<line x1="1600.6" y1="1133.3" x2="1600.6" y2="1150" stroke="#000" stroke-width="1"/>
<ellipse cx="1600.6" cy="1149.9" rx="4.3" ry="3.7" fill="#fff"/>
</g>
<line x1="507.6" y1="1149.8" x2="511.8" y2="1149.8" stroke="#000" stroke-width="1.6"/>
<line x1="521" y1="1149.8" x2="525.2" y2="1149.8" stroke="#000" stroke-width="1.6"/>
<line x1="528.45" y1="1149.8" x2="532.65" y2="1149.8" stroke="#000" stroke-width="1.6"/>
<line x1="541.85" y1="1149.8" x2="546.05" y2="1149.8" stroke="#000" stroke-width="1.6"/>
<line x1="599.8" y1="1141.5" x2="599.8" y2="1145.6" stroke="#000" stroke-width="1.6"/>
<path d="M591.2 1149.8 L595.3 1148.2 M604.3 1148.2 L608.4 1149.8" stroke="#000" stroke-width="1.6" fill="none"/>
<line x1="975.1" y1="1141.5" x2="975.1" y2="1145.6" stroke="#000" stroke-width="1.6"/>
<path d="M966.5 1149.8 L970.6 1148.2 M979.6 1148.2 L983.7 1149.8" stroke="#000" stroke-width="1.6" fill="none"/>
<line x1="1258.2" y1="1149.8" x2="1262.4" y2="1149.8" stroke="#000" stroke-width="1.6"/>
<line x1="1271.6" y1="1149.8" x2="1275.8" y2="1149.8" stroke="#000" stroke-width="1.6"/>
<line x1="1279.05" y1="1149.8" x2="1283.25" y2="1149.8" stroke="#000" stroke-width="1.6"/>
<line x1="1292.45" y1="1149.8" x2="1296.65" y2="1149.8" stroke="#000" stroke-width="1.6"/>
<path d="M1320.75 1150.1 L1324.95 1148.9 M1334.15 1149.8 L1338.35 1149.8" stroke="#000" stroke-width="1.6" fill="none"/>
<circle cx="1329.55" cy="1145" r="0.9" fill="#000"/>
<line x1="1466.7" y1="1149.8" x2="1470.9" y2="1149.8" stroke="#000" stroke-width="1.6"/>
<line x1="1480.1" y1="1149.8" x2="1484.3" y2="1149.8" stroke="#000" stroke-width="1.6"/>
<text x="270.25" y="1109.9" font-size="11" text-anchor="middle">p=0.21</text>
<text x="331.9" y="1114.3" font-size="11" text-anchor="middle">p=0.967</text>
<text x="394.65" y="1127.2" font-size="11" text-anchor="middle">p=0.177</text>
<text x="457.05" y="1074.8" font-size="11" text-anchor="middle">p=0.773</text>
<text x="519.55" y="1135.6" font-size="11" text-anchor="middle">p=0.685</text>
<text x="583.25" y="1085.4" font-size="11" text-anchor="middle">p=0.03</text>
<text x="645.05" y="1115.4" font-size="11" text-anchor="middle">p=0.585</text>
<text x="707.4" y="1124.7" font-size="11" text-anchor="middle">p=0.638</text>
<text x="769.95" y="1088.7" font-size="11" text-anchor="middle">p=0.438</text>
<text x="832.4" y="1061.5" font-size="11" text-anchor="middle">p=0.108</text>
<text x="895.05" y="1126.8" font-size="11" text-anchor="middle">p=0.389</text>
<text x="957.4" y="1098.4" font-size="11" text-anchor="middle">p=0.074</text>
<text x="1019.95" y="1018" font-size="11" text-anchor="middle">p=0.466</text>
<text x="1082.1" y="725.8" font-size="11" text-anchor="middle">p=0.001</text>
<text x="1144.75" y="1086.5" font-size="11" text-anchor="middle">p=0.076</text>
<text x="1207.85" y="724.1" font-size="11" text-anchor="middle">p=0.019</text>
<text x="1270.1" y="1136.7" font-size="11" text-anchor="middle">p=0.769</text>
<text x="1332.3" y="1135.2" font-size="11" text-anchor="middle">p=0.181</text>
<text x="1395.2" y="1043" font-size="11" text-anchor="middle">p=0.438</text>
<text x="1457.2" y="1126.4" font-size="11" text-anchor="middle">p=0.471</text>
<text transform="translate(1592.65,1069.5) scale(1.25,1)" font-size="11.4" text-anchor="middle">p=0.101</text>
<line x1="270.3" y1="1120.2" x2="283.3" y2="1120.2" stroke="#000" stroke-width="1.2"/>
<line x1="332.3" y1="1124.5" x2="345.9" y2="1124.5" stroke="#000" stroke-width="1.2"/>
<line x1="395" y1="1136.8" x2="408.3" y2="1136.8" stroke="#000" stroke-width="1.2"/>
<line x1="457.8" y1="1085.1" x2="471" y2="1085.1" stroke="#000" stroke-width="1.2"/>
<line x1="520.4" y1="1145.6" x2="533.6" y2="1145.6" stroke="#000" stroke-width="1.2"/>
<line x1="582.7" y1="1095.4" x2="596" y2="1095.4" stroke="#000" stroke-width="1.2"/>
<line x1="645" y1="1125.3" x2="658.3" y2="1125.3" stroke="#000" stroke-width="1.2"/>
<line x1="708.2" y1="1135" x2="721" y2="1135" stroke="#000" stroke-width="1.2"/>
<line x1="770.3" y1="1098.4" x2="783.6" y2="1098.4" stroke="#000" stroke-width="1.2"/>
<line x1="832.7" y1="1071.9" x2="846" y2="1071.9" stroke="#000" stroke-width="1.2"/>
<line x1="895" y1="1137.4" x2="908.3" y2="1137.4" stroke="#000" stroke-width="1.2"/>
<line x1="958.2" y1="1108.8" x2="971" y2="1108.8" stroke="#000" stroke-width="1.2"/>
<line x1="1021.2" y1="1028.5" x2="1034" y2="1028.5" stroke="#000" stroke-width="1.2"/>
<line x1="1082.6" y1="735" x2="1097" y2="735" stroke="#000" stroke-width="2.2"/>
<line x1="1146.3" y1="1096.8" x2="1158.8" y2="1096.8" stroke="#000" stroke-width="1.2"/>
<line x1="1208" y1="733.9" x2="1221.8" y2="733.9" stroke="#000" stroke-width="2.2"/>
<line x1="1270.3" y1="1146.3" x2="1283.6" y2="1146.3" stroke="#000" stroke-width="1.2"/>
<line x1="1333.3" y1="1145.1" x2="1346.6" y2="1145.1" stroke="#000" stroke-width="1.2"/>
<line x1="1395.8" y1="1053" x2="1409" y2="1053" stroke="#000" stroke-width="1.2"/>
<line x1="1458.3" y1="1157.4" x2="1471.6" y2="1157.4" stroke="#000" stroke-width="1.2"/>
<line x1="1521" y1="1150" x2="1534" y2="1150" stroke="#000" stroke-width="1.2"/>
<line x1="1586.3" y1="1079.6" x2="1600.8" y2="1079.6" stroke="#000" stroke-width="2.2"/>
<text transform="translate(272.4,1189.5) scale(1.15,0.91) rotate(-45)" font-size="14.2" text-anchor="end">B cells naive</text>
<text transform="translate(330.6,1189.5) scale(1.15,0.91) rotate(-45)" font-size="14.2" text-anchor="end">B cells memory</text>
<text transform="translate(392.2,1189.5) scale(1.15,0.91) rotate(-45)" font-size="14.2" text-anchor="end">Plasma cells</text>
<text transform="translate(456.1,1189.5) scale(1.15,0.91) rotate(-45)" font-size="14.2" text-anchor="end">T cells CD8</text>
<text transform="translate(521.4,1189.5) scale(1.15,0.91) rotate(-45)" font-size="14.2" text-anchor="end">T cells CD4 naive</text>
<text transform="translate(590.4,1189.5) scale(1.24,0.91) rotate(-45)" font-size="14.2" text-anchor="end">T cells CD4 memory resting</text>
<text transform="translate(654.8,1189.5) scale(1.24,0.91) rotate(-45)" font-size="14.2" text-anchor="end">T cells CD4 memory activated</text>
<text transform="translate(715.4,1189.5) scale(1.15,0.91) rotate(-45)" font-size="14.2" text-anchor="end">T cells follicular helper</text>
<text transform="translate(777.3,1189.5) scale(1.15,0.91) rotate(-45)" font-size="14.2" text-anchor="end">T cells regulatory (Tregs)</text>
<text transform="translate(842.6,1189.5) scale(1.15,0.91) rotate(-45)" font-size="14.2" text-anchor="end">T cells gamma delta</text>
<text transform="translate(902.8,1189.5) scale(1.15,0.91) rotate(-45)" font-size="14.2" text-anchor="end">NK cells resting</text>
<text transform="translate(966.2,1189.5) scale(1.15,0.91) rotate(-45)" font-size="14.2" text-anchor="end">NK cells activated</text>
<text transform="translate(1024.1,1189.5) scale(1.15,0.91) rotate(-45)" font-size="14.2" text-anchor="end">Monocytes</text>
<text transform="translate(1090.2,1189.5) scale(1.15,0.91) rotate(-45)" font-size="14.2" text-anchor="end">Macrophages M0</text>
<text transform="translate(1155.5,1189.5) scale(1.15,0.91) rotate(-45)" font-size="14.2" text-anchor="end">Macrophages M1</text>
<text transform="translate(1210.2,1189.5) scale(1.15,0.91) rotate(-45)" font-size="14.2" text-anchor="end">Macrophages M2</text>
<text transform="translate(1274.4,1189.5) scale(1.15,0.91) rotate(-45)" font-size="14.2" text-anchor="end">Dendritic cells resting</text>
<text transform="translate(1328,1189.5) scale(1.15,0.91) rotate(-45)" font-size="14.2" text-anchor="end">Dendritic cells activated</text>
<text transform="translate(1397,1189.5) scale(1.15,0.91) rotate(-45)" font-size="14.2" text-anchor="end">Mast cells resting</text>
<text transform="translate(1453,1189.5) scale(1.15,0.91) rotate(-45)" font-size="14.2" text-anchor="end">Mast cells activated</text>
<text transform="translate(1523.4,1189.5) scale(1.15,0.91) rotate(-45)" font-size="14.2" text-anchor="end">Eosinophils</text>
<text transform="translate(1584.4,1189.5) scale(1.15,0.91) rotate(-45)" font-size="14.2" text-anchor="end">Neutrophils</text>
<rect x="1523.8" y="728" width="17.8" height="16.6" fill="#ff0000" stroke="#000" stroke-width="0.8"/>
<rect x="1523.8" y="751.6" width="17.8" height="16.6" fill="#0000ff" stroke="#000" stroke-width="0.8"/>
<text transform="translate(1549.4,739.4) scale(0.93,1)" font-size="15.3">IPH</text>
<text transform="translate(1549.4,762.5) scale(0.93,1)" font-size="15.3">non-IPH</text>
</g>
<g id="panelC">
<text x="13.4" y="1313.4" font-size="28.5" font-weight="bold">C</text>
<g shape-rendering="crispEdges">
<rect x="507.4" y="1348.2" width="37.72" height="30.1" fill="#ff0000"/>
<rect x="544.62" y="1348.2" width="37.72" height="30.1" fill="#ffa3a3"/>
<rect x="581.84" y="1348.2" width="37.72" height="30.1" fill="#ffabab"/>
<rect x="619.06" y="1348.2" width="37.72" height="30.1" fill="#ffd4d4"/>
<rect x="656.28" y="1348.2" width="37.72" height="30.1" fill="#f7f7ff"/>
<rect x="693.5" y="1348.2" width="37.72" height="30.1" fill="#d1d1ff"/>
<rect x="730.72" y="1348.2" width="37.72" height="30.1" fill="#fff2f2"/>
<rect x="767.94" y="1348.2" width="37.72" height="30.1" fill="#bfbfff"/>
<rect x="805.16" y="1348.2" width="37.72" height="30.1" fill="#babaff"/>
<rect x="842.38" y="1348.2" width="37.72" height="30.1" fill="#e8e8ff"/>
<rect x="879.6" y="1348.2" width="37.72" height="30.1" fill="#d9d9ff"/>
<rect x="916.82" y="1348.2" width="37.72" height="30.1" fill="#c2c2ff"/>
<rect x="954.04" y="1348.2" width="37.72" height="30.1" fill="#d9d9ff"/>
<rect x="991.26" y="1348.2" width="37.72" height="30.1" fill="#ffa8a8"/>
<rect x="1028.48" y="1348.2" width="37.72" height="30.1" fill="#c7c7ff"/>
<rect x="1065.7" y="1348.2" width="37.72" height="30.1" fill="#d1d1ff"/>
<rect x="1102.92" y="1348.2" width="37.72" height="30.1" fill="#f5f5ff"/>
<rect x="1140.14" y="1348.2" width="37.72" height="30.1" fill="#f5f5ff"/>
<rect x="1177.36" y="1348.2" width="37.72" height="30.1" fill="#a3a3ff"/>
<rect x="1214.58" y="1348.2" width="37.72" height="30.1" fill="#e3e3ff"/>
<rect x="1251.8" y="1348.2" width="37.72" height="30.1" fill="#f2f2ff"/>
<rect x="1289.02" y="1348.2" width="40.98" height="30.1" fill="#d9d9ff"/>
<rect x="507.4" y="1377.8" width="37.72" height="30.1" fill="#ffa3a3"/>
<rect x="544.62" y="1377.8" width="37.72" height="30.1" fill="#ff0000"/>
<rect x="581.84" y="1377.8" width="37.72" height="30.1" fill="#e6e6ff"/>
<rect x="619.06" y="1377.8" width="37.72" height="30.1" fill="#ffe3e3"/>
<rect x="656.28" y="1377.8" width="37.72" height="30.1" fill="#f0f0ff"/>
<rect x="693.5" y="1377.8" width="37.72" height="30.1" fill="#ffdede"/>
<rect x="730.72" y="1377.8" width="37.72" height="30.1" fill="#ffb2b2"/>
<rect x="767.94" y="1377.8" width="37.72" height="30.1" fill="#c2c2ff"/>
<rect x="805.16" y="1377.8" width="37.72" height="30.1" fill="#dedeff"/>
<rect x="842.38" y="1377.8" width="37.72" height="30.1" fill="#dedeff"/>
<rect x="879.6" y="1377.8" width="37.72" height="30.1" fill="#dedeff"/>
<rect x="916.82" y="1377.8" width="37.72" height="30.1" fill="#cfcfff"/>
<rect x="954.04" y="1377.8" width="37.72" height="30.1" fill="#ffc2c2"/>
<rect x="991.26" y="1377.8" width="37.72" height="30.1" fill="#ffc7c7"/>
<rect x="1028.48" y="1377.8" width="37.72" height="30.1" fill="#ffffff"/>
<rect x="1065.7" y="1377.8" width="37.72" height="30.1" fill="#fcfcff"/>
<rect x="1102.92" y="1377.8" width="37.72" height="30.1" fill="#d6d6ff"/>
<rect x="1140.14" y="1377.8" width="37.72" height="30.1" fill="#babaff"/>
<rect x="1177.36" y="1377.8" width="37.72" height="30.1" fill="#adadff"/>
<rect x="1214.58" y="1377.8" width="37.72" height="30.1" fill="#dbdbff"/>
<rect x="1251.8" y="1377.8" width="37.72" height="30.1" fill="#b5b5ff"/>
<rect x="1289.02" y="1377.8" width="40.98" height="30.1" fill="#dbdbff"/>
<rect x="507.4" y="1407.4" width="37.72" height="30.1" fill="#ffabab"/>
<rect x="544.62" y="1407.4" width="37.72" height="30.1" fill="#e6e6ff"/>
<rect x="581.84" y="1407.4" width="37.72" height="30.1" fill="#ff0000"/>
<rect x="619.06" y="1407.4" width="37.72" height="30.1" fill="#ffd1d1"/>
<rect x="656.28" y="1407.4" width="37.72" height="30.1" fill="#fffafa"/>
<rect x="693.5" y="1407.4" width="37.72" height="30.1" fill="#d6d6ff"/>
<rect x="730.72" y="1407.4" width="37.72" height="30.1" fill="#ededff"/>
<rect x="767.94" y="1407.4" width="37.72" height="30.1" fill="#ebebff"/>
<rect x="805.16" y="1407.4" width="37.72" height="30.1" fill="#8c8cff"/>
<rect x="842.38" y="1407.4" width="37.72" height="30.1" fill="#c4c4ff"/>
<rect x="879.6" y="1407.4" width="37.72" height="30.1" fill="#e0e0ff"/>
<rect x="916.82" y="1407.4" width="37.72" height="30.1" fill="#d9d9ff"/>
<rect x="954.04" y="1407.4" width="37.72" height="30.1" fill="#ffebeb"/>
<rect x="991.26" y="1407.4" width="37.72" height="30.1" fill="#ffc7c7"/>
<rect x="1028.48" y="1407.4" width="37.72" height="30.1" fill="#e3e3ff"/>
<rect x="1065.7" y="1407.4" width="37.72" height="30.1" fill="#ffebeb"/>
<rect x="1102.92" y="1407.4" width="37.72" height="30.1" fill="#f7f7ff"/>
<rect x="1140.14" y="1407.4" width="37.72" height="30.1" fill="#e6e6ff"/>
<rect x="1177.36" y="1407.4" width="37.72" height="30.1" fill="#fffafa"/>
<rect x="1214.58" y="1407.4" width="37.72" height="30.1" fill="#ffa6a6"/>
<rect x="1251.8" y="1407.4" width="37.72" height="30.1" fill="#dedeff"/>
<rect x="1289.02" y="1407.4" width="40.98" height="30.1" fill="#e0e0ff"/>
<rect x="507.4" y="1437" width="37.72" height="30.1" fill="#ffd4d4"/>
<rect x="544.62" y="1437" width="37.72" height="30.1" fill="#ffe3e3"/>
<rect x="581.84" y="1437" width="37.72" height="30.1" fill="#ffd1d1"/>
<rect x="619.06" y="1437" width="37.72" height="30.1" fill="#ff0000"/>
<rect x="656.28" y="1437" width="37.72" height="30.1" fill="#f5f5ff"/>
<rect x="693.5" y="1437" width="37.72" height="30.1" fill="#e0e0ff"/>
<rect x="730.72" y="1437" width="37.72" height="30.1" fill="#fff5f5"/>
<rect x="767.94" y="1437" width="37.72" height="30.1" fill="#8585ff"/>
<rect x="805.16" y="1437" width="37.72" height="30.1" fill="#7373ff"/>
<rect x="842.38" y="1437" width="37.72" height="30.1" fill="#3636ff"/>
<rect x="879.6" y="1437" width="37.72" height="30.1" fill="#a3a3ff"/>
<rect x="916.82" y="1437" width="37.72" height="30.1" fill="#8a8aff"/>
<rect x="954.04" y="1437" width="37.72" height="30.1" fill="#d6d6ff"/>
<rect x="991.26" y="1437" width="37.72" height="30.1" fill="#d1d1ff"/>
<rect x="1028.48" y="1437" width="37.72" height="30.1" fill="#8282ff"/>
<rect x="1065.7" y="1437" width="37.72" height="30.1" fill="#c7c7ff"/>
<rect x="1102.92" y="1437" width="37.72" height="30.1" fill="#a8a8ff"/>
<rect x="1140.14" y="1437" width="37.72" height="30.1" fill="#b8b8ff"/>
<rect x="1177.36" y="1437" width="37.72" height="30.1" fill="#ababff"/>
<rect x="1214.58" y="1437" width="37.72" height="30.1" fill="#fcfcff"/>
<rect x="1251.8" y="1437" width="37.72" height="30.1" fill="#8787ff"/>
<rect x="1289.02" y="1437" width="40.98" height="30.1" fill="#f7f7ff"/>
<rect x="507.4" y="1466.6" width="37.72" height="30.1" fill="#f7f7ff"/>
<rect x="544.62" y="1466.6" width="37.72" height="30.1" fill="#f0f0ff"/>
<rect x="581.84" y="1466.6" width="37.72" height="30.1" fill="#fffafa"/>
<rect x="619.06" y="1466.6" width="37.72" height="30.1" fill="#f5f5ff"/>
<rect x="656.28" y="1466.6" width="37.72" height="30.1" fill="#ff0000"/>
<rect x="693.5" y="1466.6" width="37.72" height="30.1" fill="#fff2f2"/>
<rect x="730.72" y="1466.6" width="37.72" height="30.1" fill="#ffe8e8"/>
<rect x="767.94" y="1466.6" width="37.72" height="30.1" fill="#ffebeb"/>
<rect x="805.16" y="1466.6" width="37.72" height="30.1" fill="#fff2f2"/>
<rect x="842.38" y="1466.6" width="37.72" height="30.1" fill="#f0f0ff"/>
<rect x="879.6" y="1466.6" width="37.72" height="30.1" fill="#f2f2ff"/>
<rect x="916.82" y="1466.6" width="37.72" height="30.1" fill="#fff7f7"/>
<rect x="954.04" y="1466.6" width="37.72" height="30.1" fill="#c4c4ff"/>
<rect x="991.26" y="1466.6" width="37.72" height="30.1" fill="#ffcfcf"/>
<rect x="1028.48" y="1466.6" width="37.72" height="30.1" fill="#fafaff"/>
<rect x="1065.7" y="1466.6" width="37.72" height="30.1" fill="#fff2f2"/>
<rect x="1102.92" y="1466.6" width="37.72" height="30.1" fill="#fcfcff"/>
<rect x="1140.14" y="1466.6" width="37.72" height="30.1" fill="#f7f7ff"/>
<rect x="1177.36" y="1466.6" width="37.72" height="30.1" fill="#ff7d7d"/>
<rect x="1214.58" y="1466.6" width="37.72" height="30.1" fill="#ffdbdb"/>
<rect x="1251.8" y="1466.6" width="37.72" height="30.1" fill="#ffd4d4"/>
<rect x="1289.02" y="1466.6" width="40.98" height="30.1" fill="#ebebff"/>
<rect x="507.4" y="1496.2" width="37.72" height="30.1" fill="#d1d1ff"/>
<rect x="544.62" y="1496.2" width="37.72" height="30.1" fill="#ffdede"/>
<rect x="581.84" y="1496.2" width="37.72" height="30.1" fill="#d6d6ff"/>
<rect x="619.06" y="1496.2" width="37.72" height="30.1" fill="#e0e0ff"/>
<rect x="656.28" y="1496.2" width="37.72" height="30.1" fill="#fff2f2"/>
<rect x="693.5" y="1496.2" width="37.72" height="30.1" fill="#ff0000"/>
<rect x="730.72" y="1496.2" width="37.72" height="30.1" fill="#ff8f8f"/>
<rect x="767.94" y="1496.2" width="37.72" height="30.1" fill="#fff0f0"/>
<rect x="805.16" y="1496.2" width="37.72" height="30.1" fill="#ffc9c9"/>
<rect x="842.38" y="1496.2" width="37.72" height="30.1" fill="#fafaff"/>
<rect x="879.6" y="1496.2" width="37.72" height="30.1" fill="#f7f7ff"/>
<rect x="916.82" y="1496.2" width="37.72" height="30.1" fill="#f7f7ff"/>
<rect x="954.04" y="1496.2" width="37.72" height="30.1" fill="#fffcfc"/>
<rect x="991.26" y="1496.2" width="37.72" height="30.1" fill="#f7f7ff"/>
<rect x="1028.48" y="1496.2" width="37.72" height="30.1" fill="#ededff"/>
<rect x="1065.7" y="1496.2" width="37.72" height="30.1" fill="#f2f2ff"/>
<rect x="1102.92" y="1496.2" width="37.72" height="30.1" fill="#ffd9d9"/>
<rect x="1140.14" y="1496.2" width="37.72" height="30.1" fill="#f0f0ff"/>
<rect x="1177.36" y="1496.2" width="37.72" height="30.1" fill="#ffc7c7"/>
<rect x="1214.58" y="1496.2" width="37.72" height="30.1" fill="#ededff"/>
<rect x="1251.8" y="1496.2" width="37.72" height="30.1" fill="#ffa3a3"/>
<rect x="1289.02" y="1496.2" width="40.98" height="30.1" fill="#f7f7ff"/>
<rect x="507.4" y="1525.8" width="37.72" height="30.1" fill="#fff2f2"/>
<rect x="544.62" y="1525.8" width="37.72" height="30.1" fill="#ffb2b2"/>
<rect x="581.84" y="1525.8" width="37.72" height="30.1" fill="#ededff"/>
<rect x="619.06" y="1525.8" width="37.72" height="30.1" fill="#fff5f5"/>
<rect x="656.28" y="1525.8" width="37.72" height="30.1" fill="#ffe8e8"/>
<rect x="693.5" y="1525.8" width="37.72" height="30.1" fill="#ff8f8f"/>
<rect x="730.72" y="1525.8" width="37.72" height="30.1" fill="#ff0000"/>
<rect x="767.94" y="1525.8" width="37.72" height="30.1" fill="#d6d6ff"/>
<rect x="805.16" y="1525.8" width="37.72" height="30.1" fill="#ffdede"/>
<rect x="842.38" y="1525.8" width="37.72" height="30.1" fill="#d9d9ff"/>
<rect x="879.6" y="1525.8" width="37.72" height="30.1" fill="#e3e3ff"/>
<rect x="916.82" y="1525.8" width="37.72" height="30.1" fill="#d4d4ff"/>
<rect x="954.04" y="1525.8" width="37.72" height="30.1" fill="#ffe3e3"/>
<rect x="991.26" y="1525.8" width="37.72" height="30.1" fill="#fff0f0"/>
<rect x="1028.48" y="1525.8" width="37.72" height="30.1" fill="#cfcfff"/>
<rect x="1065.7" y="1525.8" width="37.72" height="30.1" fill="#d6d6ff"/>
<rect x="1102.92" y="1525.8" width="37.72" height="30.1" fill="#ffcfcf"/>
<rect x="1140.14" y="1525.8" width="37.72" height="30.1" fill="#ebebff"/>
<rect x="1177.36" y="1525.8" width="37.72" height="30.1" fill="#fcfcff"/>
<rect x="1214.58" y="1525.8" width="37.72" height="30.1" fill="#c4c4ff"/>
<rect x="1251.8" y="1525.8" width="37.72" height="30.1" fill="#fffcfc"/>
<rect x="1289.02" y="1525.8" width="40.98" height="30.1" fill="#e3e3ff"/>
<rect x="507.4" y="1555.4" width="37.72" height="30.1" fill="#bfbfff"/>
<rect x="544.62" y="1555.4" width="37.72" height="30.1" fill="#c2c2ff"/>
<rect x="581.84" y="1555.4" width="37.72" height="30.1" fill="#ebebff"/>
<rect x="619.06" y="1555.4" width="37.72" height="30.1" fill="#8585ff"/>
<rect x="656.28" y="1555.4" width="37.72" height="30.1" fill="#ffebeb"/>
<rect x="693.5" y="1555.4" width="37.72" height="30.1" fill="#fff0f0"/>
<rect x="730.72" y="1555.4" width="37.72" height="30.1" fill="#d6d6ff"/>
<rect x="767.94" y="1555.4" width="37.72" height="30.1" fill="#ff0000"/>
<rect x="805.16" y="1555.4" width="37.72" height="30.1" fill="#ff6e6e"/>
<rect x="842.38" y="1555.4" width="37.72" height="30.1" fill="#ffb2b2"/>
<rect x="879.6" y="1555.4" width="37.72" height="30.1" fill="#f2f2ff"/>
<rect x="916.82" y="1555.4" width="37.72" height="30.1" fill="#ffd9d9"/>
<rect x="954.04" y="1555.4" width="37.72" height="30.1" fill="#e6e6ff"/>
<rect x="991.26" y="1555.4" width="37.72" height="30.1" fill="#e0e0ff"/>
<rect x="1028.48" y="1555.4" width="37.72" height="30.1" fill="#ffdede"/>
<rect x="1065.7" y="1555.4" width="37.72" height="30.1" fill="#fff0f0"/>
<rect x="1102.92" y="1555.4" width="37.72" height="30.1" fill="#fff5f5"/>
<rect x="1140.14" y="1555.4" width="37.72" height="30.1" fill="#ebebff"/>
<rect x="1177.36" y="1555.4" width="37.72" height="30.1" fill="#ff9999"/>
<rect x="1214.58" y="1555.4" width="37.72" height="30.1" fill="#ffc7c7"/>
<rect x="1251.8" y="1555.4" width="37.72" height="30.1" fill="#ff9191"/>
<rect x="1289.02" y="1555.4" width="40.98" height="30.1" fill="#ffffff"/>
<rect x="507.4" y="1585" width="37.72" height="30.1" fill="#babaff"/>
<rect x="544.62" y="1585" width="37.72" height="30.1" fill="#dedeff"/>
<rect x="581.84" y="1585" width="37.72" height="30.1" fill="#8c8cff"/>
<rect x="619.06" y="1585" width="37.72" height="30.1" fill="#7373ff"/>
<rect x="656.28" y="1585" width="37.72" height="30.1" fill="#fff2f2"/>
<rect x="693.5" y="1585" width="37.72" height="30.1" fill="#ffc9c9"/>
<rect x="730.72" y="1585" width="37.72" height="30.1" fill="#ffdede"/>
<rect x="767.94" y="1585" width="37.72" height="30.1" fill="#ff6e6e"/>
<rect x="805.16" y="1585" width="37.72" height="30.1" fill="#ff0000"/>
<rect x="842.38" y="1585" width="37.72" height="30.1" fill="#ffb0b0"/>
<rect x="879.6" y="1585" width="37.72" height="30.1" fill="#fafaff"/>
<rect x="916.82" y="1585" width="37.72" height="30.1" fill="#ffdbdb"/>
<rect x="954.04" y="1585" width="37.72" height="30.1" fill="#fff2f2"/>
<rect x="991.26" y="1585" width="37.72" height="30.1" fill="#fafaff"/>
<rect x="1028.48" y="1585" width="37.72" height="30.1" fill="#ffcfcf"/>
<rect x="1065.7" y="1585" width="37.72" height="30.1" fill="#fffafa"/>
<rect x="1102.92" y="1585" width="37.72" height="30.1" fill="#ffb0b0"/>
<rect x="1140.14" y="1585" width="37.72" height="30.1" fill="#ffc2c2"/>
<rect x="1177.36" y="1585" width="37.72" height="30.1" fill="#ffe6e6"/>
<rect x="1214.58" y="1585" width="37.72" height="30.1" fill="#c7c7ff"/>
<rect x="1251.8" y="1585" width="37.72" height="30.1" fill="#ffb0b0"/>
<rect x="1289.02" y="1585" width="40.98" height="30.1" fill="#bfbfff"/>
<rect x="507.4" y="1614.6" width="37.72" height="30.1" fill="#e8e8ff"/>
<rect x="544.62" y="1614.6" width="37.72" height="30.1" fill="#dedeff"/>
<rect x="581.84" y="1614.6" width="37.72" height="30.1" fill="#c4c4ff"/>
<rect x="619.06" y="1614.6" width="37.72" height="30.1" fill="#3636ff"/>
<rect x="656.28" y="1614.6" width="37.72" height="30.1" fill="#f0f0ff"/>
<rect x="693.5" y="1614.6" width="37.72" height="30.1" fill="#fafaff"/>
<rect x="730.72" y="1614.6" width="37.72" height="30.1" fill="#d9d9ff"/>
<rect x="767.94" y="1614.6" width="37.72" height="30.1" fill="#ffb2b2"/>
<rect x="805.16" y="1614.6" width="37.72" height="30.1" fill="#ffb0b0"/>
<rect x="842.38" y="1614.6" width="37.72" height="30.1" fill="#ff0000"/>
<rect x="879.6" y="1614.6" width="37.72" height="30.1" fill="#ffa8a8"/>
<rect x="916.82" y="1614.6" width="37.72" height="30.1" fill="#ffa6a6"/>
<rect x="954.04" y="1614.6" width="37.72" height="30.1" fill="#c9c9ff"/>
<rect x="991.26" y="1614.6" width="37.72" height="30.1" fill="#dbdbff"/>
<rect x="1028.48" y="1614.6" width="37.72" height="30.1" fill="#ffbdbd"/>
<rect x="1065.7" y="1614.6" width="37.72" height="30.1" fill="#f0f0ff"/>
<rect x="1102.92" y="1614.6" width="37.72" height="30.1" fill="#ffe6e6"/>
<rect x="1140.14" y="1614.6" width="37.72" height="30.1" fill="#ffc9c9"/>
<rect x="1177.36" y="1614.6" width="37.72" height="30.1" fill="#fff2f2"/>
<rect x="1214.58" y="1614.6" width="37.72" height="30.1" fill="#bdbdff"/>
<rect x="1251.8" y="1614.6" width="37.72" height="30.1" fill="#ffbdbd"/>
<rect x="1289.02" y="1614.6" width="40.98" height="30.1" fill="#ffe6e6"/>
<rect x="507.4" y="1644.2" width="37.72" height="30.1" fill="#d9d9ff"/>
<rect x="544.62" y="1644.2" width="37.72" height="30.1" fill="#dedeff"/>
<rect x="581.84" y="1644.2" width="37.72" height="30.1" fill="#e0e0ff"/>
<rect x="619.06" y="1644.2" width="37.72" height="30.1" fill="#a3a3ff"/>
<rect x="656.28" y="1644.2" width="37.72" height="30.1" fill="#f2f2ff"/>
<rect x="693.5" y="1644.2" width="37.72" height="30.1" fill="#f7f7ff"/>
<rect x="730.72" y="1644.2" width="37.72" height="30.1" fill="#e3e3ff"/>
<rect x="767.94" y="1644.2" width="37.72" height="30.1" fill="#f2f2ff"/>
<rect x="805.16" y="1644.2" width="37.72" height="30.1" fill="#fafaff"/>
<rect x="842.38" y="1644.2" width="37.72" height="30.1" fill="#ffa8a8"/>
<rect x="879.6" y="1644.2" width="37.72" height="30.1" fill="#ff0000"/>
<rect x="916.82" y="1644.2" width="37.72" height="30.1" fill="#ff1212"/>
<rect x="954.04" y="1644.2" width="37.72" height="30.1" fill="#ffe8e8"/>
<rect x="991.26" y="1644.2" width="37.72" height="30.1" fill="#b5b5ff"/>
<rect x="1028.48" y="1644.2" width="37.72" height="30.1" fill="#ff5e5e"/>
<rect x="1065.7" y="1644.2" width="37.72" height="30.1" fill="#f5f5ff"/>
<rect x="1102.92" y="1644.2" width="37.72" height="30.1" fill="#fff5f5"/>
<rect x="1140.14" y="1644.2" width="37.72" height="30.1" fill="#f2f2ff"/>
<rect x="1177.36" y="1644.2" width="37.72" height="30.1" fill="#ffcfcf"/>
<rect x="1214.58" y="1644.2" width="37.72" height="30.1" fill="#c4c4ff"/>
<rect x="1251.8" y="1644.2" width="37.72" height="30.1" fill="#e0e0ff"/>
<rect x="1289.02" y="1644.2" width="40.98" height="30.1" fill="#fafaff"/>
<rect x="507.4" y="1673.8" width="37.72" height="30.1" fill="#c2c2ff"/>
<rect x="544.62" y="1673.8" width="37.72" height="30.1" fill="#cfcfff"/>
<rect x="581.84" y="1673.8" width="37.72" height="30.1" fill="#d9d9ff"/>
<rect x="619.06" y="1673.8" width="37.72" height="30.1" fill="#8a8aff"/>
<rect x="656.28" y="1673.8" width="37.72" height="30.1" fill="#fff7f7"/>
<rect x="693.5" y="1673.8" width="37.72" height="30.1" fill="#f7f7ff"/>
<rect x="730.72" y="1673.8" width="37.72" height="30.1" fill="#d4d4ff"/>
<rect x="767.94" y="1673.8" width="37.72" height="30.1" fill="#ffd9d9"/>
<rect x="805.16" y="1673.8" width="37.72" height="30.1" fill="#ffdbdb"/>
<rect x="842.38" y="1673.8" width="37.72" height="30.1" fill="#ffa6a6"/>
<rect x="879.6" y="1673.8" width="37.72" height="30.1" fill="#ff1212"/>
<rect x="916.82" y="1673.8" width="37.72" height="30.1" fill="#ff0000"/>
<rect x="954.04" y="1673.8" width="37.72" height="30.1" fill="#ffe8e8"/>
<rect x="991.26" y="1673.8" width="37.72" height="30.1" fill="#c9c9ff"/>
<rect x="1028.48" y="1673.8" width="37.72" height="30.1" fill="#ff3d3d"/>
<rect x="1065.7" y="1673.8" width="37.72" height="30.1" fill="#ffd1d1"/>
<rect x="1102.92" y="1673.8" width="37.72" height="30.1" fill="#ffffff"/>
<rect x="1140.14" y="1673.8" width="37.72" height="30.1" fill="#ebebff"/>
<rect x="1177.36" y="1673.8" width="37.72" height="30.1" fill="#ffabab"/>
<rect x="1214.58" y="1673.8" width="37.72" height="30.1" fill="#d6d6ff"/>
<rect x="1251.8" y="1673.8" width="37.72" height="30.1" fill="#fafaff"/>
<rect x="1289.02" y="1673.8" width="40.98" height="30.1" fill="#f0f0ff"/>
<rect x="507.4" y="1703.4" width="37.72" height="30.1" fill="#d9d9ff"/>
<rect x="544.62" y="1703.4" width="37.72" height="30.1" fill="#ffc2c2"/>
<rect x="581.84" y="1703.4" width="37.72" height="30.1" fill="#ffebeb"/>
<rect x="619.06" y="1703.4" width="37.72" height="30.1" fill="#d6d6ff"/>
<rect x="656.28" y="1703.4" width="37.72" height="30.1" fill="#c4c4ff"/>
<rect x="693.5" y="1703.4" width="37.72" height="30.1" fill="#fffcfc"/>
<rect x="730.72" y="1703.4" width="37.72" height="30.1" fill="#ffe3e3"/>
<rect x="767.94" y="1703.4" width="37.72" height="30.1" fill="#e6e6ff"/>
<rect x="805.16" y="1703.4" width="37.72" height="30.1" fill="#fff2f2"/>
<rect x="842.38" y="1703.4" width="37.72" height="30.1" fill="#c9c9ff"/>
<rect x="879.6" y="1703.4" width="37.72" height="30.1" fill="#ffe8e8"/>
<rect x="916.82" y="1703.4" width="37.72" height="30.1" fill="#ffe8e8"/>
<rect x="954.04" y="1703.4" width="37.72" height="30.1" fill="#ff0000"/>
<rect x="991.26" y="1703.4" width="37.72" height="30.1" fill="#ffd1d1"/>
<rect x="1028.48" y="1703.4" width="37.72" height="30.1" fill="#ffc2c2"/>
<rect x="1065.7" y="1703.4" width="37.72" height="30.1" fill="#ffd1d1"/>
<rect x="1102.92" y="1703.4" width="37.72" height="30.1" fill="#ffeded"/>
<rect x="1140.14" y="1703.4" width="37.72" height="30.1" fill="#fff5f5"/>
<rect x="1177.36" y="1703.4" width="37.72" height="30.1" fill="#d9d9ff"/>
<rect x="1214.58" y="1703.4" width="37.72" height="30.1" fill="#fffcfc"/>
<rect x="1251.8" y="1703.4" width="37.72" height="30.1" fill="#d1d1ff"/>
<rect x="1289.02" y="1703.4" width="40.98" height="30.1" fill="#c4c4ff"/>
<rect x="507.4" y="1733" width="37.72" height="30.1" fill="#ffa8a8"/>
<rect x="544.62" y="1733" width="37.72" height="30.1" fill="#ffc7c7"/>
<rect x="581.84" y="1733" width="37.72" height="30.1" fill="#ffc7c7"/>
<rect x="619.06" y="1733" width="37.72" height="30.1" fill="#d1d1ff"/>
<rect x="656.28" y="1733" width="37.72" height="30.1" fill="#ffcfcf"/>
<rect x="693.5" y="1733" width="37.72" height="30.1" fill="#f7f7ff"/>
<rect x="730.72" y="1733" width="37.72" height="30.1" fill="#fff0f0"/>
<rect x="767.94" y="1733" width="37.72" height="30.1" fill="#e0e0ff"/>
<rect x="805.16" y="1733" width="37.72" height="30.1" fill="#fafaff"/>
<rect x="842.38" y="1733" width="37.72" height="30.1" fill="#dbdbff"/>
<rect x="879.6" y="1733" width="37.72" height="30.1" fill="#b5b5ff"/>
<rect x="916.82" y="1733" width="37.72" height="30.1" fill="#c9c9ff"/>
<rect x="954.04" y="1733" width="37.72" height="30.1" fill="#ffd1d1"/>
<rect x="991.26" y="1733" width="37.72" height="30.1" fill="#ff0000"/>
<rect x="1028.48" y="1733" width="37.72" height="30.1" fill="#ffc2c2"/>
<rect x="1065.7" y="1733" width="37.72" height="30.1" fill="#ff6969"/>
<rect x="1102.92" y="1733" width="37.72" height="30.1" fill="#ffd6d6"/>
<rect x="1140.14" y="1733" width="37.72" height="30.1" fill="#fff2f2"/>
<rect x="1177.36" y="1733" width="37.72" height="30.1" fill="#fff0f0"/>
<rect x="1214.58" y="1733" width="37.72" height="30.1" fill="#ffbfbf"/>
<rect x="1251.8" y="1733" width="37.72" height="30.1" fill="#ffcccc"/>
<rect x="1289.02" y="1733" width="40.98" height="30.1" fill="#fff7f7"/>
<rect x="507.4" y="1762.6" width="37.72" height="30.1" fill="#c7c7ff"/>
<rect x="544.62" y="1762.6" width="37.72" height="30.1" fill="#ffffff"/>
<rect x="581.84" y="1762.6" width="37.72" height="30.1" fill="#e3e3ff"/>
<rect x="619.06" y="1762.6" width="37.72" height="30.1" fill="#8282ff"/>
<rect x="656.28" y="1762.6" width="37.72" height="30.1" fill="#fafaff"/>
<rect x="693.5" y="1762.6" width="37.72" height="30.1" fill="#ededff"/>
<rect x="730.72" y="1762.6" width="37.72" height="30.1" fill="#cfcfff"/>
<rect x="767.94" y="1762.6" width="37.72" height="30.1" fill="#ffdede"/>
<rect x="805.16" y="1762.6" width="37.72" height="30.1" fill="#ffcfcf"/>
<rect x="842.38" y="1762.6" width="37.72" height="30.1" fill="#ffbdbd"/>
<rect x="879.6" y="1762.6" width="37.72" height="30.1" fill="#ff5e5e"/>
<rect x="916.82" y="1762.6" width="37.72" height="30.1" fill="#ff3d3d"/>
<rect x="954.04" y="1762.6" width="37.72" height="30.1" fill="#ffc2c2"/>
<rect x="991.26" y="1762.6" width="37.72" height="30.1" fill="#ffc2c2"/>
<rect x="1028.48" y="1762.6" width="37.72" height="30.1" fill="#ff0000"/>
<rect x="1065.7" y="1762.6" width="37.72" height="30.1" fill="#ff5454"/>
<rect x="1102.92" y="1762.6" width="37.72" height="30.1" fill="#e0e0ff"/>
<rect x="1140.14" y="1762.6" width="37.72" height="30.1" fill="#e6e6ff"/>
<rect x="1177.36" y="1762.6" width="37.72" height="30.1" fill="#ffd4d4"/>
<rect x="1214.58" y="1762.6" width="37.72" height="30.1" fill="#e8e8ff"/>
<rect x="1251.8" y="1762.6" width="37.72" height="30.1" fill="#f5f5ff"/>
<rect x="1289.02" y="1762.6" width="40.98" height="30.1" fill="#f2f2ff"/>
<rect x="507.4" y="1792.2" width="37.72" height="30.1" fill="#d1d1ff"/>
<rect x="544.62" y="1792.2" width="37.72" height="30.1" fill="#fcfcff"/>
<rect x="581.84" y="1792.2" width="37.72" height="30.1" fill="#ffebeb"/>
<rect x="619.06" y="1792.2" width="37.72" height="30.1" fill="#c7c7ff"/>
<rect x="656.28" y="1792.2" width="37.72" height="30.1" fill="#fff2f2"/>
<rect x="693.5" y="1792.2" width="37.72" height="30.1" fill="#f2f2ff"/>
<rect x="730.72" y="1792.2" width="37.72" height="30.1" fill="#d6d6ff"/>
<rect x="767.94" y="1792.2" width="37.72" height="30.1" fill="#fff0f0"/>
<rect x="805.16" y="1792.2" width="37.72" height="30.1" fill="#fffafa"/>
<rect x="842.38" y="1792.2" width="37.72" height="30.1" fill="#f0f0ff"/>
<rect x="879.6" y="1792.2" width="37.72" height="30.1" fill="#f5f5ff"/>
<rect x="916.82" y="1792.2" width="37.72" height="30.1" fill="#ffd1d1"/>
<rect x="954.04" y="1792.2" width="37.72" height="30.1" fill="#ffd1d1"/>
<rect x="991.26" y="1792.2" width="37.72" height="30.1" fill="#ff6969"/>
<rect x="1028.48" y="1792.2" width="37.72" height="30.1" fill="#ff5454"/>
<rect x="1065.7" y="1792.2" width="37.72" height="30.1" fill="#ff0000"/>
<rect x="1102.92" y="1792.2" width="37.72" height="30.1" fill="#d6d6ff"/>
<rect x="1140.14" y="1792.2" width="37.72" height="30.1" fill="#f0f0ff"/>
<rect x="1177.36" y="1792.2" width="37.72" height="30.1" fill="#ffd4d4"/>
<rect x="1214.58" y="1792.2" width="37.72" height="30.1" fill="#ffbfbf"/>
<rect x="1251.8" y="1792.2" width="37.72" height="30.1" fill="#ffdede"/>
<rect x="1289.02" y="1792.2" width="40.98" height="30.1" fill="#ffdbdb"/>
<rect x="507.4" y="1821.8" width="37.72" height="30.1" fill="#f5f5ff"/>
<rect x="544.62" y="1821.8" width="37.72" height="30.1" fill="#d6d6ff"/>
<rect x="581.84" y="1821.8" width="37.72" height="30.1" fill="#f7f7ff"/>
<rect x="619.06" y="1821.8" width="37.72" height="30.1" fill="#a8a8ff"/>
<rect x="656.28" y="1821.8" width="37.72" height="30.1" fill="#fcfcff"/>
<rect x="693.5" y="1821.8" width="37.72" height="30.1" fill="#ffd9d9"/>
<rect x="730.72" y="1821.8" width="37.72" height="30.1" fill="#ffcfcf"/>
<rect x="767.94" y="1821.8" width="37.72" height="30.1" fill="#fff5f5"/>
<rect x="805.16" y="1821.8" width="37.72" height="30.1" fill="#ffb0b0"/>
<rect x="842.38" y="1821.8" width="37.72" height="30.1" fill="#ffe6e6"/>
<rect x="879.6" y="1821.8" width="37.72" height="30.1" fill="#fff5f5"/>
<rect x="916.82" y="1821.8" width="37.72" height="30.1" fill="#ffffff"/>
<rect x="954.04" y="1821.8" width="37.72" height="30.1" fill="#ffeded"/>
<rect x="991.26" y="1821.8" width="37.72" height="30.1" fill="#ffd6d6"/>
<rect x="1028.48" y="1821.8" width="37.72" height="30.1" fill="#e0e0ff"/>
<rect x="1065.7" y="1821.8" width="37.72" height="30.1" fill="#d6d6ff"/>
<rect x="1102.92" y="1821.8" width="37.72" height="30.1" fill="#ff0000"/>
<rect x="1140.14" y="1821.8" width="37.72" height="30.1" fill="#ff5c5c"/>
<rect x="1177.36" y="1821.8" width="37.72" height="30.1" fill="#ffc9c9"/>
<rect x="1214.58" y="1821.8" width="37.72" height="30.1" fill="#ffbdbd"/>
<rect x="1251.8" y="1821.8" width="37.72" height="30.1" fill="#ffe6e6"/>
<rect x="1289.02" y="1821.8" width="40.98" height="30.1" fill="#ededff"/>
<rect x="507.4" y="1851.4" width="37.72" height="30.1" fill="#f5f5ff"/>
<rect x="544.62" y="1851.4" width="37.72" height="30.1" fill="#babaff"/>
<rect x="581.84" y="1851.4" width="37.72" height="30.1" fill="#e6e6ff"/>
<rect x="619.06" y="1851.4" width="37.72" height="30.1" fill="#b8b8ff"/>
<rect x="656.28" y="1851.4" width="37.72" height="30.1" fill="#f7f7ff"/>
<rect x="693.5" y="1851.4" width="37.72" height="30.1" fill="#f0f0ff"/>
<rect x="730.72" y="1851.4" width="37.72" height="30.1" fill="#ebebff"/>
<rect x="767.94" y="1851.4" width="37.72" height="30.1" fill="#ebebff"/>
<rect x="805.16" y="1851.4" width="37.72" height="30.1" fill="#ffc2c2"/>
<rect x="842.38" y="1851.4" width="37.72" height="30.1" fill="#ffc9c9"/>
<rect x="879.6" y="1851.4" width="37.72" height="30.1" fill="#f2f2ff"/>
<rect x="916.82" y="1851.4" width="37.72" height="30.1" fill="#ebebff"/>
<rect x="954.04" y="1851.4" width="37.72" height="30.1" fill="#fff5f5"/>
<rect x="991.26" y="1851.4" width="37.72" height="30.1" fill="#fff2f2"/>
<rect x="1028.48" y="1851.4" width="37.72" height="30.1" fill="#e6e6ff"/>
<rect x="1065.7" y="1851.4" width="37.72" height="30.1" fill="#f0f0ff"/>
<rect x="1102.92" y="1851.4" width="37.72" height="30.1" fill="#ff5c5c"/>
<rect x="1140.14" y="1851.4" width="37.72" height="30.1" fill="#ff0000"/>
<rect x="1177.36" y="1851.4" width="37.72" height="30.1" fill="#ffffff"/>
<rect x="1214.58" y="1851.4" width="37.72" height="30.1" fill="#ffc7c7"/>
<rect x="1251.8" y="1851.4" width="37.72" height="30.1" fill="#ffebeb"/>
<rect x="1289.02" y="1851.4" width="40.98" height="30.1" fill="#f2f2ff"/>
<rect x="507.4" y="1881" width="37.72" height="30.1" fill="#a3a3ff"/>
<rect x="544.62" y="1881" width="37.72" height="30.1" fill="#adadff"/>
<rect x="581.84" y="1881" width="37.72" height="30.1" fill="#fffafa"/>
<rect x="619.06" y="1881" width="37.72" height="30.1" fill="#ababff"/>
<rect x="656.28" y="1881" width="37.72" height="30.1" fill="#ff7d7d"/>
<rect x="693.5" y="1881" width="37.72" height="30.1" fill="#ffc7c7"/>
<rect x="730.72" y="1881" width="37.72" height="30.1" fill="#fcfcff"/>
<rect x="767.94" y="1881" width="37.72" height="30.1" fill="#ff9999"/>
<rect x="805.16" y="1881" width="37.72" height="30.1" fill="#ffe6e6"/>
<rect x="842.38" y="1881" width="37.72" height="30.1" fill="#fff2f2"/>
<rect x="879.6" y="1881" width="37.72" height="30.1" fill="#ffcfcf"/>
<rect x="916.82" y="1881" width="37.72" height="30.1" fill="#ffabab"/>
<rect x="954.04" y="1881" width="37.72" height="30.1" fill="#d9d9ff"/>
<rect x="991.26" y="1881" width="37.72" height="30.1" fill="#fff0f0"/>
<rect x="1028.48" y="1881" width="37.72" height="30.1" fill="#ffd4d4"/>
<rect x="1065.7" y="1881" width="37.72" height="30.1" fill="#ffd4d4"/>
<rect x="1102.92" y="1881" width="37.72" height="30.1" fill="#ffc9c9"/>
<rect x="1140.14" y="1881" width="37.72" height="30.1" fill="#ffffff"/>
<rect x="1177.36" y="1881" width="37.72" height="30.1" fill="#ff0000"/>
<rect x="1214.58" y="1881" width="37.72" height="30.1" fill="#ff7373"/>
<rect x="1251.8" y="1881" width="37.72" height="30.1" fill="#ff8a8a"/>
<rect x="1289.02" y="1881" width="40.98" height="30.1" fill="#ffb8b8"/>
<rect x="507.4" y="1910.6" width="37.72" height="30.1" fill="#e3e3ff"/>
<rect x="544.62" y="1910.6" width="37.72" height="30.1" fill="#dbdbff"/>
<rect x="581.84" y="1910.6" width="37.72" height="30.1" fill="#ffa6a6"/>
<rect x="619.06" y="1910.6" width="37.72" height="30.1" fill="#fcfcff"/>
<rect x="656.28" y="1910.6" width="37.72" height="30.1" fill="#ffdbdb"/>
<rect x="693.5" y="1910.6" width="37.72" height="30.1" fill="#ededff"/>
<rect x="730.72" y="1910.6" width="37.72" height="30.1" fill="#c4c4ff"/>
<rect x="767.94" y="1910.6" width="37.72" height="30.1" fill="#ffc7c7"/>
<rect x="805.16" y="1910.6" width="37.72" height="30.1" fill="#c7c7ff"/>
<rect x="842.38" y="1910.6" width="37.72" height="30.1" fill="#bdbdff"/>
<rect x="879.6" y="1910.6" width="37.72" height="30.1" fill="#c4c4ff"/>
<rect x="916.82" y="1910.6" width="37.72" height="30.1" fill="#d6d6ff"/>
<rect x="954.04" y="1910.6" width="37.72" height="30.1" fill="#fffcfc"/>
<rect x="991.26" y="1910.6" width="37.72" height="30.1" fill="#ffbfbf"/>
<rect x="1028.48" y="1910.6" width="37.72" height="30.1" fill="#e8e8ff"/>
<rect x="1065.7" y="1910.6" width="37.72" height="30.1" fill="#ffbfbf"/>
<rect x="1102.92" y="1910.6" width="37.72" height="30.1" fill="#ffbdbd"/>
<rect x="1140.14" y="1910.6" width="37.72" height="30.1" fill="#ffc7c7"/>
<rect x="1177.36" y="1910.6" width="37.72" height="30.1" fill="#ff7373"/>
<rect x="1214.58" y="1910.6" width="37.72" height="30.1" fill="#ff0000"/>
<rect x="1251.8" y="1910.6" width="37.72" height="30.1" fill="#ffbaba"/>
<rect x="1289.02" y="1910.6" width="40.98" height="30.1" fill="#ffcccc"/>
<rect x="507.4" y="1940.2" width="37.72" height="30.1" fill="#f2f2ff"/>
<rect x="544.62" y="1940.2" width="37.72" height="30.1" fill="#b5b5ff"/>
<rect x="581.84" y="1940.2" width="37.72" height="30.1" fill="#dedeff"/>
<rect x="619.06" y="1940.2" width="37.72" height="30.1" fill="#8787ff"/>
<rect x="656.28" y="1940.2" width="37.72" height="30.1" fill="#ffd4d4"/>
<rect x="693.5" y="1940.2" width="37.72" height="30.1" fill="#ffa3a3"/>
<rect x="730.72" y="1940.2" width="37.72" height="30.1" fill="#fffcfc"/>
<rect x="767.94" y="1940.2" width="37.72" height="30.1" fill="#ff9191"/>
<rect x="805.16" y="1940.2" width="37.72" height="30.1" fill="#ffb0b0"/>
<rect x="842.38" y="1940.2" width="37.72" height="30.1" fill="#ffbdbd"/>
<rect x="879.6" y="1940.2" width="37.72" height="30.1" fill="#e0e0ff"/>
<rect x="916.82" y="1940.2" width="37.72" height="30.1" fill="#fafaff"/>
<rect x="954.04" y="1940.2" width="37.72" height="30.1" fill="#d1d1ff"/>
<rect x="991.26" y="1940.2" width="37.72" height="30.1" fill="#ffcccc"/>
<rect x="1028.48" y="1940.2" width="37.72" height="30.1" fill="#f5f5ff"/>
<rect x="1065.7" y="1940.2" width="37.72" height="30.1" fill="#ffdede"/>
<rect x="1102.92" y="1940.2" width="37.72" height="30.1" fill="#ffe6e6"/>
<rect x="1140.14" y="1940.2" width="37.72" height="30.1" fill="#ffebeb"/>
<rect x="1177.36" y="1940.2" width="37.72" height="30.1" fill="#ff8a8a"/>
<rect x="1214.58" y="1940.2" width="37.72" height="30.1" fill="#ffbaba"/>
<rect x="1251.8" y="1940.2" width="37.72" height="30.1" fill="#ff0000"/>
<rect x="1289.02" y="1940.2" width="40.98" height="30.1" fill="#ff9494"/>
<rect x="507.4" y="1969.8" width="37.72" height="33.2" fill="#d9d9ff"/>
<rect x="544.62" y="1969.8" width="37.72" height="33.2" fill="#dbdbff"/>
<rect x="581.84" y="1969.8" width="37.72" height="33.2" fill="#e0e0ff"/>
<rect x="619.06" y="1969.8" width="37.72" height="33.2" fill="#f7f7ff"/>
<rect x="656.28" y="1969.8" width="37.72" height="33.2" fill="#ebebff"/>
<rect x="693.5" y="1969.8" width="37.72" height="33.2" fill="#f7f7ff"/>
<rect x="730.72" y="1969.8" width="37.72" height="33.2" fill="#e3e3ff"/>
<rect x="767.94" y="1969.8" width="37.72" height="33.2" fill="#ffffff"/>
<rect x="805.16" y="1969.8" width="37.72" height="33.2" fill="#bfbfff"/>
<rect x="842.38" y="1969.8" width="37.72" height="33.2" fill="#ffe6e6"/>
<rect x="879.6" y="1969.8" width="37.72" height="33.2" fill="#fafaff"/>
<rect x="916.82" y="1969.8" width="37.72" height="33.2" fill="#f0f0ff"/>
<rect x="954.04" y="1969.8" width="37.72" height="33.2" fill="#c4c4ff"/>
<rect x="991.26" y="1969.8" width="37.72" height="33.2" fill="#fff7f7"/>
<rect x="1028.48" y="1969.8" width="37.72" height="33.2" fill="#f2f2ff"/>
<rect x="1065.7" y="1969.8" width="37.72" height="33.2" fill="#ffdbdb"/>
<rect x="1102.92" y="1969.8" width="37.72" height="33.2" fill="#ededff"/>
<rect x="1140.14" y="1969.8" width="37.72" height="33.2" fill="#f2f2ff"/>
<rect x="1177.36" y="1969.8" width="37.72" height="33.2" fill="#ffb8b8"/>
<rect x="1214.58" y="1969.8" width="37.72" height="33.2" fill="#ffcccc"/>
<rect x="1251.8" y="1969.8" width="37.72" height="33.2" fill="#ff9494"/>
<rect x="1289.02" y="1969.8" width="40.98" height="33.2" fill="#ff0000"/>
</g>
<g font-size="6.6" font-weight="bold" text-anchor="middle">
<text transform="translate(527.3,1366.7) scale(1.36,1)">1</text>
<text transform="translate(564.52,1366.7) scale(1.36,1)">0.36</text>
<text transform="translate(601.74,1366.7) scale(1.36,1)">0.33</text>
<text transform="translate(638.96,1366.7) scale(1.36,1)">0.17</text>
<text transform="translate(676.18,1366.7) scale(1.36,1)">−0.03</text>
<text transform="translate(713.4,1366.7) scale(1.36,1)">−0.18</text>
<text transform="translate(750.62,1366.7) scale(1.36,1)">0.05</text>
<text transform="translate(787.84,1366.7) scale(1.36,1)">−0.25</text>
<text transform="translate(825.06,1366.7) scale(1.36,1)">−0.27</text>
<text transform="translate(862.28,1366.7) scale(1.36,1)">−0.09</text>
<text transform="translate(899.5,1366.7) scale(1.36,1)">−0.15</text>
<text transform="translate(936.72,1366.7) scale(1.36,1)">−0.24</text>
<text transform="translate(973.94,1366.7) scale(1.36,1)">−0.15</text>
<text transform="translate(1011.16,1366.7) scale(1.36,1)">0.34</text>
<text transform="translate(1048.38,1366.7) scale(1.36,1)">−0.22</text>
<text transform="translate(1085.6,1366.7) scale(1.36,1)">−0.18</text>
<text transform="translate(1122.82,1366.7) scale(1.36,1)">−0.04</text>
<text transform="translate(1160.04,1366.7) scale(1.36,1)">−0.04</text>
<text transform="translate(1197.26,1366.7) scale(1.36,1)">−0.36</text>
<text transform="translate(1234.48,1366.7) scale(1.36,1)">−0.11</text>
<text transform="translate(1271.7,1366.7) scale(1.36,1)">−0.05</text>
<text transform="translate(1308.92,1366.7) scale(1.36,1)">−0.15</text>
<text transform="translate(527.3,1396.35) scale(1.36,1)">0.36</text>
<text transform="translate(564.52,1396.35) scale(1.36,1)">1</text>
<text transform="translate(601.74,1396.35) scale(1.36,1)">−0.1</text>
<text transform="translate(638.96,1396.35) scale(1.36,1)">0.11</text>
<text transform="translate(676.18,1396.35) scale(1.36,1)">−0.06</text>
<text transform="translate(713.4,1396.35) scale(1.36,1)">0.13</text>
<text transform="translate(750.62,1396.35) scale(1.36,1)">0.3</text>
<text transform="translate(787.84,1396.35) scale(1.36,1)">−0.24</text>
<text transform="translate(825.06,1396.35) scale(1.36,1)">−0.13</text>
<text transform="translate(862.28,1396.35) scale(1.36,1)">−0.13</text>
<text transform="translate(899.5,1396.35) scale(1.36,1)">−0.13</text>
<text transform="translate(936.72,1396.35) scale(1.36,1)">−0.19</text>
<text transform="translate(973.94,1396.35) scale(1.36,1)">0.24</text>
<text transform="translate(1011.16,1396.35) scale(1.36,1)">0.22</text>
<text transform="translate(1048.38,1396.35) scale(1.36,1)">0</text>
<text transform="translate(1085.6,1396.35) scale(1.36,1)">−0.01</text>
<text transform="translate(1122.82,1396.35) scale(1.36,1)">−0.16</text>
<text transform="translate(1160.04,1396.35) scale(1.36,1)">−0.27</text>
<text transform="translate(1197.26,1396.35) scale(1.36,1)">−0.32</text>
<text transform="translate(1234.48,1396.35) scale(1.36,1)">−0.14</text>
<text transform="translate(1271.7,1396.35) scale(1.36,1)">−0.29</text>
<text transform="translate(1308.92,1396.35) scale(1.36,1)">−0.14</text>
<text transform="translate(527.3,1426) scale(1.36,1)">0.33</text>
<text transform="translate(564.52,1426) scale(1.36,1)">−0.1</text>
<text transform="translate(601.74,1426) scale(1.36,1)">1</text>
<text transform="translate(638.96,1426) scale(1.36,1)">0.18</text>
<text transform="translate(676.18,1426) scale(1.36,1)">0.02</text>
<text transform="translate(713.4,1426) scale(1.36,1)">−0.16</text>
<text transform="translate(750.62,1426) scale(1.36,1)">−0.07</text>
<text transform="translate(787.84,1426) scale(1.36,1)">−0.08</text>
<text transform="translate(825.06,1426) scale(1.36,1)">−0.45</text>
<text transform="translate(862.28,1426) scale(1.36,1)">−0.23</text>
<text transform="translate(899.5,1426) scale(1.36,1)">−0.12</text>
<text transform="translate(936.72,1426) scale(1.36,1)">−0.15</text>
<text transform="translate(973.94,1426) scale(1.36,1)">0.08</text>
<text transform="translate(1011.16,1426) scale(1.36,1)">0.22</text>
<text transform="translate(1048.38,1426) scale(1.36,1)">−0.11</text>
<text transform="translate(1085.6,1426) scale(1.36,1)">0.08</text>
<text transform="translate(1122.82,1426) scale(1.36,1)">−0.03</text>
<text transform="translate(1160.04,1426) scale(1.36,1)">−0.1</text>
<text transform="translate(1197.26,1426) scale(1.36,1)">0.02</text>
<text transform="translate(1234.48,1426) scale(1.36,1)">0.35</text>
<text transform="translate(1271.7,1426) scale(1.36,1)">−0.13</text>
<text transform="translate(1308.92,1426) scale(1.36,1)">−0.12</text>
<text transform="translate(527.3,1455.65) scale(1.36,1)">0.17</text>
<text transform="translate(564.52,1455.65) scale(1.36,1)">0.11</text>
<text transform="translate(601.74,1455.65) scale(1.36,1)">0.18</text>
<text transform="translate(638.96,1455.65) scale(1.36,1)">1</text>
<text transform="translate(676.18,1455.65) scale(1.36,1)">−0.04</text>
<text transform="translate(713.4,1455.65) scale(1.36,1)">−0.12</text>
<text transform="translate(750.62,1455.65) scale(1.36,1)">0.04</text>
<text transform="translate(787.84,1455.65) scale(1.36,1)">−0.48</text>
<text transform="translate(825.06,1455.65) scale(1.36,1)">−0.55</text>
<text transform="translate(862.28,1455.65) scale(1.36,1)">−0.79</text>
<text transform="translate(899.5,1455.65) scale(1.36,1)">−0.36</text>
<text transform="translate(936.72,1455.65) scale(1.36,1)">−0.46</text>
<text transform="translate(973.94,1455.65) scale(1.36,1)">−0.16</text>
<text transform="translate(1011.16,1455.65) scale(1.36,1)">−0.18</text>
<text transform="translate(1048.38,1455.65) scale(1.36,1)">−0.49</text>
<text transform="translate(1085.6,1455.65) scale(1.36,1)">−0.22</text>
<text transform="translate(1122.82,1455.65) scale(1.36,1)">−0.34</text>
<text transform="translate(1160.04,1455.65) scale(1.36,1)">−0.28</text>
<text transform="translate(1197.26,1455.65) scale(1.36,1)">−0.33</text>
<text transform="translate(1234.48,1455.65) scale(1.36,1)">−0.01</text>
<text transform="translate(1271.7,1455.65) scale(1.36,1)">−0.47</text>
<text transform="translate(1308.92,1455.65) scale(1.36,1)">−0.03</text>
<text transform="translate(527.3,1485.3) scale(1.36,1)">−0.03</text>
<text transform="translate(564.52,1485.3) scale(1.36,1)">−0.06</text>
<text transform="translate(601.74,1485.3) scale(1.36,1)">0.02</text>
<text transform="translate(638.96,1485.3) scale(1.36,1)">−0.04</text>
<text transform="translate(676.18,1485.3) scale(1.36,1)">1</text>
<text transform="translate(713.4,1485.3) scale(1.36,1)">0.05</text>
<text transform="translate(750.62,1485.3) scale(1.36,1)">0.09</text>
<text transform="translate(787.84,1485.3) scale(1.36,1)">0.08</text>
<text transform="translate(825.06,1485.3) scale(1.36,1)">0.05</text>
<text transform="translate(862.28,1485.3) scale(1.36,1)">−0.06</text>
<text transform="translate(899.5,1485.3) scale(1.36,1)">−0.05</text>
<text transform="translate(936.72,1485.3) scale(1.36,1)">0.03</text>
<text transform="translate(973.94,1485.3) scale(1.36,1)">−0.23</text>
<text transform="translate(1011.16,1485.3) scale(1.36,1)">0.19</text>
<text transform="translate(1048.38,1485.3) scale(1.36,1)">−0.02</text>
<text transform="translate(1085.6,1485.3) scale(1.36,1)">0.05</text>
<text transform="translate(1122.82,1485.3) scale(1.36,1)">−0.01</text>
<text transform="translate(1160.04,1485.3) scale(1.36,1)">−0.03</text>
<text transform="translate(1197.26,1485.3) scale(1.36,1)">0.51</text>
<text transform="translate(1234.48,1485.3) scale(1.36,1)">0.14</text>
<text transform="translate(1271.7,1485.3) scale(1.36,1)">0.17</text>
<text transform="translate(1308.92,1485.3) scale(1.36,1)">−0.08</text>
<text transform="translate(527.3,1514.95) scale(1.36,1)">−0.18</text>
<text transform="translate(564.52,1514.95) scale(1.36,1)">0.13</text>
<text transform="translate(601.74,1514.95) scale(1.36,1)">−0.16</text>
<text transform="translate(638.96,1514.95) scale(1.36,1)">−0.12</text>
<text transform="translate(676.18,1514.95) scale(1.36,1)">0.05</text>
<text transform="translate(713.4,1514.95) scale(1.36,1)">1</text>
<text transform="translate(750.62,1514.95) scale(1.36,1)">0.44</text>
<text transform="translate(787.84,1514.95) scale(1.36,1)">0.06</text>
<text transform="translate(825.06,1514.95) scale(1.36,1)">0.21</text>
<text transform="translate(862.28,1514.95) scale(1.36,1)">−0.02</text>
<text transform="translate(899.5,1514.95) scale(1.36,1)">−0.03</text>
<text transform="translate(936.72,1514.95) scale(1.36,1)">−0.03</text>
<text transform="translate(973.94,1514.95) scale(1.36,1)">0.01</text>
<text transform="translate(1011.16,1514.95) scale(1.36,1)">−0.03</text>
<text transform="translate(1048.38,1514.95) scale(1.36,1)">−0.07</text>
<text transform="translate(1085.6,1514.95) scale(1.36,1)">−0.05</text>
<text transform="translate(1122.82,1514.95) scale(1.36,1)">0.15</text>
<text transform="translate(1160.04,1514.95) scale(1.36,1)">−0.06</text>
<text transform="translate(1197.26,1514.95) scale(1.36,1)">0.22</text>
<text transform="translate(1234.48,1514.95) scale(1.36,1)">−0.07</text>
<text transform="translate(1271.7,1514.95) scale(1.36,1)">0.36</text>
<text transform="translate(1308.92,1514.95) scale(1.36,1)">−0.03</text>
<text transform="translate(527.3,1544.6) scale(1.36,1)">0.05</text>
<text transform="translate(564.52,1544.6) scale(1.36,1)">0.3</text>
<text transform="translate(601.74,1544.6) scale(1.36,1)">−0.07</text>
<text transform="translate(638.96,1544.6) scale(1.36,1)">0.04</text>
<text transform="translate(676.18,1544.6) scale(1.36,1)">0.09</text>
<text transform="translate(713.4,1544.6) scale(1.36,1)">0.44</text>
<text transform="translate(750.62,1544.6) scale(1.36,1)">1</text>
<text transform="translate(787.84,1544.6) scale(1.36,1)">−0.16</text>
<text transform="translate(825.06,1544.6) scale(1.36,1)">0.13</text>
<text transform="translate(862.28,1544.6) scale(1.36,1)">−0.15</text>
<text transform="translate(899.5,1544.6) scale(1.36,1)">−0.11</text>
<text transform="translate(936.72,1544.6) scale(1.36,1)">−0.17</text>
<text transform="translate(973.94,1544.6) scale(1.36,1)">0.11</text>
<text transform="translate(1011.16,1544.6) scale(1.36,1)">0.06</text>
<text transform="translate(1048.38,1544.6) scale(1.36,1)">−0.19</text>
<text transform="translate(1085.6,1544.6) scale(1.36,1)">−0.16</text>
<text transform="translate(1122.82,1544.6) scale(1.36,1)">0.19</text>
<text transform="translate(1160.04,1544.6) scale(1.36,1)">−0.08</text>
<text transform="translate(1197.26,1544.6) scale(1.36,1)">−0.01</text>
<text transform="translate(1234.48,1544.6) scale(1.36,1)">−0.23</text>
<text transform="translate(1271.7,1544.6) scale(1.36,1)">0.01</text>
<text transform="translate(1308.92,1544.6) scale(1.36,1)">−0.11</text>
<text transform="translate(527.3,1574.25) scale(1.36,1)">−0.25</text>
<text transform="translate(564.52,1574.25) scale(1.36,1)">−0.24</text>
<text transform="translate(601.74,1574.25) scale(1.36,1)">−0.08</text>
<text transform="translate(638.96,1574.25) scale(1.36,1)">−0.48</text>
<text transform="translate(676.18,1574.25) scale(1.36,1)">0.08</text>
<text transform="translate(713.4,1574.25) scale(1.36,1)">0.06</text>
<text transform="translate(750.62,1574.25) scale(1.36,1)">−0.16</text>
<text transform="translate(787.84,1574.25) scale(1.36,1)">1</text>
<text transform="translate(825.06,1574.25) scale(1.36,1)">0.57</text>
<text transform="translate(862.28,1574.25) scale(1.36,1)">0.3</text>
<text transform="translate(899.5,1574.25) scale(1.36,1)">−0.05</text>
<text transform="translate(936.72,1574.25) scale(1.36,1)">0.15</text>
<text transform="translate(973.94,1574.25) scale(1.36,1)">−0.1</text>
<text transform="translate(1011.16,1574.25) scale(1.36,1)">−0.12</text>
<text transform="translate(1048.38,1574.25) scale(1.36,1)">0.13</text>
<text transform="translate(1085.6,1574.25) scale(1.36,1)">0.06</text>
<text transform="translate(1122.82,1574.25) scale(1.36,1)">0.04</text>
<text transform="translate(1160.04,1574.25) scale(1.36,1)">−0.08</text>
<text transform="translate(1197.26,1574.25) scale(1.36,1)">0.4</text>
<text transform="translate(1234.48,1574.25) scale(1.36,1)">0.22</text>
<text transform="translate(1271.7,1574.25) scale(1.36,1)">0.43</text>
<text transform="translate(1308.92,1574.25) scale(1.36,1)">0</text>
<text transform="translate(527.3,1603.9) scale(1.36,1)">−0.27</text>
<text transform="translate(564.52,1603.9) scale(1.36,1)">−0.13</text>
<text transform="translate(601.74,1603.9) scale(1.36,1)">−0.45</text>
<text transform="translate(638.96,1603.9) scale(1.36,1)">−0.55</text>
<text transform="translate(676.18,1603.9) scale(1.36,1)">0.05</text>
<text transform="translate(713.4,1603.9) scale(1.36,1)">0.21</text>
<text transform="translate(750.62,1603.9) scale(1.36,1)">0.13</text>
<text transform="translate(787.84,1603.9) scale(1.36,1)">0.57</text>
<text transform="translate(825.06,1603.9) scale(1.36,1)">1</text>
<text transform="translate(862.28,1603.9) scale(1.36,1)">0.31</text>
<text transform="translate(899.5,1603.9) scale(1.36,1)">−0.02</text>
<text transform="translate(936.72,1603.9) scale(1.36,1)">0.14</text>
<text transform="translate(973.94,1603.9) scale(1.36,1)">0.05</text>
<text transform="translate(1011.16,1603.9) scale(1.36,1)">−0.02</text>
<text transform="translate(1048.38,1603.9) scale(1.36,1)">0.19</text>
<text transform="translate(1085.6,1603.9) scale(1.36,1)">0.02</text>
<text transform="translate(1122.82,1603.9) scale(1.36,1)">0.31</text>
<text transform="translate(1160.04,1603.9) scale(1.36,1)">0.24</text>
<text transform="translate(1197.26,1603.9) scale(1.36,1)">0.1</text>
<text transform="translate(1234.48,1603.9) scale(1.36,1)">−0.22</text>
<text transform="translate(1271.7,1603.9) scale(1.36,1)">0.31</text>
<text transform="translate(1308.92,1603.9) scale(1.36,1)">−0.25</text>
<text transform="translate(527.3,1633.55) scale(1.36,1)">−0.09</text>
<text transform="translate(564.52,1633.55) scale(1.36,1)">−0.13</text>
<text transform="translate(601.74,1633.55) scale(1.36,1)">−0.23</text>
<text transform="translate(638.96,1633.55) scale(1.36,1)">−0.79</text>
<text transform="translate(676.18,1633.55) scale(1.36,1)">−0.06</text>
<text transform="translate(713.4,1633.55) scale(1.36,1)">−0.02</text>
<text transform="translate(750.62,1633.55) scale(1.36,1)">−0.15</text>
<text transform="translate(787.84,1633.55) scale(1.36,1)">0.3</text>
<text transform="translate(825.06,1633.55) scale(1.36,1)">0.31</text>
<text transform="translate(862.28,1633.55) scale(1.36,1)">1</text>
<text transform="translate(899.5,1633.55) scale(1.36,1)">0.34</text>
<text transform="translate(936.72,1633.55) scale(1.36,1)">0.35</text>
<text transform="translate(973.94,1633.55) scale(1.36,1)">−0.21</text>
<text transform="translate(1011.16,1633.55) scale(1.36,1)">−0.14</text>
<text transform="translate(1048.38,1633.55) scale(1.36,1)">0.26</text>
<text transform="translate(1085.6,1633.55) scale(1.36,1)">−0.06</text>
<text transform="translate(1122.82,1633.55) scale(1.36,1)">0.1</text>
<text transform="translate(1160.04,1633.55) scale(1.36,1)">0.21</text>
<text transform="translate(1197.26,1633.55) scale(1.36,1)">0.05</text>
<text transform="translate(1234.48,1633.55) scale(1.36,1)">−0.26</text>
<text transform="translate(1271.7,1633.55) scale(1.36,1)">0.26</text>
<text transform="translate(1308.92,1633.55) scale(1.36,1)">0.1</text>
<text transform="translate(527.3,1663.2) scale(1.36,1)">−0.15</text>
<text transform="translate(564.52,1663.2) scale(1.36,1)">−0.13</text>
<text transform="translate(601.74,1663.2) scale(1.36,1)">−0.12</text>
<text transform="translate(638.96,1663.2) scale(1.36,1)">−0.36</text>
<text transform="translate(676.18,1663.2) scale(1.36,1)">−0.05</text>
<text transform="translate(713.4,1663.2) scale(1.36,1)">−0.03</text>
<text transform="translate(750.62,1663.2) scale(1.36,1)">−0.11</text>
<text transform="translate(787.84,1663.2) scale(1.36,1)">−0.05</text>
<text transform="translate(825.06,1663.2) scale(1.36,1)">−0.02</text>
<text transform="translate(862.28,1663.2) scale(1.36,1)">0.34</text>
<text transform="translate(899.5,1663.2) scale(1.36,1)">1</text>
<text transform="translate(936.72,1663.2) scale(1.36,1)">0.93</text>
<text transform="translate(973.94,1663.2) scale(1.36,1)">0.09</text>
<text transform="translate(1011.16,1663.2) scale(1.36,1)">−0.29</text>
<text transform="translate(1048.38,1663.2) scale(1.36,1)">0.63</text>
<text transform="translate(1085.6,1663.2) scale(1.36,1)">−0.04</text>
<text transform="translate(1122.82,1663.2) scale(1.36,1)">0.04</text>
<text transform="translate(1160.04,1663.2) scale(1.36,1)">−0.05</text>
<text transform="translate(1197.26,1663.2) scale(1.36,1)">0.19</text>
<text transform="translate(1234.48,1663.2) scale(1.36,1)">−0.23</text>
<text transform="translate(1271.7,1663.2) scale(1.36,1)">−0.12</text>
<text transform="translate(1308.92,1663.2) scale(1.36,1)">−0.02</text>
<text transform="translate(527.3,1692.85) scale(1.36,1)">−0.24</text>
<text transform="translate(564.52,1692.85) scale(1.36,1)">−0.19</text>
<text transform="translate(601.74,1692.85) scale(1.36,1)">−0.15</text>
<text transform="translate(638.96,1692.85) scale(1.36,1)">−0.46</text>
<text transform="translate(676.18,1692.85) scale(1.36,1)">0.03</text>
<text transform="translate(713.4,1692.85) scale(1.36,1)">−0.03</text>
<text transform="translate(750.62,1692.85) scale(1.36,1)">−0.17</text>
<text transform="translate(787.84,1692.85) scale(1.36,1)">0.15</text>
<text transform="translate(825.06,1692.85) scale(1.36,1)">0.14</text>
<text transform="translate(862.28,1692.85) scale(1.36,1)">0.35</text>
<text transform="translate(899.5,1692.85) scale(1.36,1)">0.93</text>
<text transform="translate(936.72,1692.85) scale(1.36,1)">1</text>
<text transform="translate(973.94,1692.85) scale(1.36,1)">0.09</text>
<text transform="translate(1011.16,1692.85) scale(1.36,1)">−0.21</text>
<text transform="translate(1048.38,1692.85) scale(1.36,1)">0.76</text>
<text transform="translate(1085.6,1692.85) scale(1.36,1)">0.18</text>
<text transform="translate(1122.82,1692.85) scale(1.36,1)">0</text>
<text transform="translate(1160.04,1692.85) scale(1.36,1)">−0.08</text>
<text transform="translate(1197.26,1692.85) scale(1.36,1)">0.33</text>
<text transform="translate(1234.48,1692.85) scale(1.36,1)">−0.16</text>
<text transform="translate(1271.7,1692.85) scale(1.36,1)">−0.02</text>
<text transform="translate(1308.92,1692.85) scale(1.36,1)">−0.06</text>
<text transform="translate(527.3,1722.5) scale(1.36,1)">−0.15</text>
<text transform="translate(564.52,1722.5) scale(1.36,1)">0.24</text>
<text transform="translate(601.74,1722.5) scale(1.36,1)">0.08</text>
<text transform="translate(638.96,1722.5) scale(1.36,1)">−0.16</text>
<text transform="translate(676.18,1722.5) scale(1.36,1)">−0.23</text>
<text transform="translate(713.4,1722.5) scale(1.36,1)">0.01</text>
<text transform="translate(750.62,1722.5) scale(1.36,1)">0.11</text>
<text transform="translate(787.84,1722.5) scale(1.36,1)">−0.1</text>
<text transform="translate(825.06,1722.5) scale(1.36,1)">0.05</text>
<text transform="translate(862.28,1722.5) scale(1.36,1)">−0.21</text>
<text transform="translate(899.5,1722.5) scale(1.36,1)">0.09</text>
<text transform="translate(936.72,1722.5) scale(1.36,1)">0.09</text>
<text transform="translate(973.94,1722.5) scale(1.36,1)">1</text>
<text transform="translate(1011.16,1722.5) scale(1.36,1)">0.18</text>
<text transform="translate(1048.38,1722.5) scale(1.36,1)">0.24</text>
<text transform="translate(1085.6,1722.5) scale(1.36,1)">0.18</text>
<text transform="translate(1122.82,1722.5) scale(1.36,1)">0.07</text>
<text transform="translate(1160.04,1722.5) scale(1.36,1)">0.04</text>
<text transform="translate(1197.26,1722.5) scale(1.36,1)">−0.15</text>
<text transform="translate(1234.48,1722.5) scale(1.36,1)">0.01</text>
<text transform="translate(1271.7,1722.5) scale(1.36,1)">−0.18</text>
<text transform="translate(1308.92,1722.5) scale(1.36,1)">−0.23</text>
<text transform="translate(527.3,1752.15) scale(1.36,1)">0.34</text>
<text transform="translate(564.52,1752.15) scale(1.36,1)">0.22</text>
<text transform="translate(601.74,1752.15) scale(1.36,1)">0.22</text>
<text transform="translate(638.96,1752.15) scale(1.36,1)">−0.18</text>
<text transform="translate(676.18,1752.15) scale(1.36,1)">0.19</text>
<text transform="translate(713.4,1752.15) scale(1.36,1)">−0.03</text>
<text transform="translate(750.62,1752.15) scale(1.36,1)">0.06</text>
<text transform="translate(787.84,1752.15) scale(1.36,1)">−0.12</text>
<text transform="translate(825.06,1752.15) scale(1.36,1)">−0.02</text>
<text transform="translate(862.28,1752.15) scale(1.36,1)">−0.14</text>
<text transform="translate(899.5,1752.15) scale(1.36,1)">−0.29</text>
<text transform="translate(936.72,1752.15) scale(1.36,1)">−0.21</text>
<text transform="translate(973.94,1752.15) scale(1.36,1)">0.18</text>
<text transform="translate(1011.16,1752.15) scale(1.36,1)">1</text>
<text transform="translate(1048.38,1752.15) scale(1.36,1)">0.24</text>
<text transform="translate(1085.6,1752.15) scale(1.36,1)">0.59</text>
<text transform="translate(1122.82,1752.15) scale(1.36,1)">0.16</text>
<text transform="translate(1160.04,1756.15) scale(1.36,1)">0.05</text>
<text transform="translate(1197.26,1752.15) scale(1.36,1)">0.06</text>
<text transform="translate(1234.48,1752.15) scale(1.36,1)">0.25</text>
<text transform="translate(1271.7,1752.15) scale(1.36,1)">0.2</text>
<text transform="translate(1308.92,1752.15) scale(1.36,1)">0.03</text>
<text transform="translate(527.3,1781.8) scale(1.36,1)">−0.22</text>
<text transform="translate(564.52,1781.8) scale(1.36,1)">0</text>
<text transform="translate(601.74,1781.8) scale(1.36,1)">−0.11</text>
<text transform="translate(638.96,1781.8) scale(1.36,1)">−0.49</text>
<text transform="translate(676.18,1781.8) scale(1.36,1)">−0.02</text>
<text transform="translate(713.4,1781.8) scale(1.36,1)">−0.07</text>
<text transform="translate(750.62,1781.8) scale(1.36,1)">−0.19</text>
<text transform="translate(787.84,1781.8) scale(1.36,1)">0.13</text>
<text transform="translate(825.06,1781.8) scale(1.36,1)">0.19</text>
<text transform="translate(862.28,1781.8) scale(1.36,1)">0.26</text>
<text transform="translate(899.5,1781.8) scale(1.36,1)">0.63</text>
<text transform="translate(936.72,1781.8) scale(1.36,1)">0.76</text>
<text transform="translate(973.94,1781.8) scale(1.36,1)">0.24</text>
<text transform="translate(1011.16,1781.8) scale(1.36,1)">0.24</text>
<text transform="translate(1048.38,1781.8) scale(1.36,1)">1</text>
<text transform="translate(1085.6,1781.8) scale(1.36,1)">0.67</text>
<text transform="translate(1122.82,1781.8) scale(1.36,1)">−0.12</text>
<text transform="translate(1160.04,1781.8) scale(1.36,1)">−0.1</text>
<text transform="translate(1197.26,1781.8) scale(1.36,1)">0.17</text>
<text transform="translate(1234.48,1781.8) scale(1.36,1)">−0.09</text>
<text transform="translate(1271.7,1781.8) scale(1.36,1)">−0.04</text>
<text transform="translate(1308.92,1781.8) scale(1.36,1)">−0.05</text>
<text transform="translate(527.3,1811.45) scale(1.36,1)">−0.18</text>
<text transform="translate(564.52,1811.45) scale(1.36,1)">−0.01</text>
<text transform="translate(601.74,1811.45) scale(1.36,1)">0.08</text>
<text transform="translate(638.96,1811.45) scale(1.36,1)">−0.22</text>
<text transform="translate(676.18,1811.45) scale(1.36,1)">0.05</text>
<text transform="translate(713.4,1811.45) scale(1.36,1)">−0.05</text>
<text transform="translate(750.62,1811.45) scale(1.36,1)">−0.16</text>
<text transform="translate(787.84,1811.45) scale(1.36,1)">0.06</text>
<text transform="translate(825.06,1811.45) scale(1.36,1)">0.02</text>
<text transform="translate(862.28,1811.45) scale(1.36,1)">−0.06</text>
<text transform="translate(899.5,1811.45) scale(1.36,1)">−0.04</text>
<text transform="translate(936.72,1811.45) scale(1.36,1)">0.18</text>
<text transform="translate(973.94,1811.45) scale(1.36,1)">0.18</text>
<text transform="translate(1011.16,1811.45) scale(1.36,1)">0.59</text>
<text transform="translate(1048.38,1811.45) scale(1.36,1)">0.67</text>
<text transform="translate(1085.6,1811.45) scale(1.36,1)">1</text>
<text transform="translate(1122.82,1811.45) scale(1.36,1)">−0.16</text>
<text transform="translate(1160.04,1811.45) scale(1.36,1)">−0.06</text>
<text transform="translate(1197.26,1811.45) scale(1.36,1)">0.17</text>
<text transform="translate(1234.48,1811.45) scale(1.36,1)">0.25</text>
<text transform="translate(1271.7,1811.45) scale(1.36,1)">0.13</text>
<text transform="translate(1308.92,1811.45) scale(1.36,1)">0.14</text>
<text transform="translate(527.3,1841.1) scale(1.36,1)">−0.04</text>
<text transform="translate(564.52,1841.1) scale(1.36,1)">−0.16</text>
<text transform="translate(601.74,1841.1) scale(1.36,1)">−0.03</text>
<text transform="translate(638.96,1841.1) scale(1.36,1)">−0.34</text>
<text transform="translate(676.18,1841.1) scale(1.36,1)">−0.01</text>
<text transform="translate(713.4,1841.1) scale(1.36,1)">0.15</text>
<text transform="translate(750.62,1841.1) scale(1.36,1)">0.19</text>
<text transform="translate(787.84,1841.1) scale(1.36,1)">0.04</text>
<text transform="translate(825.06,1841.1) scale(1.36,1)">0.31</text>
<text transform="translate(862.28,1841.1) scale(1.36,1)">0.1</text>
<text transform="translate(899.5,1841.1) scale(1.36,1)">0.04</text>
<text transform="translate(936.72,1841.1) scale(1.36,1)">0</text>
<text transform="translate(973.94,1841.1) scale(1.36,1)">0.07</text>
<text transform="translate(1011.16,1841.1) scale(1.36,1)">0.16</text>
<text transform="translate(1048.38,1841.1) scale(1.36,1)">−0.12</text>
<text transform="translate(1085.6,1841.1) scale(1.36,1)">−0.16</text>
<text transform="translate(1122.82,1841.1) scale(1.36,1)">1</text>
<text transform="translate(1160.04,1841.1) scale(1.36,1)">0.64</text>
<text transform="translate(1197.26,1841.1) scale(1.36,1)">0.21</text>
<text transform="translate(1234.48,1841.1) scale(1.36,1)">0.26</text>
<text transform="translate(1271.7,1841.1) scale(1.36,1)">0.1</text>
<text transform="translate(1308.92,1841.1) scale(1.36,1)">−0.07</text>
<text transform="translate(527.3,1870.75) scale(1.36,1)">−0.04</text>
<text transform="translate(564.52,1870.75) scale(1.36,1)">−0.27</text>
<text transform="translate(601.74,1870.75) scale(1.36,1)">−0.1</text>
<text transform="translate(638.96,1870.75) scale(1.36,1)">−0.28</text>
<text transform="translate(676.18,1870.75) scale(1.36,1)">−0.03</text>
<text transform="translate(713.4,1870.75) scale(1.36,1)">−0.06</text>
<text transform="translate(750.62,1870.75) scale(1.36,1)">−0.08</text>
<text transform="translate(787.84,1870.75) scale(1.36,1)">−0.08</text>
<text transform="translate(825.06,1870.75) scale(1.36,1)">0.24</text>
<text transform="translate(862.28,1870.75) scale(1.36,1)">0.21</text>
<text transform="translate(899.5,1870.75) scale(1.36,1)">−0.05</text>
<text transform="translate(936.72,1870.75) scale(1.36,1)">−0.08</text>
<text transform="translate(973.94,1870.75) scale(1.36,1)">0.04</text>
<text transform="translate(1011.16,1870.75) scale(1.36,1)">0.05</text>
<text transform="translate(1048.38,1870.75) scale(1.36,1)">−0.1</text>
<text transform="translate(1085.6,1870.75) scale(1.36,1)">−0.06</text>
<text transform="translate(1122.82,1870.75) scale(1.36,1)">0.64</text>
<text transform="translate(1160.04,1870.75) scale(1.36,1)">1</text>
<text transform="translate(1197.26,1870.75) scale(1.36,1)">0</text>
<text transform="translate(1234.48,1870.75) scale(1.36,1)">0.22</text>
<text transform="translate(1271.7,1870.75) scale(1.36,1)">0.08</text>
<text transform="translate(1308.92,1870.75) scale(1.36,1)">−0.05</text>
<text transform="translate(527.3,1900.4) scale(1.36,1)">−0.36</text>
<text transform="translate(564.52,1900.4) scale(1.36,1)">−0.32</text>
<text transform="translate(601.74,1900.4) scale(1.36,1)">0.02</text>
<text transform="translate(638.96,1900.4) scale(1.36,1)">−0.33</text>
<text transform="translate(676.18,1900.4) scale(1.36,1)">0.51</text>
<text transform="translate(713.4,1900.4) scale(1.36,1)">0.22</text>
<text transform="translate(750.62,1900.4) scale(1.36,1)">−0.01</text>
<text transform="translate(787.84,1900.4) scale(1.36,1)">0.4</text>
<text transform="translate(825.06,1900.4) scale(1.36,1)">0.1</text>
<text transform="translate(862.28,1900.4) scale(1.36,1)">0.05</text>
<text transform="translate(899.5,1900.4) scale(1.36,1)">0.19</text>
<text transform="translate(936.72,1900.4) scale(1.36,1)">0.33</text>
<text transform="translate(973.94,1900.4) scale(1.36,1)">−0.15</text>
<text transform="translate(1011.16,1900.4) scale(1.36,1)">0.06</text>
<text transform="translate(1048.38,1900.4) scale(1.36,1)">0.17</text>
<text transform="translate(1085.6,1900.4) scale(1.36,1)">0.17</text>
<text transform="translate(1122.82,1900.4) scale(1.36,1)">0.21</text>
<text transform="translate(1160.04,1900.4) scale(1.36,1)">0</text>
<text transform="translate(1197.26,1900.4) scale(1.36,1)">1</text>
<text transform="translate(1234.48,1900.4) scale(1.36,1)">0.55</text>
<text transform="translate(1271.7,1900.4) scale(1.36,1)">0.46</text>
<text transform="translate(1308.92,1900.4) scale(1.36,1)">0.28</text>
<text transform="translate(527.3,1930.05) scale(1.36,1)">−0.11</text>
<text transform="translate(564.52,1930.05) scale(1.36,1)">−0.14</text>
<text transform="translate(601.74,1930.05) scale(1.36,1)">0.35</text>
<text transform="translate(638.96,1930.05) scale(1.36,1)">−0.01</text>
<text transform="translate(676.18,1930.05) scale(1.36,1)">0.14</text>
<text transform="translate(713.4,1930.05) scale(1.36,1)">−0.07</text>
<text transform="translate(750.62,1930.05) scale(1.36,1)">−0.23</text>
<text transform="translate(787.84,1930.05) scale(1.36,1)">0.22</text>
<text transform="translate(825.06,1930.05) scale(1.36,1)">−0.22</text>
<text transform="translate(862.28,1930.05) scale(1.36,1)">−0.26</text>
<text transform="translate(899.5,1930.05) scale(1.36,1)">−0.23</text>
<text transform="translate(936.72,1930.05) scale(1.36,1)">−0.16</text>
<text transform="translate(973.94,1930.05) scale(1.36,1)">0.01</text>
<text transform="translate(1011.16,1930.05) scale(1.36,1)">0.25</text>
<text transform="translate(1048.38,1930.05) scale(1.36,1)">−0.09</text>
<text transform="translate(1085.6,1930.05) scale(1.36,1)">0.25</text>
<text transform="translate(1122.82,1930.05) scale(1.36,1)">0.26</text>
<text transform="translate(1160.04,1930.05) scale(1.36,1)">0.22</text>
<text transform="translate(1197.26,1930.05) scale(1.36,1)">0.55</text>
<text transform="translate(1234.48,1930.05) scale(1.36,1)">1</text>
<text transform="translate(1271.7,1930.05) scale(1.36,1)">0.27</text>
<text transform="translate(1308.92,1930.05) scale(1.36,1)">0.2</text>
<text transform="translate(527.3,1959.7) scale(1.36,1)">−0.05</text>
<text transform="translate(564.52,1959.7) scale(1.36,1)">−0.29</text>
<text transform="translate(601.74,1959.7) scale(1.36,1)">−0.13</text>
<text transform="translate(638.96,1959.7) scale(1.36,1)">−0.47</text>
<text transform="translate(676.18,1959.7) scale(1.36,1)">0.17</text>
<text transform="translate(713.4,1959.7) scale(1.36,1)">0.36</text>
<text transform="translate(750.62,1959.7) scale(1.36,1)">0.01</text>
<text transform="translate(787.84,1959.7) scale(1.36,1)">0.43</text>
<text transform="translate(825.06,1959.7) scale(1.36,1)">0.31</text>
<text transform="translate(862.28,1959.7) scale(1.36,1)">0.26</text>
<text transform="translate(899.5,1959.7) scale(1.36,1)">−0.12</text>
<text transform="translate(936.72,1959.7) scale(1.36,1)">−0.02</text>
<text transform="translate(973.94,1959.7) scale(1.36,1)">−0.18</text>
<text transform="translate(1011.16,1959.7) scale(1.36,1)">0.2</text>
<text transform="translate(1048.38,1959.7) scale(1.36,1)">−0.04</text>
<text transform="translate(1085.6,1959.7) scale(1.36,1)">0.13</text>
<text transform="translate(1122.82,1959.7) scale(1.36,1)">0.1</text>
<text transform="translate(1160.04,1959.7) scale(1.36,1)">0.08</text>
<text transform="translate(1197.26,1959.7) scale(1.36,1)">0.46</text>
<text transform="translate(1234.48,1959.7) scale(1.36,1)">0.27</text>
<text transform="translate(1271.7,1959.7) scale(1.36,1)">1</text>
<text transform="translate(1308.92,1959.7) scale(1.36,1)">0.42</text>
<text transform="translate(527.3,1989.35) scale(1.36,1)">−0.15</text>
<text transform="translate(564.52,1989.35) scale(1.36,1)">−0.14</text>
<text transform="translate(601.74,1989.35) scale(1.36,1)">−0.12</text>
<text transform="translate(638.96,1989.35) scale(1.36,1)">−0.03</text>
<text transform="translate(676.18,1989.35) scale(1.36,1)">−0.08</text>
<text transform="translate(713.4,1989.35) scale(1.36,1)">−0.03</text>
<text transform="translate(750.62,1989.35) scale(1.36,1)">−0.11</text>
<text transform="translate(787.84,1989.35) scale(1.36,1)">0</text>
<text transform="translate(825.06,1989.35) scale(1.36,1)">−0.25</text>
<text transform="translate(862.28,1989.35) scale(1.36,1)">0.1</text>
<text transform="translate(899.5,1989.35) scale(1.36,1)">−0.02</text>
<text transform="translate(936.72,1989.35) scale(1.36,1)">−0.06</text>
<text transform="translate(973.94,1989.35) scale(1.36,1)">−0.23</text>
<text transform="translate(1011.16,1989.35) scale(1.36,1)">0.03</text>
<text transform="translate(1048.38,1989.35) scale(1.36,1)">−0.05</text>
<text transform="translate(1085.6,1989.35) scale(1.36,1)">0.14</text>
<text transform="translate(1122.82,1989.35) scale(1.36,1)">−0.07</text>
<text transform="translate(1160.04,1989.35) scale(1.36,1)">−0.05</text>
<text transform="translate(1197.26,1989.35) scale(1.36,1)">0.28</text>
<text transform="translate(1234.48,1989.35) scale(1.36,1)">0.2</text>
<text transform="translate(1271.7,1989.35) scale(1.36,1)">0.42</text>
<text transform="translate(1308.92,1989.35) scale(1.36,1)">1</text>
</g>
<text x="501.6" y="1363.9" font-size="14.7" text-anchor="end">B cells memory</text>
<text x="501.6" y="1393.55" font-size="14.7" text-anchor="end">NK cells resting</text>
<text x="501.6" y="1423.2" font-size="14.7" text-anchor="end">T cells follicular helper</text>
<text x="501.6" y="1452.85" font-size="14.7" text-anchor="end">Macrophages M0</text>
<text x="501.6" y="1482.5" font-size="14.7" text-anchor="end">Plasma cells</text>
<text x="501.6" y="1512.15" font-size="14.7" text-anchor="end">T cells CD4 naive</text>
<text x="501.6" y="1541.8" font-size="14.7" text-anchor="end">T cells CD4 memory activated</text>
<text x="501.6" y="1571.45" font-size="14.7" text-anchor="end">NK cells activated</text>
<text x="501.6" y="1601.1" font-size="14.7" text-anchor="end">Mast cells resting</text>
<text x="501.6" y="1630.75" font-size="14.7" text-anchor="end">Macrophages M2</text>
<text x="501.6" y="1660.4" font-size="14.7" text-anchor="end">Dendritic cells activated</text>
<text x="501.6" y="1690.05" font-size="14.7" text-anchor="end">Neutrophils</text>
<text x="501.6" y="1719.7" font-size="14.7" text-anchor="end">Monocytes</text>
<text x="501.6" y="1749.35" font-size="14.7" text-anchor="end">Macrophages M1</text>
<text x="501.6" y="1779" font-size="14.7" text-anchor="end">T cells CD4 memory resting</text>
<text x="501.6" y="1808.65" font-size="14.7" text-anchor="end">Mast cells activated</text>
<text x="501.6" y="1838.3" font-size="14.7" text-anchor="end">T cells CD8</text>
<text x="501.6" y="1867.95" font-size="14.7" text-anchor="end">Dendritic cells resting</text>
<text x="501.6" y="1897.6" font-size="14.7" text-anchor="end">B cells naive</text>
<text x="501.6" y="1927.25" font-size="14.7" text-anchor="end">T cells regulatory (Tregs)</text>
<text x="501.6" y="1956.9" font-size="14.7" text-anchor="end">T cells gamma delta</text>
<text x="501.6" y="1986.55" font-size="14.7" text-anchor="end">Eosinophils</text>
<text transform="translate(528.8,2016) scale(1.26,0.7) rotate(-45)" font-size="14.2" text-anchor="end">B cells memory</text>
<text transform="translate(566.02,2016) scale(1.26,0.7) rotate(-45)" font-size="14.2" text-anchor="end">NK cells resting</text>
<text transform="translate(603.24,2016) scale(1.26,0.7) rotate(-45)" font-size="14.2" text-anchor="end">T cells follicular helper</text>
<text transform="translate(640.46,2016) scale(1.26,0.7) rotate(-45)" font-size="14.2" text-anchor="end">Macrophages M0</text>
<text transform="translate(677.68,2016) scale(1.26,0.7) rotate(-45)" font-size="14.2" text-anchor="end">Plasma cells</text>
<text transform="translate(714.9,2016) scale(1.26,0.7) rotate(-45)" font-size="14.2" text-anchor="end">T cells CD4 memory activated</text>
<text transform="translate(752.12,2016) scale(1.26,0.7) rotate(-45)" font-size="14.2" text-anchor="end">T cells CD4 naive</text>
<text transform="translate(789.34,2016) scale(1.26,0.7) rotate(-45)" font-size="14.2" text-anchor="end">NK cells activated</text>
<text transform="translate(826.56,2016) scale(1.26,0.7) rotate(-45)" font-size="14.2" text-anchor="end">Mast cells resting</text>
<text transform="translate(863.78,2016) scale(1.26,0.7) rotate(-45)" font-size="14.2" text-anchor="end">Macrophages M2</text>
<text transform="translate(901,2016) scale(1.26,0.7) rotate(-45)" font-size="14.2" text-anchor="end">Dendritic cells activated</text>
<text transform="translate(938.22,2016) scale(1.26,0.7) rotate(-45)" font-size="14.2" text-anchor="end">Neutrophils</text>
<text transform="translate(975.44,2016) scale(1.26,0.7) rotate(-45)" font-size="14.2" text-anchor="end">Monocytes</text>
<text transform="translate(1012.66,2016) scale(1.26,0.7) rotate(-45)" font-size="14.2" text-anchor="end">Macrophages M1</text>
<text transform="translate(1049.88,2016) scale(1.26,0.7) rotate(-45)" font-size="14.2" text-anchor="end">T cells CD4 memory resting</text>
<text transform="translate(1087.1,2016) scale(1.26,0.7) rotate(-45)" font-size="14.2" text-anchor="end">Mast cells activated</text>
<text transform="translate(1124.32,2016) scale(1.26,0.7) rotate(-45)" font-size="14.2" text-anchor="end">T cells CD8</text>
<text transform="translate(1161.54,2016) scale(1.26,0.7) rotate(-45)" font-size="14.2" text-anchor="end">Dendritic cells resting</text>
<text transform="translate(1198.76,2016) scale(1.26,0.7) rotate(-45)" font-size="14.2" text-anchor="end">T cells regulatory (Tregs)</text>
<text transform="translate(1235.98,2016) scale(1.26,0.7) rotate(-45)" font-size="14.2" text-anchor="end">B cells naive</text>
<text transform="translate(1273.2,2016) scale(1.26,0.7) rotate(-45)" font-size="14.2" text-anchor="end">T cells gamma delta</text>
<text transform="translate(1310.42,2016) scale(1.26,0.7) rotate(-45)" font-size="14.2" text-anchor="end">Eosinophils</text>
<g shape-rendering="crispEdges">
<rect x="1381" y="1350.9" width="21" height="7.03" fill="#ff0000"/>
<rect x="1381" y="1357.33" width="21" height="7.03" fill="#ff0505"/>
<rect x="1381" y="1363.75" width="21" height="7.03" fill="#ff0a0a"/>
<rect x="1381" y="1370.18" width="21" height="7.03" fill="#ff0f0f"/>
<rect x="1381" y="1376.6" width="21" height="7.03" fill="#ff1515"/>
<rect x="1381" y="1383.03" width="21" height="7.03" fill="#ff1a1a"/>
<rect x="1381" y="1389.46" width="21" height="7.03" fill="#ff1f1f"/>
<rect x="1381" y="1395.88" width="21" height="7.03" fill="#ff2424"/>
<rect x="1381" y="1402.31" width="21" height="7.03" fill="#ff2929"/>
<rect x="1381" y="1408.73" width="21" height="7.03" fill="#ff2e2e"/>
<rect x="1381" y="1415.16" width="21" height="7.03" fill="#ff3434"/>
<rect x="1381" y="1421.59" width="21" height="7.03" fill="#ff3939"/>
<rect x="1381" y="1428.01" width="21" height="7.03" fill="#ff3e3e"/>
<rect x="1381" y="1434.44" width="21" height="7.03" fill="#ff4343"/>
<rect x="1381" y="1440.86" width="21" height="7.03" fill="#ff4848"/>
<rect x="1381" y="1447.29" width="21" height="7.03" fill="#ff4d4d"/>
<rect x="1381" y="1453.72" width="21" height="7.03" fill="#ff5252"/>
<rect x="1381" y="1460.14" width="21" height="7.03" fill="#ff5858"/>
<rect x="1381" y="1466.57" width="21" height="7.03" fill="#ff5d5d"/>
<rect x="1381" y="1472.99" width="21" height="7.03" fill="#ff6262"/>
<rect x="1381" y="1479.42" width="21" height="7.03" fill="#ff6767"/>
<rect x="1381" y="1485.85" width="21" height="7.03" fill="#ff6c6c"/>
<rect x="1381" y="1492.27" width="21" height="7.03" fill="#ff7171"/>
<rect x="1381" y="1498.7" width="21" height="7.03" fill="#ff7676"/>
<rect x="1381" y="1505.12" width="21" height="7.03" fill="#ff7c7c"/>
<rect x="1381" y="1511.55" width="21" height="7.03" fill="#ff8181"/>
<rect x="1381" y="1517.98" width="21" height="7.03" fill="#ff8686"/>
<rect x="1381" y="1524.4" width="21" height="7.03" fill="#ff8b8b"/>
<rect x="1381" y="1530.83" width="21" height="7.03" fill="#ff9090"/>
<rect x="1381" y="1537.25" width="21" height="7.03" fill="#ff9595"/>
<rect x="1381" y="1543.68" width="21" height="7.03" fill="#ff9b9b"/>
<rect x="1381" y="1550.11" width="21" height="7.03" fill="#ffa0a0"/>
<rect x="1381" y="1556.53" width="21" height="7.03" fill="#ffa5a5"/>
<rect x="1381" y="1562.96" width="21" height="7.03" fill="#ffaaaa"/>
<rect x="1381" y="1569.38" width="21" height="7.03" fill="#ffafaf"/>
<rect x="1381" y="1575.81" width="21" height="7.03" fill="#ffb4b4"/>
<rect x="1381" y="1582.24" width="21" height="7.03" fill="#ffb9b9"/>
<rect x="1381" y="1588.66" width="21" height="7.03" fill="#ffbfbf"/>
<rect x="1381" y="1595.09" width="21" height="7.03" fill="#ffc4c4"/>
<rect x="1381" y="1601.51" width="21" height="7.03" fill="#ffc9c9"/>
<rect x="1381" y="1607.94" width="21" height="7.03" fill="#ffcece"/>
<rect x="1381" y="1614.37" width="21" height="7.03" fill="#ffd3d3"/>
<rect x="1381" y="1620.79" width="21" height="7.03" fill="#ffd8d8"/>
<rect x="1381" y="1627.22" width="21" height="7.03" fill="#ffdede"/>
<rect x="1381" y="1633.64" width="21" height="7.03" fill="#ffe3e3"/>
<rect x="1381" y="1640.07" width="21" height="7.03" fill="#ffe8e8"/>
<rect x="1381" y="1646.5" width="21" height="7.03" fill="#ffeded"/>
<rect x="1381" y="1652.92" width="21" height="7.03" fill="#fff2f2"/>
<rect x="1381" y="1659.35" width="21" height="7.03" fill="#fff7f7"/>
<rect x="1381" y="1665.77" width="21" height="7.03" fill="#fffcfc"/>
<rect x="1381" y="1672.2" width="21" height="7.03" fill="#fcfcff"/>
<rect x="1381" y="1678.63" width="21" height="7.03" fill="#f7f7ff"/>
<rect x="1381" y="1685.05" width="21" height="7.03" fill="#f2f2ff"/>
<rect x="1381" y="1691.48" width="21" height="7.03" fill="#ededff"/>
<rect x="1381" y="1697.9" width="21" height="7.03" fill="#e8e8ff"/>
<rect x="1381" y="1704.33" width="21" height="7.03" fill="#e3e3ff"/>
<rect x="1381" y="1710.76" width="21" height="7.03" fill="#dedeff"/>
<rect x="1381" y="1717.18" width="21" height="7.03" fill="#d8d8ff"/>
<rect x="1381" y="1723.61" width="21" height="7.03" fill="#d3d3ff"/>
<rect x="1381" y="1730.03" width="21" height="7.03" fill="#ceceff"/>
<rect x="1381" y="1736.46" width="21" height="7.03" fill="#c9c9ff"/>
<rect x="1381" y="1742.89" width="21" height="7.03" fill="#c4c4ff"/>
<rect x="1381" y="1749.31" width="21" height="7.03" fill="#bfbfff"/>
<rect x="1381" y="1755.74" width="21" height="7.03" fill="#b9b9ff"/>
<rect x="1381" y="1762.16" width="21" height="7.03" fill="#b4b4ff"/>
<rect x="1381" y="1768.59" width="21" height="7.03" fill="#afafff"/>
<rect x="1381" y="1775.02" width="21" height="7.03" fill="#aaaaff"/>
<rect x="1381" y="1781.44" width="21" height="7.03" fill="#a5a5ff"/>
<rect x="1381" y="1787.87" width="21" height="7.03" fill="#a0a0ff"/>
<rect x="1381" y="1794.29" width="21" height="7.03" fill="#9b9bff"/>
<rect x="1381" y="1800.72" width="21" height="7.03" fill="#9595ff"/>
<rect x="1381" y="1807.15" width="21" height="7.03" fill="#9090ff"/>
<rect x="1381" y="1813.57" width="21" height="7.03" fill="#8b8bff"/>
<rect x="1381" y="1820" width="21" height="7.03" fill="#8686ff"/>
<rect x="1381" y="1826.42" width="21" height="7.03" fill="#8181ff"/>
<rect x="1381" y="1832.85" width="21" height="7.03" fill="#7c7cff"/>
<rect x="1381" y="1839.28" width="21" height="7.03" fill="#7676ff"/>
<rect x="1381" y="1845.7" width="21" height="7.03" fill="#7171ff"/>
<rect x="1381" y="1852.13" width="21" height="7.03" fill="#6c6cff"/>
<rect x="1381" y="1858.55" width="21" height="7.03" fill="#6767ff"/>
<rect x="1381" y="1864.98" width="21" height="7.03" fill="#6262ff"/>
<rect x="1381" y="1871.41" width="21" height="7.03" fill="#5d5dff"/>
<rect x="1381" y="1877.83" width="21" height="7.03" fill="#5858ff"/>
<rect x="1381" y="1884.26" width="21" height="7.03" fill="#5252ff"/>
<rect x="1381" y="1890.68" width="21" height="7.03" fill="#4d4dff"/>
<rect x="1381" y="1897.11" width="21" height="7.03" fill="#4848ff"/>
<rect x="1381" y="1903.54" width="21" height="7.03" fill="#4343ff"/>
<rect x="1381" y="1909.96" width="21" height="7.03" fill="#3e3eff"/>
<rect x="1381" y="1916.39" width="21" height="7.03" fill="#3939ff"/>
<rect x="1381" y="1922.81" width="21" height="7.03" fill="#3434ff"/>
<rect x="1381" y="1929.24" width="21" height="7.03" fill="#2e2eff"/>
<rect x="1381" y="1935.67" width="21" height="7.03" fill="#2929ff"/>
<rect x="1381" y="1942.09" width="21" height="7.03" fill="#2424ff"/>
<rect x="1381" y="1948.52" width="21" height="7.03" fill="#1f1fff"/>
<rect x="1381" y="1954.94" width="21" height="7.03" fill="#1a1aff"/>
<rect x="1381" y="1961.37" width="21" height="7.03" fill="#1515ff"/>
<rect x="1381" y="1967.8" width="21" height="7.03" fill="#0f0fff"/>
<rect x="1381" y="1974.22" width="21" height="7.03" fill="#0a0aff"/>
<rect x="1381" y="1980.65" width="21" height="7.03" fill="#0505ff"/>
<rect x="1381" y="1987.07" width="21" height="7.03" fill="#0000ff"/>
</g>
<rect x="1379.6" y="1350.9" width="23.6" height="642.6" fill="none" stroke="#000" stroke-width="3"/>
<line x1="1403" y1="1350.9" x2="1409.2" y2="1350.9" stroke="#000" stroke-width="2.2"/>
<text x="1431.5" y="1352.8" font-size="19.4">1</text>
<line x1="1403" y1="1415.16" x2="1409.2" y2="1415.16" stroke="#000" stroke-width="2.2"/>
<text x="1429.2" y="1417.06" font-size="19.4">0.8</text>
<line x1="1403" y1="1479.42" x2="1409.2" y2="1479.42" stroke="#000" stroke-width="2.2"/>
<text x="1429.2" y="1481.32" font-size="19.4">0.6</text>
<line x1="1403" y1="1543.68" x2="1409.2" y2="1543.68" stroke="#000" stroke-width="2.2"/>
<text x="1429.2" y="1545.58" font-size="19.4">0.4</text>
<line x1="1403" y1="1607.94" x2="1409.2" y2="1607.94" stroke="#000" stroke-width="2.2"/>
<text x="1429.2" y="1609.84" font-size="19.4">0.2</text>
<line x1="1403" y1="1672.2" x2="1409.2" y2="1672.2" stroke="#000" stroke-width="2.2"/>
<text x="1431.5" y="1674.1" font-size="19.4">0</text>
<line x1="1403" y1="1736.46" x2="1409.2" y2="1736.46" stroke="#000" stroke-width="2.2"/>
<text x="1429.2" y="1738.36" font-size="19.4">−0.2</text>
<line x1="1403" y1="1800.72" x2="1409.2" y2="1800.72" stroke="#000" stroke-width="2.2"/>
<text x="1429.2" y="1802.62" font-size="19.4">−0.4</text>
<line x1="1403" y1="1864.98" x2="1409.2" y2="1864.98" stroke="#000" stroke-width="2.2"/>
<text x="1429.2" y="1866.88" font-size="19.4">−0.6</text>
<line x1="1403" y1="1929.24" x2="1409.2" y2="1929.24" stroke="#000" stroke-width="2.2"/>
<text x="1429.2" y="1931.14" font-size="19.4">−0.8</text>
<line x1="1403" y1="1993.5" x2="1409.2" y2="1993.5" stroke="#000" stroke-width="2.2"/>
<text x="1430" y="1995.4" font-size="19.4">−1</text>
</g>
</svg></body></html>
